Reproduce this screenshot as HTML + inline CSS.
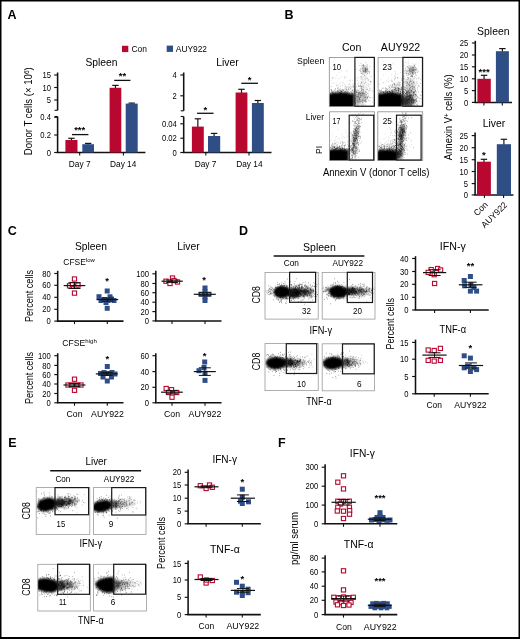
<!DOCTYPE html>
<html><head><meta charset="utf-8"><title>Figure</title>
<style>
html,body{margin:0;padding:0;background:#fff}
svg{display:block;font-family:"Liberation Sans",sans-serif}
</style></head><body>
<svg width="520" height="639" viewBox="0 0 520 639" opacity="0.999">
<rect x="0" y="0" width="520" height="639" fill="#fff"/>
<defs><filter id="bl" x="-30%" y="-30%" width="160%" height="160%"><feGaussianBlur stdDeviation="1.1"/></filter><filter id="b2"><feGaussianBlur stdDeviation="0.3"/></filter><clipPath id="c1"><rect x="329.3" y="57.4" width="45.3" height="49.1"/></clipPath><clipPath id="c2"><rect x="378.1" y="57.4" width="44.7" height="49.1"/></clipPath><clipPath id="c3"><rect x="329.6" y="111.8" width="44.9" height="48.6"/></clipPath><clipPath id="c4"><rect x="377.8" y="111.8" width="44.9" height="48.6"/></clipPath><clipPath id="c5"><rect x="265" y="272.4" width="53.2" height="46.7"/></clipPath><clipPath id="c6"><rect x="322.2" y="272.4" width="52.8" height="46.7"/></clipPath><clipPath id="c7"><rect x="265" y="343.6" width="53.2" height="47"/></clipPath><clipPath id="c8"><rect x="322.2" y="343.8" width="52.2" height="47"/></clipPath><clipPath id="c9"><rect x="36.2" y="487.6" width="53.6" height="47"/></clipPath><clipPath id="c10"><rect x="93.5" y="487.6" width="52.5" height="47"/></clipPath><clipPath id="c11"><rect x="37.8" y="564.3" width="52.5" height="46.7"/></clipPath><clipPath id="c12"><rect x="93.6" y="564.3" width="52.8" height="46.7"/></clipPath></defs>
<text x="7.5" y="18.5" font-size="12.5" font-weight="bold">A</text>
<text x="284.5" y="18.5" font-size="12.5" font-weight="bold">B</text>
<text x="7.8" y="235.2" font-size="12.5" font-weight="bold">C</text>
<text x="239" y="234.8" font-size="12.5" font-weight="bold">D</text>
<text x="8.3" y="447.1" font-size="12.5" font-weight="bold">E</text>
<text x="278" y="446.9" font-size="12.5" font-weight="bold">F</text>
<rect x="122" y="45.8" width="6.3" height="6.3" fill="#B8082F"/>
<text x="131.5" y="52.3" font-size="8.6" textLength="15.5" lengthAdjust="spacingAndGlyphs">Con</text>
<rect x="166.7" y="45.6" width="6.3" height="6.3" fill="#2F4E86"/>
<text x="175.8" y="52.3" font-size="8.6" textLength="31.2" lengthAdjust="spacingAndGlyphs">AUY922</text>
<text x="101.5" y="66.4" font-size="10.6" text-anchor="middle" textLength="32" lengthAdjust="spacingAndGlyphs">Spleen</text>
<line x1="57.6" y1="72.5" x2="57.6" y2="110.3" stroke="#111" stroke-width="1.55"/>
<line x1="54.6" y1="110.3" x2="57.6" y2="110.3" stroke="#111" stroke-width="1.1"/>
<line x1="57.6" y1="116.5" x2="57.6" y2="152.5" stroke="#111" stroke-width="1.55"/>
<line x1="54.6" y1="116.5" x2="57.6" y2="116.5" stroke="#111" stroke-width="1.1"/>
<line x1="54.2" y1="75" x2="57.6" y2="75" stroke="#111" stroke-width="1.15"/>
<text x="51" y="78.17" font-size="8.8" text-anchor="end" textLength="8.51" lengthAdjust="spacingAndGlyphs">15</text>
<line x1="54.2" y1="87.5" x2="57.6" y2="87.5" stroke="#111" stroke-width="1.15"/>
<text x="51" y="90.67" font-size="8.8" text-anchor="end" textLength="8.51" lengthAdjust="spacingAndGlyphs">10</text>
<line x1="54.2" y1="100" x2="57.6" y2="100" stroke="#111" stroke-width="1.15"/>
<text x="51" y="103.17" font-size="8.8" text-anchor="end" textLength="4.26" lengthAdjust="spacingAndGlyphs">5</text>
<line x1="54.2" y1="117.3" x2="57.6" y2="117.3" stroke="#111" stroke-width="1.15"/>
<text x="51" y="120.47" font-size="8.8" text-anchor="end" textLength="10.64" lengthAdjust="spacingAndGlyphs">0.4</text>
<line x1="54.2" y1="135" x2="57.6" y2="135" stroke="#111" stroke-width="1.15"/>
<text x="51" y="138.17" font-size="8.8" text-anchor="end" textLength="10.64" lengthAdjust="spacingAndGlyphs">0.2</text>
<line x1="54.2" y1="152.5" x2="57.6" y2="152.5" stroke="#111" stroke-width="1.15"/>
<text x="51" y="155.67" font-size="8.8" text-anchor="end" textLength="4.26" lengthAdjust="spacingAndGlyphs">0</text>
<line x1="56.83" y1="152.5" x2="145.4" y2="152.5" stroke="#111" stroke-width="1.55"/>
<line x1="79.7" y1="152.5" x2="79.7" y2="155.5" stroke="#111" stroke-width="1.1"/>
<line x1="123.4" y1="152.5" x2="123.4" y2="155.5" stroke="#111" stroke-width="1.1"/>
<line x1="71.45" y1="138.3" x2="71.45" y2="140.5" stroke="#151515" stroke-width="1.2"/>
<line x1="68.25" y1="138.3" x2="74.65" y2="138.3" stroke="#151515" stroke-width="1.2"/>
<rect x="65.4" y="140" width="12.1" height="12.5" fill="#B8082F"/>
<line x1="88.15" y1="143.4" x2="88.15" y2="144.7" stroke="#151515" stroke-width="1.2"/>
<line x1="84.95" y1="143.4" x2="91.35" y2="143.4" stroke="#151515" stroke-width="1.2"/>
<rect x="82.3" y="144.2" width="11.7" height="8.3" fill="#2F4E86"/>
<line x1="115.45" y1="85.4" x2="115.45" y2="88.3" stroke="#151515" stroke-width="1.2"/>
<line x1="112.25" y1="85.4" x2="118.65" y2="85.4" stroke="#151515" stroke-width="1.2"/>
<rect x="109.6" y="87.8" width="11.7" height="64.7" fill="#B8082F"/>
<line x1="131.7" y1="103.1" x2="131.7" y2="104.1" stroke="#151515" stroke-width="1.2"/>
<line x1="128.5" y1="103.1" x2="134.9" y2="103.1" stroke="#151515" stroke-width="1.2"/>
<rect x="125.7" y="103.6" width="12" height="48.9" fill="#2F4E86"/>
<line x1="72" y1="134.6" x2="88.4" y2="134.6" stroke="#111" stroke-width="1.3"/>
<text x="79.7" y="133.35" font-size="9.5" text-anchor="middle" font-weight="bold">***</text>
<line x1="114.2" y1="80.4" x2="130.4" y2="80.4" stroke="#111" stroke-width="1.3"/>
<text x="122.5" y="79.35" font-size="9.5" text-anchor="middle" font-weight="bold">**</text>
<text x="79.7" y="167.3" font-size="8.8" text-anchor="middle" textLength="21.7" lengthAdjust="spacingAndGlyphs">Day 7</text>
<text x="123.2" y="167.3" font-size="8.8" text-anchor="middle" textLength="26.3" lengthAdjust="spacingAndGlyphs">Day 14</text>
<text transform="translate(32.2 111.2) rotate(-90)" font-size="10.4" text-anchor="middle" textLength="88" lengthAdjust="spacingAndGlyphs">Donor T cells (× 10<tspan font-size="7" dy="-3.5">6</tspan><tspan dy="3.5">)</tspan></text>
<text x="227.5" y="66.4" font-size="10.6" text-anchor="middle" textLength="22.5" lengthAdjust="spacingAndGlyphs">Liver</text>
<line x1="183.7" y1="72.5" x2="183.7" y2="110.8" stroke="#111" stroke-width="1.55"/>
<line x1="180.7" y1="110.8" x2="183.7" y2="110.8" stroke="#111" stroke-width="1.1"/>
<line x1="183.7" y1="116.5" x2="183.7" y2="152.5" stroke="#111" stroke-width="1.55"/>
<line x1="180.7" y1="116.5" x2="183.7" y2="116.5" stroke="#111" stroke-width="1.1"/>
<line x1="180.3" y1="75" x2="183.7" y2="75" stroke="#111" stroke-width="1.15"/>
<text x="176.8" y="78.17" font-size="8.8" text-anchor="end" textLength="4.26" lengthAdjust="spacingAndGlyphs">4</text>
<line x1="180.3" y1="95.8" x2="183.7" y2="95.8" stroke="#111" stroke-width="1.15"/>
<text x="176.8" y="98.97" font-size="8.8" text-anchor="end" textLength="4.26" lengthAdjust="spacingAndGlyphs">2</text>
<line x1="180.3" y1="123.8" x2="183.7" y2="123.8" stroke="#111" stroke-width="1.15"/>
<text x="176.8" y="126.97" font-size="8.8" text-anchor="end" textLength="14.9" lengthAdjust="spacingAndGlyphs">0.04</text>
<line x1="180.3" y1="138.2" x2="183.7" y2="138.2" stroke="#111" stroke-width="1.15"/>
<text x="176.8" y="141.37" font-size="8.8" text-anchor="end" textLength="14.9" lengthAdjust="spacingAndGlyphs">0.02</text>
<line x1="180.3" y1="152.5" x2="183.7" y2="152.5" stroke="#111" stroke-width="1.15"/>
<text x="176.8" y="155.67" font-size="8.8" text-anchor="end" textLength="4.26" lengthAdjust="spacingAndGlyphs">0</text>
<line x1="182.92" y1="152.5" x2="271.5" y2="152.5" stroke="#111" stroke-width="1.55"/>
<line x1="205.8" y1="152.5" x2="205.8" y2="155.5" stroke="#111" stroke-width="1.1"/>
<line x1="249" y1="152.5" x2="249" y2="155.5" stroke="#111" stroke-width="1.1"/>
<line x1="197.85" y1="118.8" x2="197.85" y2="127.1" stroke="#151515" stroke-width="1.2"/>
<line x1="194.65" y1="118.8" x2="201.05" y2="118.8" stroke="#151515" stroke-width="1.2"/>
<rect x="191.9" y="126.6" width="11.9" height="25.9" fill="#B8082F"/>
<line x1="214.1" y1="133.4" x2="214.1" y2="136.5" stroke="#151515" stroke-width="1.2"/>
<line x1="210.9" y1="133.4" x2="217.3" y2="133.4" stroke="#151515" stroke-width="1.2"/>
<rect x="208" y="136" width="12.2" height="16.5" fill="#2F4E86"/>
<line x1="241.5" y1="89.3" x2="241.5" y2="93" stroke="#151515" stroke-width="1.2"/>
<line x1="238.3" y1="89.3" x2="244.7" y2="89.3" stroke="#151515" stroke-width="1.2"/>
<rect x="235.6" y="92.5" width="11.8" height="60" fill="#B8082F"/>
<line x1="257.85" y1="100.5" x2="257.85" y2="103.5" stroke="#151515" stroke-width="1.2"/>
<line x1="254.65" y1="100.5" x2="261.05" y2="100.5" stroke="#151515" stroke-width="1.2"/>
<rect x="251.9" y="103" width="11.9" height="49.5" fill="#2F4E86"/>
<line x1="197.1" y1="113.3" x2="213.5" y2="113.3" stroke="#111" stroke-width="1.3"/>
<text x="205.3" y="112.55" font-size="9.5" text-anchor="middle" font-weight="bold">*</text>
<line x1="241.3" y1="83.3" x2="258" y2="83.3" stroke="#111" stroke-width="1.3"/>
<text x="249.5" y="82.75" font-size="9.5" text-anchor="middle" font-weight="bold">*</text>
<text x="205.6" y="167.3" font-size="8.8" text-anchor="middle" textLength="21.7" lengthAdjust="spacingAndGlyphs">Day 7</text>
<text x="249.4" y="167.3" font-size="8.8" text-anchor="middle" textLength="26.3" lengthAdjust="spacingAndGlyphs">Day 14</text>
<text x="351.6" y="50.8" font-size="10.4" text-anchor="middle" textLength="19.4" lengthAdjust="spacingAndGlyphs">Con</text>
<text x="400.5" y="50.8" font-size="10.4" text-anchor="middle" textLength="39.3" lengthAdjust="spacingAndGlyphs">AUY922</text>
<text x="324.3" y="64.2" font-size="8.8" text-anchor="end" textLength="27.2" lengthAdjust="spacingAndGlyphs">Spleen</text>
<text x="324" y="119.8" font-size="8.8" text-anchor="end" textLength="18.2" lengthAdjust="spacingAndGlyphs">Liver</text>
<text transform="translate(321.7 150) rotate(-90)" font-size="8.8" text-anchor="middle" textLength="8.2" lengthAdjust="spacingAndGlyphs">PI</text>
<text x="376.2" y="175.8" font-size="10.2" text-anchor="middle" textLength="106.5" lengthAdjust="spacingAndGlyphs">Annexin V (donor T cells)</text>
<g clip-path="url(#c1)">
<g filter="url(#bl)">
<rect x="327" y="93.8" width="27" height="16.2" fill="#000" fill-opacity="1"/>
<ellipse cx="341" cy="96.5" rx="10" ry="4.2" fill="#000" fill-opacity="0.95"/>
<ellipse cx="334" cy="96" rx="5" ry="3.4" fill="#000" fill-opacity="0.8"/>
<ellipse cx="357" cy="101" rx="3" ry="5" fill="#000" fill-opacity="0.3"/>
<ellipse cx="364.7" cy="69.5" rx="3.2" ry="2.8" fill="#000" fill-opacity="0.24"/>
<ellipse cx="362" cy="97" rx="5" ry="7" fill="#000" fill-opacity="0.16"/>
<ellipse cx="364" cy="84" rx="4" ry="9" fill="#000" fill-opacity="0.06"/>
</g><g filter="url(#b2)">
<path d="M339.14 94.83h0.6M339.44 92.68h0.6M332.4 92.95h0.6M352.82 94.6h0.6M352.07 94.15h0.6M345.65 93.98h0.6M346.76 94.8h0.6M332.8 92.28h0.6M344.75 93.38h0.6M346.91 91.83h0.6M344.79 94.52h0.6M335.09 97.97h0.6M347.27 96.61h0.6M335.5 91.58h0.6M338.26 93.22h0.6M348.02 94.15h0.6M337.23 91.01h0.6M336.49 96.67h0.6M333.62 94.14h0.6M345.97 89.63h0.6M342.18 96.9h0.6M340.64 91.38h0.6M346.67 93.34h0.6M348.39 95.96h0.6M356.11 94.44h0.6M342.89 90.12h0.6M347.85 91.91h0.6M337.17 90.21h0.6M332.02 92.12h0.6M354.59 88.22h0.6M356.13 95h0.6M345.27 91.59h0.6M330.5 96.04h0.6M352.72 93.91h0.6M344.16 94.63h0.6M357.64 95.11h0.6M346.89 94.92h0.6M351.25 94.88h0.6M350.12 88.79h0.6M339.86 96.15h0.6M347.22 93.11h0.6M344.95 95.19h0.6M342.9 96.48h0.6M335.08 92.42h0.6M352.12 93.57h0.6M332.9 95.96h0.6M356.35 92.34h0.6M340.21 92.73h0.6M355.75 90.83h0.6M354.31 90.2h0.6M333.83 95.14h0.6M352.99 95.73h0.6M345.15 93.87h0.6M343.22 95h0.6M339.94 94.22h0.6M347.43 93.5h0.6M349.34 94.97h0.6M361.81 94.34h0.6M337.42 92.53h0.6M341.57 95.9h0.6M338.33 94.5h0.6M360.07 86.83h0.6M330.46 94.13h0.6M345.68 94.12h0.6M337.39 95.2h0.6M344.52 92.14h0.6M366 94.42h0.6M336.16 93.24h0.6M339.44 93.34h0.6M351.79 90.46h0.6M341.03 95.98h0.6M350.26 97.38h0.6M338.29 95.12h0.6M352.62 86.52h0.6M352.59 89.74h0.6M348.53 89.62h0.6M343.46 96.61h0.6M340.21 94h0.6M349.67 93.87h0.6M340.82 97.49h0.6M352.18 92.74h0.6M369.15 90.52h0.6M350.85 92.81h0.6M343.02 95.33h0.6M343.92 95.16h0.6M347.85 91h0.6M331.43 89.68h0.6M354.36 95.44h0.6M356.43 91.06h0.6M341.71 90.54h0.6M349.36 97.63h0.6M332.8 97.56h0.6M351.58 93.04h0.6M340.74 91.93h0.6M345.7 94.57h0.6M356.68 90.85h0.6M353.06 97.37h0.6M356.22 93.03h0.6M334.26 96.15h0.6M342.85 93.82h0.6M355.94 92.82h0.6M344.87 91.91h0.6M341.6 95.66h0.6M342.49 96.95h0.6M341.09 96.2h0.6M356.61 97.69h0.6M334.98 95.79h0.6M339.78 93.43h0.6M335.78 94.11h0.6M359.61 93.62h0.6M347.01 96.1h0.6M339.72 90.22h0.6M336.15 96.29h0.6M351.77 95.56h0.6M341.78 95.59h0.6M343.36 90.43h0.6M350.93 92.03h0.6M332.68 91.5h0.6M329.9 94.45h0.6M335.28 88.45h0.6M348.95 92.78h0.6M344.61 92.31h0.6M349.5 95.44h0.6M348.36 94.35h0.6M355.04 95.22h0.6M346.21 88.08h0.6M350.67 96.9h0.6M338.73 92.28h0.6M361.1 88.93h0.6M346.39 99.8h0.6M332.42 95.29h0.6M360.56 93.19h0.6M347.31 95.85h0.6M332.64 93.27h0.6M344.63 95.65h0.6M341.35 92.99h0.6M331.54 92.57h0.6M350.62 93.76h0.6M333.17 91.31h0.6M368.37 96.46h0.6M348.07 86.76h0.6M347.91 94.75h0.6M358.54 94.61h0.6M341.03 94.86h0.6M344.95 91.67h0.6M354.96 98.2h0.6M344.61 93.98h0.6M337.72 90.97h0.6M362.9 96.2h0.6M329.76 90h0.6M358.73 96.07h0.6M359.91 95.61h0.6M332.98 94.18h0.6M341.11 94.86h0.6M334.42 93.18h0.6M346.29 94.48h0.6M348.08 94.04h0.6M338.46 95.55h0.6M342.19 91.35h0.6M335.44 93.5h0.6M340.6 93.91h0.6M341.7 93.96h0.6M340.36 90.23h0.6M345.91 96.24h0.6M346.05 93.01h0.6M346.16 90.99h0.6M332.4 95.42h0.6M330.86 86.67h0.6M331.3 97.6h0.6M337.88 89.94h0.6M334.07 94.85h0.6M346.67 93.96h0.6M356.54 95.34h0.6M341.49 95.05h0.6M358.25 96.03h0.6M351.94 90.68h0.6M340.22 95.4h0.6M338.74 96.28h0.6M347.66 95.86h0.6M339.58 100.12h0.6M354.1 92.94h0.6M342.61 100.25h0.6M338.27 95.77h0.6M351.5 93.52h0.6M330.03 93.99h0.6M345.29 96.44h0.6M349.53 93.56h0.6M350.24 94.9h0.6M343.76 93.64h0.6M339.27 95.28h0.6M331.16 91.87h0.6M341.75 89.69h0.6M337.34 88.28h0.6M334.87 94.98h0.6M347.36 93.36h0.6M339.38 89.82h0.6M359.98 94.84h0.6M352.63 91.21h0.6M339.85 88.77h0.6M349.5 95.93h0.6M348 88.92h0.6M335.41 89.85h0.6M342.02 94.15h0.6M348.04 95.33h0.6M356.73 96.53h0.6M331.1 90.7h0.6M340.89 93.51h0.6M346.6 89.37h0.6M339.71 92.69h0.6M341.07 91.52h0.6M348.71 94.42h0.6M340.82 91.75h0.6M339.96 86.42h0.6M331.89 93.6h0.6M343.17 89.92h0.6M339.19 92.68h0.6M346.3 95.09h0.6M341.34 91.29h0.6M340.26 93.33h0.6M349.04 94.27h0.6M334.47 89.98h0.6M337.97 91.57h0.6M330.58 93.2h0.6M336.79 93.77h0.6M346.93 92.43h0.6M364.94 92.66h0.6M352.72 93.82h0.6M352.86 87.32h0.6M334.19 94.14h0.6M347.72 99.57h0.6M344.93 96.83h0.6M349.36 95.96h0.6M346.8 93.09h0.6M346.79 90.7h0.6M353.51 90.86h0.6M344.19 99.01h0.6M339.47 93.55h0.6M353.33 93.57h0.6M333.62 94.17h0.6M347.52 95.35h0.6M333.97 98.06h0.6M358.37 93.55h0.6M344.39 92.39h0.6M355.84 91.67h0.6M348.44 92.25h0.6M334.76 95.37h0.6M355.04 93.47h0.6M334.93 95.61h0.6M341.2 94.31h0.6M356.93 96.44h0.6M336.5 99.44h0.6M341.73 95.54h0.6M335.23 93.38h0.6M355.36 90.34h0.6M353.46 92.31h0.6M341.09 92.69h0.6M340.49 90.67h0.6M341.94 89.76h0.6M340.99 94.3h0.6M346.38 92.9h0.6M332.66 93.91h0.6M336.85 97.57h0.6M349.38 93.2h0.6M336.99 91.67h0.6M332.33 92.58h0.6M344.65 94.84h0.6M347.39 98.96h0.6M334.65 93.53h0.6M369.65 88.65h0.6M336.49 93.94h0.6M343.24 94.56h0.6M339.31 94.45h0.6M342.23 95.51h0.6M341.68 90.82h0.6M331.25 95.13h0.6M335.2 95.15h0.6M349.16 94.3h0.6M346.78 93.23h0.6M346.24 92.12h0.6M340.7 95.45h0.6M332.92 95.16h0.6M360.33 92.06h0.6M343.17 93.11h0.6M357.1 94.32h0.6M350.68 91.71h0.6M341.54 93.47h0.6M350.69 88.95h0.6M349.14 93.16h0.6M346.18 94.45h0.6M356.63 92.01h0.6M331.47 89.97h0.6M358.63 94.62h0.6M344.16 99.31h0.6M336.51 91.75h0.6M346.98 94.93h0.6M331.55 90.46h0.6M344.61 94.14h0.6M336.27 94.7h0.6M340.53 93.28h0.6M338.17 96.24h0.6" stroke="#000" stroke-width="0.6" fill="none" stroke-opacity="0.7"/>
<path d="M358.61 86.17h0.6M353.16 84.21h0.6M345.42 91.75h0.6M359.84 86.09h0.6M343.96 88.98h0.6M329.72 88.08h0.6M337.94 89.86h0.6M333.4 78.12h0.6M345.08 89.3h0.6M339.21 92.44h0.6M341.97 84.97h0.6M349.48 80.16h0.6M337.93 87.9h0.6M353.19 87.19h0.6M347.78 84.72h0.6M347.72 96.32h0.6M337.84 99.83h0.6M338.26 88.09h0.6M346.43 93.12h0.6M332.33 77.5h0.6M350.76 91.98h0.6M350.94 101.15h0.6M346.75 89.27h0.6M353.99 89.84h0.6M361.34 81.81h0.6M340.95 70.78h0.6M352.82 86.14h0.6M353.94 98.77h0.6M344.64 86.73h0.6M339.7 83.81h0.6M338.4 91.2h0.6M345.07 88.33h0.6M342.97 92.57h0.6M349.64 87.29h0.6M351.35 87.24h0.6M333.17 95.28h0.6M349.35 83.21h0.6M355.49 89.72h0.6M348.03 92.46h0.6M346.68 87.25h0.6M345 86.57h0.6M348.21 88.39h0.6M351.46 86.14h0.6M344.34 77.31h0.6M340.47 91.38h0.6M358.07 86.18h0.6M343.49 95.92h0.6M341.44 91.67h0.6M361.48 88.2h0.6M356.97 84.45h0.6M346.78 87.61h0.6M345.85 93.65h0.6M368.6 84.67h0.6M338.95 90.49h0.6M334.15 90.49h0.6M350.42 86.61h0.6M350.01 80.25h0.6M352.3 80.28h0.6M337.74 85.22h0.6M340.69 92.29h0.6M345.52 86.01h0.6M350.13 95.91h0.6M344.76 89.83h0.6M357.1 89.34h0.6M331.86 100.45h0.6M366.78 78.08h0.6M344.31 90.09h0.6M354.36 91.35h0.6M341.98 82.73h0.6M345.73 93.17h0.6M333.8 82.86h0.6M344.45 78.31h0.6M342.1 85.82h0.6M349.21 84.49h0.6M335.88 86.03h0.6M344.2 84.68h0.6M344.82 91.75h0.6M356.55 96.52h0.6M336.87 85.9h0.6M337.45 87.83h0.6M349.93 81.21h0.6M349.34 87.87h0.6M356.65 78.66h0.6M352.77 89.05h0.6M349.45 90.21h0.6M357.74 86.88h0.6M353.44 85.95h0.6M351.98 83.93h0.6M343.62 96.66h0.6M349.16 87.21h0.6" stroke="#000" stroke-width="0.6" fill="none" stroke-opacity="0.4"/>
<path d="M357.12 92.26h0.6M362.47 102.64h0.6M363.4 100.14h0.6M361.53 105.11h0.6M360.14 93.7h0.6M365.25 97.38h0.6M360.59 93.54h0.6M360.67 100.74h0.6M363.11 89.74h0.6M363.41 98.07h0.6M357.7 101.64h0.6M360.58 94.99h0.6M364.88 104.92h0.6M358.95 99.63h0.6M359.72 104.17h0.6M359.11 101.87h0.6M370.58 81.75h0.6M359.96 100h0.6M361.33 92.99h0.6M370.31 97.48h0.6M355.12 102.12h0.6M354.81 103.91h0.6M359.39 97.87h0.6M366.74 97.71h0.6M356.14 86.82h0.6M366.43 101.44h0.6M358.44 102.16h0.6M363.69 100.89h0.6M352.66 95.19h0.6M365.3 101.4h0.6M365.23 82.26h0.6M362.38 99.95h0.6M371.91 91.28h0.6M360.38 97.22h0.6M365.24 94.34h0.6M366.29 92.27h0.6M362.77 93.84h0.6M362.33 92.86h0.6M355.31 103.56h0.6M362.91 93.65h0.6M362.5 102.94h0.6M357.79 96.34h0.6M363.86 100.16h0.6M360.36 84.36h0.6M366.67 98.97h0.6M361.75 95.33h0.6M362.75 94.45h0.6M357.6 92.56h0.6M359.31 93.33h0.6M357.07 100.82h0.6M356.46 100.96h0.6M357.64 99.11h0.6M367.2 98.22h0.6M358.78 97.29h0.6M362.29 86.6h0.6M359.27 97.98h0.6M359.82 97.48h0.6M364.64 101.6h0.6M365.32 100.53h0.6M360.55 96.89h0.6M360.62 95.12h0.6M360.98 86.65h0.6M360.37 96.86h0.6M357.8 96.86h0.6M363.76 96.01h0.6M370.01 81.36h0.6M360.87 86.05h0.6M351.69 97.77h0.6M363.78 95.19h0.6M363.91 83.54h0.6M365.11 99.23h0.6M361.79 93.47h0.6M364.25 94.09h0.6M362.59 93.94h0.6M352.71 96.81h0.6M362.51 101.53h0.6M358.2 96.8h0.6M364.17 97.87h0.6M358.07 85.47h0.6M365.39 101.88h0.6M359.23 92.72h0.6M365.25 91.53h0.6M354.45 91.01h0.6M358.95 92.63h0.6M362.63 92.5h0.6M366.94 96.53h0.6M357.35 104.85h0.6M359.37 98.33h0.6M361.65 95.11h0.6M363 92.85h0.6M354.32 83.75h0.6M356.63 92.45h0.6M361.61 97.33h0.6M363.92 97.72h0.6M358.53 92.75h0.6M353.22 95.99h0.6M363.64 100.18h0.6M361.21 95.95h0.6M365.45 97.09h0.6M364.65 100.5h0.6M362.55 104.84h0.6M359.41 94.85h0.6M358.47 92.22h0.6M361.79 100.41h0.6M366.4 101.84h0.6M366.52 89.42h0.6M359.14 99.72h0.6M367.44 97.62h0.6M358.27 94.87h0.6M359.06 91.85h0.6M367.7 93.25h0.6M366.44 99.02h0.6M359.25 99.46h0.6M368.19 100.74h0.6M366.75 97.59h0.6M363.77 95.79h0.6M363.41 104.8h0.6M355.98 96.62h0.6M362.66 93.57h0.6M360.47 101.72h0.6M369.71 100.78h0.6M363 87.69h0.6M369.41 97.46h0.6M361.56 90.29h0.6M361.47 90.42h0.6M361.98 99.8h0.6M361.82 98.68h0.6M358.29 105.58h0.6M359.09 86.09h0.6M360.95 92.42h0.6M357.66 94.87h0.6M362.86 89.91h0.6M361.15 105.56h0.6M364.43 96.09h0.6M362.21 96.28h0.6M361.51 101.39h0.6M361.33 82.57h0.6M361.61 91.66h0.6M364.31 93.34h0.6M357.51 90.25h0.6" stroke="#000" stroke-width="0.6" fill="none" stroke-opacity="0.6"/>
<path d="M360.73 63.27h0.6M359.52 70.45h0.6M362.74 64.64h0.6M360.55 71.1h0.6M362.38 68.55h0.6M365.26 73.03h0.6M369.45 72.18h0.6M364.77 69.98h0.6M369.09 73.21h0.6M363.59 70.69h0.6M365.15 69.64h0.6M363.1 66.05h0.6M363.01 65.49h0.6M367.58 70.9h0.6M361.26 73.13h0.6M366.72 64.54h0.6M369.19 71.61h0.6M369.77 66.3h0.6M365.78 70.6h0.6M364.92 69.95h0.6M367.14 65.61h0.6M361.17 65.88h0.6M362.95 67.93h0.6M365.36 70.19h0.6M364.48 67.74h0.6M363.25 71.98h0.6M366.39 69.76h0.6M363.56 73.54h0.6M362.86 71.19h0.6M367.4 68.81h0.6M366.55 66.6h0.6M367.03 70.02h0.6M360.27 71.24h0.6M362.08 72.83h0.6M362.63 69.07h0.6M365.14 68.64h0.6M365.07 68.06h0.6M366.15 69.51h0.6M364.95 62.34h0.6M367.42 69.58h0.6M359.77 69.75h0.6M365.61 72.28h0.6M361.58 73.52h0.6M363.99 75.73h0.6M364.02 71.27h0.6M363.45 66.6h0.6M367.25 71.86h0.6M368.4 71.73h0.6M362.91 65.18h0.6M362.71 67.74h0.6M362.28 71.01h0.6M365.25 68.8h0.6M364.85 69.12h0.6M364.95 71.46h0.6M366.89 67.72h0.6M360.48 73.21h0.6M364.7 72.37h0.6M360.13 68.64h0.6M364.47 65.75h0.6M363.06 71.38h0.6M367.2 73.64h0.6M362.15 65.86h0.6M365.75 71.95h0.6M364.9 66.12h0.6M366.43 71.56h0.6M365.84 68.23h0.6M365.19 71.56h0.6M362.95 64.71h0.6M365.25 70.75h0.6M364.44 71.81h0.6" stroke="#000" stroke-width="0.6" fill="none" stroke-opacity="0.6"/>
<path d="M361.35 83.26h0.6M362.48 89.14h0.6M370.08 81.74h0.6M371.92 97.76h0.6M366.86 89.28h0.6M370.78 82.38h0.6M363.25 74.44h0.6M365.59 96.1h0.6M365.83 87.81h0.6M362.9 85.53h0.6M358 93.44h0.6M362.06 74.06h0.6M360.69 76.58h0.6M367.12 93.52h0.6M358.27 92.34h0.6M367.25 78.79h0.6M357.75 77.29h0.6M361.16 87.08h0.6M362.27 65.75h0.6M364.63 70.19h0.6M367.32 73.14h0.6M360.93 76.31h0.6M361.53 95.68h0.6M367.11 89.42h0.6M364.98 70.07h0.6M361.62 79.03h0.6M359.79 88.58h0.6M360.74 77.61h0.6M359.52 65.48h0.6M366.08 95.98h0.6M364.4 75.21h0.6M352.88 85.56h0.6M368.57 86.68h0.6M367.41 97.3h0.6M368.21 80.03h0.6M367.91 90.98h0.6M357.55 80.35h0.6M358 83.02h0.6M366.01 74.39h0.6M355.48 95.69h0.6M365.21 97.24h0.6M358.41 93.54h0.6M372 102.06h0.6M362.86 86.42h0.6M363.08 92.99h0.6M367.85 84.78h0.6M358.26 90.67h0.6M361.82 89.66h0.6M364.75 98.61h0.6M368.25 79.94h0.6M365.1 99.88h0.6M361.55 87.9h0.6M368.46 95.31h0.6M365.77 72.12h0.6M358.66 86.23h0.6M360.25 94.24h0.6M366.78 68.96h0.6M360.43 85.5h0.6M361.73 82.61h0.6M365.58 76.71h0.6M365.57 78.27h0.6M361.52 88.83h0.6M361.41 86.58h0.6M370.1 84.24h0.6M363.12 90.62h0.6M362.24 93.75h0.6M358.57 89.57h0.6M361.65 76.81h0.6M370.78 76.35h0.6M370.73 89.92h0.6" stroke="#000" stroke-width="0.6" fill="none" stroke-opacity="0.5"/>
<path d="M355.78 69.21h0.6M353.49 91.11h0.6M341.65 76.84h0.6M364.8 79.6h0.6M338.9 72.33h0.6M346.71 80.97h0.6M344.3 93.49h0.6M339.75 82.26h0.6M355.83 68.96h0.6M352.05 94.49h0.6M330.51 68.12h0.6M333.35 61.38h0.6M346.77 61.29h0.6M347.19 91.08h0.6M336.06 75.61h0.6M343.19 82.91h0.6M339.58 78.14h0.6M337.78 79.03h0.6M332.15 78.57h0.6M359.94 78.72h0.6M331.36 80.31h0.6M333.95 63.14h0.6M336.07 84.63h0.6M346.16 77.13h0.6M334.36 68.29h0.6M354.85 80.2h0.6M334.13 59h0.6M330.37 100.28h0.6M332.36 77.31h0.6M344.59 76.58h0.6M340.2 65.64h0.6M333.24 93.2h0.6M335.89 85.61h0.6M345.05 87.33h0.6M332.6 83.36h0.6M346.17 71.36h0.6M346.99 69.92h0.6M335.54 77.83h0.6M333.7 64.83h0.6M338.87 84.87h0.6" stroke="#000" stroke-width="0.6" fill="none" stroke-opacity="0.3"/>
</g></g>
<rect x="329.3" y="57.4" width="45.3" height="49.1" fill="none" stroke="#8a8a8a" stroke-width="0.8"/>
<rect x="354.9" y="57.4" width="19.4" height="48.8" fill="none" stroke="#1a1a1a" stroke-width="1.2"/>
<text x="336.7" y="69.8" font-size="8.6" text-anchor="middle" textLength="8.6" lengthAdjust="spacingAndGlyphs">10</text>
<g clip-path="url(#c2)">
<g filter="url(#bl)">
<rect x="376" y="93.8" width="26" height="16.2" fill="#000" fill-opacity="1"/>
<ellipse cx="390" cy="96.5" rx="10" ry="4.2" fill="#000" fill-opacity="0.95"/>
<ellipse cx="383" cy="96.5" rx="5" ry="3.4" fill="#000" fill-opacity="0.8"/>
<ellipse cx="408" cy="101" rx="7" ry="6" fill="#000" fill-opacity="0.6"/>
<ellipse cx="405" cy="102" rx="3" ry="5" fill="#000" fill-opacity="0.4"/>
<ellipse cx="412" cy="70" rx="3.4" ry="3" fill="#000" fill-opacity="0.27"/>
<ellipse cx="410.5" cy="88" rx="5" ry="10" fill="#000" fill-opacity="0.14"/>
<ellipse cx="398" cy="88" rx="4" ry="6" fill="#000" fill-opacity="0.1" transform="rotate(-35 398 88)"/>
</g><g filter="url(#b2)">
<path d="M386.66 96.79h0.6M379.1 90.09h0.6M406.21 94.54h0.6M400.15 91.35h0.6M398.74 94.18h0.6M397.19 93.57h0.6M402.76 91.81h0.6M381.06 89.66h0.6M402.31 91.58h0.6M380.27 91.06h0.6M386.25 90.19h0.6M387.8 91.87h0.6M385.19 91.01h0.6M391.07 92.3h0.6M391.85 94.15h0.6M394.1 87.81h0.6M385.34 91.43h0.6M398.44 89.4h0.6M383.56 92.74h0.6M387.34 96.08h0.6M386.27 96.01h0.6M402.89 94.63h0.6M395.58 93.82h0.6M395.54 90.34h0.6M400.19 92.12h0.6M400.56 93.73h0.6M401.98 93.14h0.6M386.75 94.13h0.6M386.45 92.08h0.6M391.72 93.88h0.6M405.87 93.62h0.6M409.5 98.19h0.6M407.87 96.26h0.6M392.01 93.86h0.6M389.27 91.6h0.6M390.04 91.83h0.6M407.1 94.89h0.6M386.23 88.52h0.6M390.17 92.42h0.6M379.84 90.55h0.6M390.04 100.21h0.6M390.39 93.11h0.6M405.14 93.85h0.6M392.37 92.53h0.6M384.65 97.4h0.6M400.7 97.96h0.6M387.2 93.58h0.6M381.89 96.01h0.6M401.66 97.17h0.6M381.3 96.33h0.6M383.56 91.53h0.6M407.18 91.95h0.6M383.11 92.62h0.6M415.77 96.11h0.6M385.27 88.83h0.6M383.97 96.59h0.6M409.38 92.81h0.6M383.79 92.17h0.6M379.84 96.26h0.6M393.58 91.51h0.6M398.51 93.52h0.6M378.95 95.12h0.6M399.12 88.53h0.6M408.96 94.79h0.6M398.3 88.66h0.6M383.5 92.59h0.6M401.47 89.71h0.6M381.86 88.22h0.6M388.29 94.4h0.6M395.8 97.62h0.6M397.34 92.71h0.6M378.92 91.07h0.6M384.06 93.88h0.6M390.2 97.83h0.6M393.57 90.71h0.6M406.14 95.97h0.6M391.71 91.63h0.6M399.82 91.41h0.6M393.14 95.08h0.6M397.26 97.16h0.6M382.31 96.04h0.6M380.83 95.3h0.6M392.49 94.13h0.6M400.38 93.45h0.6M401.82 95.78h0.6M392.05 92.03h0.6M383.17 92.13h0.6M388.68 93.44h0.6M420.51 95.16h0.6M398.39 91.26h0.6M383.6 92.67h0.6M392.62 90.81h0.6M406.82 92.04h0.6M401.48 87.43h0.6M390.63 94.22h0.6M392.61 95.06h0.6M393.5 93.92h0.6M393.77 92.99h0.6M382.49 91.99h0.6M409.15 98h0.6M390.12 96.85h0.6M385.87 91.23h0.6M385.11 93.99h0.6M420.95 91.78h0.6M391.2 94.22h0.6M390.36 95.92h0.6M408.45 90.27h0.6M392.32 92.81h0.6M394.26 89.52h0.6M395.95 94h0.6M391.44 87.35h0.6M386.96 91.54h0.6M397.68 94.91h0.6M390.47 94.84h0.6M384.67 93.69h0.6M391.1 94.94h0.6M390 93.13h0.6M389.35 91.82h0.6M413.04 94.84h0.6M394.99 99.46h0.6M404.73 89.45h0.6M397.65 95.68h0.6M409.55 96.92h0.6M398.41 90.44h0.6M381.99 94.2h0.6M395.75 90.84h0.6M386.85 92.46h0.6M391.31 94.37h0.6M387.83 90.28h0.6M403.13 97.65h0.6M389.64 96.16h0.6M395.14 95.22h0.6M395.51 91.52h0.6M396.44 96.13h0.6M381.74 98.61h0.6M411.6 98.24h0.6M410.59 95.43h0.6M387.32 91.94h0.6M382.57 93.8h0.6M390.37 95.24h0.6M413.46 93.43h0.6M397.46 94.74h0.6M393.43 92.96h0.6M389.47 91.36h0.6M392.48 93.44h0.6M393.9 91.28h0.6M391.1 93.62h0.6M396.74 90.74h0.6M394.89 96.06h0.6M396.67 92.54h0.6M385.79 92.89h0.6M397.99 97.54h0.6M389.12 91.83h0.6M394.46 94.03h0.6M381.62 91.58h0.6M389.68 95.25h0.6M378.77 90.85h0.6M395.69 90.32h0.6M391.79 94.42h0.6M389.59 90.85h0.6M390.1 92.64h0.6M394.06 91.32h0.6M401.61 89.14h0.6M388.94 93.52h0.6M400.32 91.92h0.6M396.16 92.03h0.6M398.08 98.02h0.6M386.69 94.65h0.6M381.43 96.03h0.6M402.81 93.59h0.6M379.35 94.55h0.6M402.19 96.33h0.6M398.83 88.74h0.6M383.9 97.2h0.6M378.44 96.44h0.6M409.52 95.48h0.6M401.9 92.63h0.6M378.45 93.23h0.6M388.71 93.38h0.6M397.67 93.12h0.6M392.62 94.6h0.6M390.65 98.29h0.6M395.12 93.72h0.6M388.62 91.87h0.6M404.14 93.89h0.6M379.91 92.04h0.6M389.33 92.34h0.6M401.54 90.48h0.6M395.62 93.87h0.6M378.92 93.62h0.6M389.76 94.8h0.6M386.2 94.29h0.6M398.55 96.21h0.6M390.57 91.94h0.6M401.53 88.06h0.6M382.7 95.25h0.6M397.23 90.82h0.6M392.23 91.17h0.6M391.25 95.84h0.6M398.1 88.09h0.6M398.41 88.87h0.6M402.09 94.54h0.6M413.22 91.91h0.6M390.75 96.22h0.6M384.3 91.67h0.6M386.98 93.31h0.6M379.88 94.76h0.6M396.13 93.69h0.6M407.7 92.65h0.6M403.77 92.08h0.6M398.26 88.47h0.6M392.68 93.04h0.6M385.75 91.91h0.6M387.23 91.63h0.6M385.2 92.14h0.6M380.12 93.15h0.6M398.54 92.85h0.6M385.77 97.03h0.6M400.47 95.9h0.6M402.25 92.65h0.6M389.41 96.39h0.6M385.16 93.19h0.6M394.48 94.47h0.6M387.94 96.06h0.6M388.92 95.39h0.6M401.41 95.21h0.6M398.03 90.48h0.6M395.45 97.4h0.6M378.48 94.3h0.6M382.16 91.6h0.6M387.94 95.3h0.6M392.83 96.57h0.6M380.84 95.81h0.6M400 93.68h0.6M395.47 92.04h0.6M379.8 92.45h0.6M384.27 101.01h0.6M385.85 97.79h0.6M392.72 94.31h0.6M398.13 91.47h0.6M399.87 94.48h0.6M396.23 94.68h0.6M406.55 92.42h0.6M395.82 95.45h0.6M381.7 96.62h0.6M395.92 90.67h0.6M389.54 89.22h0.6M391.39 90.55h0.6M394.12 89.52h0.6M395.19 92.81h0.6M391.34 93.32h0.6M392.01 90.06h0.6M381.34 92.32h0.6M394.97 88.34h0.6M383.07 91.91h0.6M380.13 94.35h0.6M389.3 91.37h0.6M380.86 95.6h0.6M384.11 95.02h0.6M395.19 88.58h0.6M379.86 93.51h0.6M394.12 95.53h0.6M398.72 96.19h0.6M386.96 92.95h0.6M398.46 92.39h0.6M401.27 89.37h0.6M397.24 93.05h0.6M393.81 93.55h0.6M379.93 92.29h0.6M405.82 91.35h0.6M378.7 93.16h0.6M386.77 91.13h0.6M382.28 96.22h0.6M385.26 90.66h0.6M398.57 94.97h0.6M380.27 95.45h0.6M401.96 92.84h0.6M399.87 93.44h0.6M394.88 95.5h0.6M409.23 92.84h0.6M385.88 93.4h0.6M402.76 91.05h0.6M403.75 86.35h0.6M398.68 91.74h0.6M395.29 95.29h0.6M378.87 93.28h0.6M393.11 95.03h0.6M381.4 90.92h0.6M388.78 92.92h0.6M385.35 97.23h0.6M399.22 93.55h0.6M397.97 90.61h0.6M387.44 92h0.6M389.25 97.23h0.6M381.52 92.29h0.6M394.92 94.55h0.6M390.98 92.27h0.6M395.64 94.44h0.6M392.17 93.66h0.6M391.84 91.22h0.6" stroke="#000" stroke-width="0.6" fill="none" stroke-opacity="0.7"/>
<path d="M394.09 83.34h0.6M398.76 90.13h0.6M409.74 90.02h0.6M389.26 86.96h0.6M388.19 91.11h0.6M411.54 86.71h0.6M385.36 92.94h0.6M395.71 89.01h0.6M409.95 79.41h0.6M388.92 99.27h0.6M398.44 82.82h0.6M379.47 84.28h0.6M396.05 92.41h0.6M394.59 84.31h0.6M389.77 98.71h0.6M381.57 92.26h0.6M395.91 90.55h0.6M392.46 90.91h0.6M402.22 84.96h0.6M392.04 87.57h0.6M387.98 88.58h0.6M393.28 89.22h0.6M406.39 91.15h0.6M392.14 91.52h0.6M398.06 90.69h0.6M395.87 88.79h0.6M391.95 84.58h0.6M402.68 92.13h0.6M401 88.24h0.6M397.83 84.65h0.6M381.44 94.77h0.6M397.29 84.27h0.6M387.98 96.06h0.6M381.27 100.35h0.6M400.82 98.04h0.6M389.96 88.97h0.6M391.65 89.4h0.6M394.02 84.19h0.6M404.3 81.18h0.6M391.64 91.41h0.6M391.4 86.49h0.6M398.55 84.86h0.6M385.73 89.73h0.6M393.94 96.58h0.6M386.92 94.8h0.6M389.41 87.43h0.6M393.09 89.58h0.6M402.61 94.42h0.6M390.61 95.6h0.6M403.66 89.41h0.6M389.63 93.71h0.6M394.84 89.52h0.6M393.55 91.44h0.6M404.62 90.75h0.6M394.06 92.97h0.6M407.32 79.59h0.6M407.48 77.53h0.6M400.04 89.3h0.6M407.56 85.64h0.6M391.85 84.54h0.6M385.69 94.11h0.6M393.8 84.4h0.6M399.96 82.47h0.6M392.21 86.15h0.6M408.93 91.23h0.6M394.44 79.93h0.6M397.91 87.25h0.6M398.49 89.58h0.6M393.14 92.87h0.6M402.4 86.72h0.6M392.45 85.97h0.6M401.24 80.43h0.6M394.42 84.07h0.6M384.55 93.61h0.6M395.49 87.74h0.6M402.69 78.05h0.6M395.16 89.1h0.6M402.36 80.2h0.6M401.43 87.03h0.6M406.55 90.26h0.6M400.1 97.12h0.6M395.69 85.36h0.6M392.97 83.51h0.6M395.47 78.09h0.6M395.02 89.83h0.6M403.63 83.57h0.6M406.81 81.16h0.6M394.62 78.33h0.6M389.61 85.19h0.6M407.37 86.9h0.6M387.07 92.5h0.6M399.46 85.32h0.6M395.88 85.95h0.6M391.46 79.94h0.6M394.99 94.02h0.6M406.89 83.05h0.6M389.87 88.06h0.6M402.71 87.3h0.6M391.14 90.54h0.6M394.09 90.48h0.6M392.52 81.14h0.6M396.15 91.11h0.6M387.06 89.35h0.6M402.55 83.78h0.6M390.62 98.87h0.6M402.17 90.77h0.6M388.33 97.55h0.6M382.79 88.51h0.6M401.46 92.44h0.6M388.46 86.23h0.6M397.23 77.62h0.6M400.67 88.88h0.6M392.22 91.09h0.6M401.74 87.36h0.6M399.76 93.79h0.6M391.99 89.31h0.6M391.64 93.68h0.6M392.54 90.69h0.6M396.76 87.53h0.6M409.01 83.42h0.6M406.68 88.51h0.6M405.92 83.88h0.6M402.89 89.21h0.6M390.95 90.12h0.6M394.7 87.6h0.6M405.77 81.22h0.6M382.69 82.59h0.6M392.2 85.32h0.6M395.81 90.22h0.6M409.3 85.27h0.6M399.28 82.94h0.6M400.18 92.88h0.6M406.05 75.15h0.6M402.57 93.31h0.6M402.08 78.48h0.6M393.33 91h0.6M398.9 82.68h0.6M388.84 94.08h0.6M385.42 97.29h0.6M395.85 88.92h0.6M385.43 87.43h0.6M401.01 78.9h0.6M411.65 76.3h0.6M386.29 90.3h0.6M399.41 90.04h0.6M392.84 87.28h0.6M393.88 85.21h0.6M397.63 87.74h0.6M390.87 90.05h0.6M395.6 87.16h0.6M404.2 76.82h0.6M397.64 81.8h0.6M393.26 95.43h0.6M387.37 89.31h0.6M391.15 93.35h0.6M388.17 81.42h0.6M399.65 84.7h0.6M393.25 93.41h0.6M388.88 87.57h0.6M396.83 89.19h0.6" stroke="#000" stroke-width="0.6" fill="none" stroke-opacity="0.5"/>
<path d="M405.97 103.96h0.6M420.54 95.65h0.6M418.58 85.84h0.6M416.13 96.02h0.6M409.43 96.04h0.6M405.34 90.64h0.6M406.62 105.47h0.6M414.72 95.99h0.6M405.91 93.96h0.6M412.2 98.68h0.6M406.1 92.11h0.6M415.65 102.5h0.6M403.67 103.7h0.6M402.85 101.7h0.6M403.63 95.61h0.6M411.31 100.49h0.6M414.04 93.18h0.6M417.04 105.74h0.6M408.65 100.68h0.6M404.59 97.12h0.6M401.73 98.51h0.6M409.75 105.74h0.6M413.7 102.69h0.6M406.79 96.71h0.6M406.9 99.28h0.6M398.51 102.44h0.6M400.43 95.03h0.6M408.82 95.04h0.6M417.48 97.44h0.6M417 104.76h0.6M406.08 100.31h0.6M415.56 96.08h0.6M409.17 94.79h0.6M409.01 95.96h0.6M409.14 103.77h0.6M416.05 98.77h0.6M409.77 102.93h0.6M407.17 91.9h0.6M414.56 92.62h0.6M413.61 92.44h0.6M418.36 91.99h0.6M404.35 87.84h0.6M412.51 102.04h0.6M407.63 83.46h0.6M408.41 96.24h0.6M406.7 96.33h0.6M399.25 94.73h0.6M406.79 93.9h0.6M410.79 104.12h0.6M412.52 91.27h0.6M409.56 98.81h0.6M416.29 104.89h0.6M411.47 105.01h0.6M406.45 100.28h0.6M413.55 92.74h0.6M404.99 87.87h0.6M409.57 97.68h0.6M406.97 100.87h0.6M397.53 97.86h0.6M409.16 96.47h0.6M406.35 92.59h0.6M405.51 98.53h0.6M411.79 93.04h0.6M413.98 92.1h0.6M413.07 100.46h0.6M407.31 97.05h0.6M411.22 102.97h0.6M401.63 99.58h0.6M404.78 101.63h0.6M415.93 98.3h0.6M408.14 99.06h0.6M393.1 102.44h0.6M411.66 98.95h0.6M406.61 93.79h0.6M407.75 104.99h0.6M408.16 105.76h0.6M395.12 95.35h0.6M410.15 97.92h0.6M399.93 94.17h0.6M415.3 90.56h0.6M403.47 91.68h0.6M405.79 101.7h0.6M411.84 86.31h0.6M416.41 94.59h0.6M408.27 90.86h0.6M405.33 93.81h0.6M403.37 96.08h0.6M413.33 100.02h0.6M403.47 98.67h0.6M408.87 102.39h0.6M406.97 100.63h0.6M419.82 98.55h0.6M402.98 99.89h0.6M404.46 95.87h0.6M409.69 99.94h0.6M407.2 102.89h0.6M407.68 90.49h0.6M413.34 95.9h0.6M415.1 94.23h0.6M411.72 99.81h0.6M394.46 89.4h0.6M398.73 103.26h0.6M414.47 100.85h0.6M412.26 95.14h0.6M408.64 99.29h0.6M410.92 102.07h0.6M407.61 93.96h0.6M405.73 100.37h0.6M399.93 90.78h0.6M406.53 94.82h0.6M407.27 82.66h0.6M406.9 96.55h0.6M412.8 86.6h0.6M407.08 100.73h0.6M411.28 104.89h0.6M414.27 91.95h0.6M412.06 96.07h0.6M405.37 93.08h0.6M406.54 93.09h0.6M414.02 100.19h0.6M416.1 100.37h0.6M405.45 104.04h0.6M405.24 95.33h0.6M407.81 98.23h0.6M415.02 94.5h0.6M410.56 97.84h0.6M402.04 91.68h0.6M407.54 100.34h0.6M410.4 100.77h0.6M408.96 95.41h0.6M410.96 92.21h0.6M401.59 96.08h0.6M401.13 95.03h0.6M404.74 94.8h0.6M408.46 93.37h0.6M406.46 88.11h0.6M409.47 92.91h0.6M410.84 81.65h0.6M404.45 99.41h0.6M395.76 95.92h0.6M409.2 98.6h0.6M400.76 99.33h0.6M409.49 92.37h0.6M412.65 97.72h0.6M408.8 95.4h0.6M411.61 98.56h0.6M414.73 100.61h0.6M405.42 96.71h0.6M413.58 95.88h0.6M410.73 101.02h0.6M407.75 84.51h0.6M409.4 99.24h0.6M409.42 93.6h0.6M415.13 97.22h0.6M405.39 93.84h0.6M410.61 91.67h0.6M415.67 104.11h0.6M415.96 101.45h0.6M399.74 104.93h0.6M415.29 100.85h0.6M398.29 105.22h0.6M415.97 95.14h0.6M409.38 102.51h0.6M408.25 104.38h0.6M409.13 102.02h0.6M409.15 89.41h0.6M410.19 105.62h0.6M411.65 94.54h0.6M408.8 86.84h0.6M407.7 103.27h0.6M397.17 99.15h0.6M413.09 105.73h0.6M403.76 94.21h0.6M398.69 92.07h0.6M410.98 95.12h0.6M420.41 83.31h0.6M408.34 99.28h0.6M420.79 98.78h0.6M413.94 105.95h0.6M411.44 100.1h0.6M407.72 95.62h0.6M406.31 85.87h0.6M410.11 97.8h0.6M408.13 96.45h0.6M404.71 97.87h0.6M406.35 99.19h0.6M413.32 102.76h0.6M412.53 102.78h0.6M414.09 105.87h0.6M406.01 97.99h0.6M404.8 103.59h0.6M413.15 95.28h0.6M415.32 91.48h0.6M408.21 101.71h0.6M408.51 100.26h0.6M415.02 99.92h0.6M402.82 102.18h0.6M408.18 98.67h0.6M405.67 89.92h0.6M402.02 95.94h0.6M402.97 82.14h0.6M414.85 91.21h0.6M404.82 101.11h0.6M395.79 105.84h0.6M404.58 101.86h0.6M406.12 99.79h0.6M409.26 97.99h0.6M398.91 89.41h0.6M405.78 101.11h0.6M409.57 100.83h0.6M414.01 89.24h0.6M410.17 96.96h0.6M407.03 93.01h0.6M404.49 91.98h0.6M417.81 98.06h0.6M412.68 92.29h0.6M393.79 87.35h0.6M408.47 92.15h0.6M407.4 92.17h0.6M401.23 96.64h0.6M406.56 93.25h0.6M403.95 92.56h0.6M400.03 99.6h0.6M402.5 97.06h0.6M409.25 101.27h0.6M414.76 94.75h0.6M402.04 96.9h0.6M410.27 93.92h0.6M401.08 100.12h0.6M414.15 86.76h0.6M409.8 96.68h0.6M401.07 105.69h0.6M409.86 95.2h0.6M411.08 101.76h0.6M412.82 101.39h0.6M410.89 91.12h0.6M406.44 98.75h0.6M406.67 91.83h0.6M398.95 99.46h0.6M408.87 94.59h0.6M406.47 92.81h0.6M404.68 97.43h0.6M405.25 101.97h0.6M407.94 98.77h0.6M410.87 105.43h0.6M411.92 99.33h0.6M407.82 93.29h0.6M406.86 101.99h0.6M409.91 95.73h0.6M401.56 89.04h0.6M410.42 104.01h0.6M410.7 89.97h0.6M407.56 99.3h0.6M403.78 100.03h0.6M407.63 93.12h0.6M402.04 102.74h0.6M410.61 92.81h0.6M403.26 103.2h0.6M411.89 96.22h0.6M417.24 96.31h0.6M403.04 104.38h0.6M407.69 100.02h0.6M408.9 92.14h0.6M402.34 96.86h0.6M416.23 92.14h0.6M415.98 99.29h0.6M402.74 99.56h0.6M411.74 92.75h0.6M397.29 100.08h0.6M402.76 100.57h0.6M398.46 97.17h0.6M404.37 89.35h0.6M407.41 99h0.6M405.72 91.11h0.6M409.84 87.79h0.6M411.56 100.86h0.6M417.68 103.16h0.6M410.6 99.54h0.6M408.85 90.27h0.6M416.52 101.07h0.6M407.17 91.32h0.6M416.64 101.1h0.6M402.36 101.92h0.6M418.83 97.87h0.6M410.84 95.58h0.6M405.34 104.26h0.6M408.04 102.62h0.6M407.07 102.25h0.6M413.13 92.08h0.6M402.97 97.57h0.6M413.15 99.62h0.6M415.33 89.98h0.6M411.33 94.37h0.6M409.23 99.87h0.6M403.52 96.67h0.6M402.49 99.55h0.6M404.16 95.12h0.6M409.87 94.2h0.6M414.83 94.29h0.6M413.23 99.65h0.6M403.18 96.73h0.6M404.24 95.9h0.6M411.08 90.4h0.6M396.36 101.94h0.6M398.09 102.18h0.6M414.18 100.27h0.6M407.58 96.54h0.6M410.08 96.24h0.6M405.85 95.85h0.6M414.94 94.39h0.6M410.72 91.31h0.6M404.9 90.01h0.6M407.65 101.97h0.6M410.33 95.14h0.6M411.96 95.98h0.6M410.68 99.59h0.6M411.58 83.61h0.6M401.76 102.49h0.6M407.45 94.8h0.6M416.65 101.23h0.6M418.8 100.96h0.6M407.62 102.2h0.6M404.51 95.41h0.6M405.75 96.71h0.6M412.84 95.21h0.6M410.41 95.11h0.6M413.4 82.01h0.6M407.59 98.98h0.6M402.96 103.88h0.6M409.85 105.43h0.6M413.81 101.72h0.6M407.91 91.7h0.6M407.53 95.33h0.6M410.03 95.3h0.6M414.94 95.28h0.6M407.41 103.37h0.6M408.71 90.97h0.6M410.9 96.87h0.6M397.76 99.15h0.6M403.09 93.69h0.6M411.26 99.74h0.6M410.93 94.44h0.6M409.96 97.3h0.6M397 88.87h0.6M407.72 96.4h0.6M405.7 103.68h0.6M408.08 100.17h0.6M406.4 97.02h0.6M399.52 94.64h0.6M403.65 94.23h0.6M415.15 99.51h0.6M415.2 102.97h0.6M413.58 103.81h0.6M405.49 102.64h0.6M406.99 94.93h0.6M413.11 93.1h0.6M410.15 100.15h0.6M410.69 95.94h0.6M401.89 98.18h0.6M413.27 102.54h0.6" stroke="#000" stroke-width="0.6" fill="none" stroke-opacity="0.65"/>
<path d="M413.48 73.69h0.6M409.03 70.38h0.6M412.62 73.39h0.6M412.12 72h0.6M412.06 76.57h0.6M405.81 70.43h0.6M418.38 71.18h0.6M406.76 70.89h0.6M407.83 68.54h0.6M412.31 75.45h0.6M412.95 72.43h0.6M414.45 71.08h0.6M409.39 70.22h0.6M412.61 69.7h0.6M409.9 69.46h0.6M407.65 67.54h0.6M411.46 69.46h0.6M411.8 74.56h0.6M412.51 70.41h0.6M408.54 67.39h0.6M412.71 67.98h0.6M412.86 67.4h0.6M412.06 70.29h0.6M414.38 69.37h0.6M410.7 71.21h0.6M411.85 75.38h0.6M411.01 68.95h0.6M410.84 71.87h0.6M412.33 72.5h0.6M407.97 77.65h0.6M416.66 70.41h0.6M408.44 70.95h0.6M412.82 64.06h0.6M411.74 66.23h0.6M412.93 74.49h0.6M414.48 66.15h0.6M415.42 73.12h0.6M410.73 71.95h0.6M415.79 69.54h0.6M411.66 68.89h0.6M414.82 64.28h0.6M415.52 67.71h0.6M414.2 65.81h0.6M409.18 68.77h0.6M413.93 65.82h0.6M413.32 68.67h0.6M415.05 69.6h0.6M413.01 70h0.6M416.53 69.46h0.6M411.63 76.23h0.6M411.91 72.48h0.6M409.71 71.08h0.6M405.59 70.8h0.6M409.96 66.16h0.6M407.88 73.8h0.6M412.85 66.12h0.6M416.59 68.49h0.6M410.71 71.21h0.6M408.64 65.83h0.6M409.69 73.91h0.6M414.26 65.94h0.6M414.94 70.6h0.6M413.05 70.65h0.6M412.81 67.61h0.6M409.25 68.47h0.6M410.71 72.29h0.6M408.42 75.1h0.6M410 68.8h0.6M413.59 71.75h0.6M410.79 67.41h0.6M409.01 65.89h0.6M414.78 73.63h0.6M416.73 71.94h0.6M412.6 72.69h0.6M414.26 69.75h0.6M412.65 76.72h0.6M407.14 66.44h0.6M409.1 72.68h0.6M414.9 69.52h0.6M413.51 70.36h0.6M412.51 68.94h0.6M411.63 70.49h0.6M414.75 76.95h0.6M406.81 72.04h0.6M411.69 73.3h0.6M414.56 72.75h0.6M413.88 67.76h0.6M407.1 75.32h0.6M414.96 67.75h0.6M415.18 72.43h0.6" stroke="#000" stroke-width="0.6" fill="none" stroke-opacity="0.6"/>
<path d="M400.75 91.79h0.6M406.4 94.11h0.6M407.58 77.56h0.6M404.25 82.12h0.6M414.12 78.18h0.6M403.03 102.59h0.6M417.31 89.98h0.6M408.13 73.5h0.6M403.89 88.84h0.6M415.21 74.81h0.6M410.2 81.59h0.6M409.21 88.35h0.6M418.26 78.48h0.6M413.48 93.44h0.6M409.1 82.71h0.6M405.03 93.36h0.6M408.15 78.33h0.6M410.46 76.56h0.6M406.18 81.42h0.6M415.93 82.22h0.6M412.23 71.28h0.6M402.69 99.77h0.6M408.66 70.65h0.6M409.79 89.27h0.6M403.54 76.35h0.6M411.2 76h0.6M413.27 92.35h0.6M411.91 80.27h0.6M410.02 78.51h0.6M409.7 86.76h0.6M409.04 92.45h0.6M420.21 79.25h0.6M411.52 91.15h0.6M412.69 81.93h0.6M408.35 92.72h0.6M412.61 88.4h0.6M407.1 89.49h0.6M413.27 82.39h0.6M412.7 102.88h0.6M402.95 89.27h0.6M405.68 72.14h0.6M409.29 88.75h0.6M410.4 73.87h0.6M404.64 79.16h0.6M410.25 76.78h0.6M404.39 99.27h0.6M406.96 82.64h0.6M408.08 78.91h0.6M410.36 81.41h0.6M412.6 73.69h0.6M404.45 100.98h0.6M409.91 90.69h0.6M414.77 88.82h0.6M410.34 70.45h0.6M404 92.52h0.6M412.82 88.96h0.6M403.78 65.42h0.6M406.11 73.7h0.6M410.82 75.09h0.6M416.33 78.57h0.6M408.02 91.53h0.6M411.47 76.16h0.6M413.38 100.77h0.6M405.44 81.83h0.6M406.02 67.05h0.6M412.63 90.09h0.6M413.98 87.74h0.6M402.38 83.76h0.6M407.61 73.72h0.6M405.9 90.69h0.6M409.05 101.18h0.6M412.03 67.32h0.6M413.67 94.92h0.6M410.32 73.4h0.6M417.07 72.51h0.6M409.87 67.32h0.6M405.32 69.12h0.6M414.44 94.32h0.6M408.62 72.13h0.6M409.97 87.32h0.6M404.26 73.85h0.6M409.8 90.17h0.6M410.49 87.94h0.6M405.33 62.17h0.6M411.41 75.95h0.6M409.72 80.69h0.6M412.07 77.22h0.6M415.83 84.27h0.6M412.26 89.53h0.6M414.25 87.55h0.6M403.37 78.48h0.6M417.47 88.15h0.6M412.39 88.11h0.6M407.69 78.04h0.6M407.67 94.19h0.6M411.62 99.66h0.6M412.15 100.64h0.6M411.99 73.58h0.6M417.01 86.97h0.6M414.87 85.89h0.6M408.92 85.49h0.6M405.8 73.46h0.6M406.72 79.37h0.6M404.88 83.09h0.6M411.39 101.9h0.6M417.42 83.56h0.6M413.67 82.06h0.6M411.73 83.7h0.6M408.08 84.67h0.6M404.39 87.89h0.6M409.06 74.43h0.6M408.79 88.9h0.6M407.53 88.2h0.6M412.44 97.8h0.6M405.92 83.02h0.6M412.21 97.29h0.6M411.23 90.68h0.6M404.42 78.83h0.6M416.74 81.48h0.6M418.72 77.55h0.6M409.1 69.86h0.6M412.71 86.35h0.6M418.16 85.47h0.6M409.21 71.5h0.6M409.88 92.4h0.6M413.12 94.9h0.6M413.61 83.59h0.6M412.59 85.53h0.6M404.94 99.21h0.6M411.68 74.66h0.6M411.72 86.56h0.6M414.14 96.84h0.6M398.18 88.94h0.6M416.25 75.56h0.6M402.85 86.49h0.6M411.53 87.12h0.6M405.81 79.84h0.6M410.97 90.63h0.6M418.88 86.62h0.6M407.81 62.98h0.6M414.45 82.82h0.6M409.77 75.19h0.6M413.11 68.02h0.6M410.63 85.08h0.6M411.39 95.64h0.6M409.81 84.84h0.6M413.6 70.16h0.6M409.04 84.6h0.6M413.99 76.86h0.6M413.39 87.43h0.6M404.3 70.79h0.6M404.51 85.25h0.6M411.02 90.46h0.6M413.46 79.07h0.6M414.45 91.32h0.6M412.07 88.28h0.6M405.09 87.23h0.6M406.1 73.34h0.6M408.81 85.25h0.6M409.99 81.05h0.6M406.22 85.67h0.6M407.25 71.4h0.6M410.57 97.01h0.6M408.59 74.5h0.6M415.71 99.32h0.6M409.03 82.11h0.6M410.73 92.9h0.6M411.97 67.71h0.6M405.81 72.96h0.6M411.92 84.95h0.6" stroke="#000" stroke-width="0.6" fill="none" stroke-opacity="0.55"/>
<path d="M408.95 69.37h0.6M397.16 77.51h0.6M395.81 96.53h0.6M396.97 89.07h0.6M405.04 68.36h0.6M400.16 72.41h0.6M395.57 78.91h0.6M394.87 74.07h0.6M407.11 70.24h0.6M400.3 89.28h0.6M399.69 84.19h0.6M405.77 81.96h0.6M408.41 60.09h0.6M410.32 71.2h0.6M380.76 79.01h0.6M383.57 82.83h0.6M382.82 75.07h0.6M397.06 78.23h0.6M388.33 78.94h0.6M393.91 78.97h0.6M394.64 76.2h0.6M401.71 61.62h0.6M390.76 80.87h0.6M391.5 74.89h0.6M391.21 81.29h0.6M404.65 72h0.6M392.56 81.89h0.6M392.76 62.94h0.6M396.84 73.93h0.6M390.13 85.24h0.6M395.05 73.19h0.6M394.81 76.98h0.6M398.2 78.26h0.6M390.88 69.29h0.6M385.95 80.79h0.6M385.52 88.36h0.6M384.1 68h0.6M393.15 64.06h0.6M407.72 63.96h0.6M394.29 76.17h0.6M388.14 66.38h0.6M379.81 91.83h0.6M402.87 92.17h0.6M383 87.89h0.6M394.59 85.02h0.6M390.59 85.8h0.6M401.87 79.78h0.6M406.27 71.35h0.6M407.05 66.66h0.6M394.81 71.35h0.6" stroke="#000" stroke-width="0.6" fill="none" stroke-opacity="0.35"/>
</g></g>
<rect x="378.1" y="57.4" width="44.7" height="49.1" fill="none" stroke="#8a8a8a" stroke-width="0.8"/>
<rect x="402.9" y="57.4" width="19.6" height="48.8" fill="none" stroke="#1a1a1a" stroke-width="1.2"/>
<text x="387.2" y="69.8" font-size="8.6" text-anchor="middle" textLength="9.3" lengthAdjust="spacingAndGlyphs">23</text>
<g clip-path="url(#c3)">
<g filter="url(#bl)">
<rect x="327" y="150" width="21.6" height="14" fill="#000" fill-opacity="1"/>
<ellipse cx="339" cy="152.4" rx="8.5" ry="3.4" fill="#000" fill-opacity="0.95"/>
<ellipse cx="333" cy="152" rx="4" ry="3" fill="#000" fill-opacity="0.8"/>
<ellipse cx="355.8" cy="135" rx="2.3" ry="10" fill="#000" fill-opacity="0.34" transform="rotate(12 355.8 135)"/>
<ellipse cx="354" cy="150" rx="2.5" ry="6" fill="#000" fill-opacity="0.18"/>
</g><g filter="url(#b2)">
<path d="M339.71 151.97h0.6M345.45 149.82h0.6M353.31 146.21h0.6M333.19 153.07h0.6M342.32 144.83h0.6M342.43 146.88h0.6M351.52 152.23h0.6M335.32 152.57h0.6M333.03 151.72h0.6M344.33 149.31h0.6M331.97 144.01h0.6M344.37 150.45h0.6M335.65 154.47h0.6M345.89 149.75h0.6M334.54 142.8h0.6M343.54 151.81h0.6M334.97 146.35h0.6M339.37 145.75h0.6M339.76 151.37h0.6M351.78 150.21h0.6M341.27 151.32h0.6M350.9 148.87h0.6M329.88 147.78h0.6M338.73 150.39h0.6M340.95 149.76h0.6M336.84 150.57h0.6M346.78 151.35h0.6M351.68 148.93h0.6M337.69 153.5h0.6M341.31 150.55h0.6M337.01 151.83h0.6M336.48 147.28h0.6M339.21 148.58h0.6M346.37 148.73h0.6M340.69 149.1h0.6M342.42 148.15h0.6M348.54 146.33h0.6M336.62 147.97h0.6M344.88 149.69h0.6M343.58 148.84h0.6M333.96 147.03h0.6M337.03 148.37h0.6M341.94 150.42h0.6M347.52 149.35h0.6M333.71 147.16h0.6M340.19 150.43h0.6M355.29 150.02h0.6M353.76 153.91h0.6M331.31 152.38h0.6M348.79 152.69h0.6M339.62 151.8h0.6M335.85 149.44h0.6M339.85 153.7h0.6M337.98 151.8h0.6M340.23 147.97h0.6M341.64 151.12h0.6M334 151.06h0.6M334 147.58h0.6M341.46 149.06h0.6M331.84 145.85h0.6M339.89 150.16h0.6M336.02 150.03h0.6M343.03 150.24h0.6M334.8 149.78h0.6M340.74 152.06h0.6M341.91 150.18h0.6M333.91 151.58h0.6M349.08 148.46h0.6M344.81 150.31h0.6M339.33 146.64h0.6M353.75 145.31h0.6M342.12 148.74h0.6M348.85 148.63h0.6M340.02 151h0.6M343.35 148.41h0.6M345.15 150.5h0.6M347.6 148.43h0.6M339.33 148.7h0.6M333.01 150.19h0.6M342.97 152.86h0.6M337.1 150.49h0.6M348.82 149.34h0.6M340.2 149.91h0.6M334.19 147.33h0.6M348.61 150h0.6M339.1 146.75h0.6M340.64 152.29h0.6M330.52 147.56h0.6M348.54 152.88h0.6M352.08 148.33h0.6M344.48 147.88h0.6M343.85 148.76h0.6M341.26 152.67h0.6M342.4 149.05h0.6M340.15 150.21h0.6M335.62 150.07h0.6M344.48 153.17h0.6M329.85 151.6h0.6M359.12 150.04h0.6M340.67 152.2h0.6M335.66 148.49h0.6M342.4 148.27h0.6M348.54 149.59h0.6M342.73 155.4h0.6M336.14 151.72h0.6M333.13 152.45h0.6M347.36 149.92h0.6M347.58 153.27h0.6M350.64 149.6h0.6M339.27 152.13h0.6M343.55 150.9h0.6M354.46 153.61h0.6M342.27 150.61h0.6M341.77 149.08h0.6M340.18 150.99h0.6M332.16 148.31h0.6M331.34 145.72h0.6M345.8 149.11h0.6M347.35 148.76h0.6M356.53 151.23h0.6M340.89 149.86h0.6M338.07 151.44h0.6M355.53 148.64h0.6M331.09 150.96h0.6M348.14 146.21h0.6M334.23 147.33h0.6M344.15 150.75h0.6M333.9 147.04h0.6M345.1 144.93h0.6M344.79 149.25h0.6M354.87 151.86h0.6M335.12 148.98h0.6M337.51 147.95h0.6M340.34 151.79h0.6M351.48 151.28h0.6M333.28 147.77h0.6M332.96 145.96h0.6M348.77 149.76h0.6M334.2 146.35h0.6M336.67 148.44h0.6M353.27 148.56h0.6M340.61 152.03h0.6M344.96 149.19h0.6M344.41 148.62h0.6M339 147.44h0.6M332.63 146.24h0.6M343.65 150.77h0.6M341.07 151.37h0.6M343.92 149.88h0.6M332.75 150.94h0.6M349.03 151.03h0.6M349.51 148.53h0.6M332 152.43h0.6M335.11 150.15h0.6M338.2 149.65h0.6M337.57 148.38h0.6M341.3 145.25h0.6M332.58 147.06h0.6M333.87 143.85h0.6M344.21 153.3h0.6M337.77 151.28h0.6M344.42 146.79h0.6M349.26 145.8h0.6M335.19 148.79h0.6M349.55 149.87h0.6M338.73 147.79h0.6M340.41 149.7h0.6M345.43 152.74h0.6M345.48 149.64h0.6M338.5 153.21h0.6M341.28 149.56h0.6M353.78 153.13h0.6M344.16 149.36h0.6M334.73 152h0.6M336.15 151.76h0.6M333.57 149.84h0.6M342.85 149.93h0.6M341.53 150.46h0.6M330.91 147.1h0.6M338.55 153.66h0.6M338.73 147.52h0.6M334.54 149.68h0.6M348.95 148.33h0.6M344.09 150.02h0.6M336.92 147.48h0.6M338.51 147.98h0.6M343.9 145.64h0.6M348.52 151.3h0.6M344.22 152.97h0.6M344.41 145.76h0.6M340.12 150.61h0.6M334.36 147.06h0.6M343.08 150.75h0.6M336.38 149.06h0.6M335.74 148.33h0.6M339.25 152.01h0.6M352.3 150.31h0.6M340.9 151.48h0.6M331.87 146.89h0.6M341.64 151.51h0.6M336.45 148.08h0.6M342.85 150.98h0.6M341.7 145.33h0.6M335.45 143.92h0.6M341.59 147.7h0.6M334.59 152.97h0.6M350 150.68h0.6M341.85 149.99h0.6M335.14 149.49h0.6M354.6 147.64h0.6M334.54 149.96h0.6M346.65 151.47h0.6M332.17 149.31h0.6M337.64 146.84h0.6M340.3 148.52h0.6M346.86 150.57h0.6M333.63 149.78h0.6M336.92 148.18h0.6M335.91 151.98h0.6M336.48 145.76h0.6M333.67 151.41h0.6M356.45 147.24h0.6M336.93 148.86h0.6M339.31 150.22h0.6M357.12 149h0.6M345.88 151.47h0.6M334.76 148.28h0.6M351.82 151.2h0.6M340.82 147.15h0.6M346.57 150.78h0.6M356.8 152.9h0.6M345.96 150.2h0.6M340.18 148.37h0.6M342.1 150.15h0.6M344.77 152.03h0.6M342.13 148.39h0.6M345.98 153.07h0.6M333.21 150.54h0.6M343.96 150.8h0.6M343.63 149.4h0.6" stroke="#000" stroke-width="0.6" fill="none" stroke-opacity="0.7"/>
<path d="M339.91 152.06h0.6M354.17 140.05h0.6M335.46 143.49h0.6M340.28 143.4h0.6M347.69 154.96h0.6M352.17 150.06h0.6M337.5 148.06h0.6M340.41 150h0.6M345.23 145.37h0.6M345 142.71h0.6M346.86 151.35h0.6M337.89 147.66h0.6M347.52 141.53h0.6M354.25 145.94h0.6M347.5 144.44h0.6M349.28 139.48h0.6M339.93 149.3h0.6M335.43 148.14h0.6M337.91 146.84h0.6M343.21 154.18h0.6M331.08 148.53h0.6M350.9 141.13h0.6M341.33 154.48h0.6M348.86 133.97h0.6M338.86 138.86h0.6M343.06 142.68h0.6M336.34 142.25h0.6M342.99 143.69h0.6M333.67 144.62h0.6M343.86 142.17h0.6M349.33 139.05h0.6M343.87 143.99h0.6M352.93 143h0.6M335.55 140.29h0.6M356.14 147.9h0.6M332.27 144.2h0.6M333.26 151.42h0.6M343.95 137.59h0.6M342.33 149.06h0.6M340.72 147.34h0.6M339.84 146.31h0.6M342.36 142.75h0.6M343.4 146.14h0.6M340.4 142.84h0.6M332.82 146.46h0.6M347.12 136.1h0.6M336.54 150.76h0.6M347.82 142.73h0.6M351.21 141.66h0.6M334.56 153.04h0.6M337.31 144.66h0.6M331.56 144.97h0.6M337.94 143.14h0.6M335.77 148.39h0.6M352.63 143.91h0.6M353.25 151.76h0.6M351.14 146.66h0.6M337.52 146.26h0.6M342.52 141.85h0.6M342.99 152.01h0.6M342.5 142.83h0.6M359.26 137.12h0.6M333.54 147.09h0.6M336.1 136.57h0.6M342.73 148.74h0.6M334.51 151.21h0.6M344.59 150.14h0.6M353.16 153.35h0.6M350.97 145.5h0.6M342.13 143.06h0.6M349.26 142.79h0.6M341.66 137.46h0.6M341.16 146.34h0.6M356.85 139.67h0.6M336.56 144.68h0.6M330.89 140.21h0.6M331.06 148h0.6M340.33 148.71h0.6M332.28 147.81h0.6M337.25 145.85h0.6" stroke="#000" stroke-width="0.6" fill="none" stroke-opacity="0.4"/>
<path d="M357.78 131.01h0.6M354.64 122.52h0.6M355.66 142.14h0.6M353.96 138.15h0.6M351.18 132.71h0.6M356.49 144.95h0.6M354.74 122.22h0.6M354.57 123.54h0.6M354.83 154.1h0.6M356.23 132.61h0.6M358.04 126.79h0.6M356.31 135.58h0.6M356.59 120.11h0.6M357.24 139.71h0.6M349.91 123.06h0.6M353.31 153.41h0.6M355.55 141.45h0.6M356.86 140.57h0.6M353.93 133.56h0.6M356.42 138.99h0.6M356.91 135.57h0.6M354.31 147.87h0.6M356.66 142.57h0.6M349.26 157.63h0.6M349.5 149.98h0.6M353.87 140.01h0.6M354.33 135.18h0.6M355.97 137.6h0.6M353.53 116.98h0.6M353.58 144.38h0.6M353.42 143.7h0.6M354.59 128.96h0.6M358.38 144.32h0.6M355.25 135.58h0.6M357.86 118.63h0.6M353.35 150.18h0.6M357.72 126.41h0.6M353.58 142.67h0.6M352.03 138.32h0.6M354.93 114.59h0.6M356.96 139.3h0.6M358.14 117.04h0.6M352.33 134.84h0.6M353.08 137.76h0.6M356.01 138.53h0.6M359.09 118.16h0.6M357.68 132.27h0.6M352.6 142.95h0.6M352.03 157.4h0.6M353.69 148.37h0.6M358.72 123.16h0.6M353.28 141.35h0.6M352.9 149.08h0.6M355.94 127.7h0.6M353.8 145.62h0.6M351.9 158.3h0.6M353.55 137.82h0.6M353.2 154.99h0.6M357.55 142.96h0.6M357.12 132.9h0.6M359.71 132.66h0.6M356.59 138.44h0.6M357.33 134.18h0.6M355.09 121.94h0.6M360.62 112.97h0.6M350.14 140.3h0.6M360.31 136.44h0.6M354 141.04h0.6M355.44 117.64h0.6M354.67 139.89h0.6M358.42 118.47h0.6M349.88 133.03h0.6M356.32 134.5h0.6M355.87 136.06h0.6M354.59 125.03h0.6M356.63 136.63h0.6M356.94 143.78h0.6M352.41 120.76h0.6M353.22 143.92h0.6M355.46 142.2h0.6M363.52 113.97h0.6M355.08 130.97h0.6M356.11 138.94h0.6M353.08 152.56h0.6M358.36 133.53h0.6M355.22 133.92h0.6M351.39 150.09h0.6M353.06 136.05h0.6M357.99 121.91h0.6M354.2 146.04h0.6M360.14 119.48h0.6M358.26 123.76h0.6M356.47 137.87h0.6M352.65 150.8h0.6M360 126.53h0.6M356.17 123.43h0.6M359.97 126.69h0.6M352.31 149.15h0.6M351.85 136.93h0.6M350.17 159.2h0.6M361.03 118.12h0.6M353.87 133.68h0.6M354.09 143.51h0.6M359.15 118.68h0.6M356.6 116.8h0.6M359.31 126.7h0.6M353.75 153.1h0.6M355.24 148.51h0.6M358.19 144.93h0.6M353.5 140.22h0.6M356.42 131.8h0.6M359.31 121.01h0.6M358.01 142.63h0.6M350.62 136.94h0.6M353.24 135.28h0.6M356.48 131.87h0.6M355.7 130.91h0.6M355.3 140.33h0.6M357.36 124.48h0.6M355.22 129.17h0.6M355.05 123.38h0.6M357.89 136.6h0.6M355.19 129.92h0.6M354.36 131.85h0.6M351.64 158.46h0.6M352.58 146.89h0.6M357.01 118.01h0.6M350.7 150.52h0.6M350.52 158.9h0.6M354.26 138.88h0.6M355.49 130.43h0.6M355.14 133.52h0.6M358.61 128.13h0.6M355.42 130.85h0.6M353.91 132.13h0.6M355.53 152.15h0.6M358.29 131.8h0.6M359.67 135.96h0.6M356.02 132.92h0.6M352.76 143.52h0.6M354.71 122.74h0.6M352.29 159.85h0.6M356.04 138.9h0.6M356 130.23h0.6M356.65 142.93h0.6M354.73 141.78h0.6M358.06 125.72h0.6M355.92 127.88h0.6M357.01 128.98h0.6M358.37 122.53h0.6M359.72 123.81h0.6M353.4 131.69h0.6M357.16 124.23h0.6M360.01 137.69h0.6M356.8 119.85h0.6M355.44 129.02h0.6M350.97 148.88h0.6M361 119.07h0.6M357.52 142.93h0.6M353.1 137.45h0.6M356.17 138.38h0.6M352.64 143.48h0.6M355.23 144.71h0.6M351.51 138.76h0.6M354.24 135.26h0.6M357.31 125.99h0.6M362.35 114.7h0.6M357.6 140.36h0.6M357.91 128.58h0.6M353.43 137.54h0.6M357.16 133.11h0.6M356.95 137.67h0.6M353.29 131.64h0.6M359.1 123.51h0.6M353.42 131.38h0.6M357.92 120.13h0.6M353.32 149.6h0.6M355.74 159.4h0.6M355.82 135.32h0.6M353.9 136.84h0.6M354.25 137.92h0.6M357.43 119.89h0.6M353.21 121.28h0.6M359.26 126.93h0.6M355.47 135.04h0.6M358.01 133.15h0.6M357.63 129.51h0.6M355.2 135.63h0.6M350.84 155.19h0.6M351.56 134.74h0.6M357.18 132.48h0.6M357.53 146.75h0.6M360.15 138.3h0.6M354.94 155.31h0.6M353.3 139.33h0.6M357.99 128.33h0.6M355.2 132.93h0.6M358.68 138.45h0.6M355.32 140.98h0.6M353.08 150.67h0.6M358.99 127.66h0.6M354.66 132.85h0.6M355.03 125.11h0.6M352.11 157.74h0.6M355.46 140.62h0.6M356.28 138.21h0.6M351.69 134.88h0.6M357.08 141.25h0.6M352.64 136.25h0.6M352.83 147.05h0.6M356.36 133.99h0.6M353.88 142.03h0.6M355.58 128.57h0.6M356.33 127.71h0.6M357.88 136.19h0.6M353.78 144.45h0.6M355.67 128.73h0.6M353.21 125.18h0.6M352.67 144.59h0.6M358.52 123.45h0.6M355.9 137.79h0.6M357.45 135.43h0.6M358.57 136.03h0.6M353.6 143.11h0.6M349.64 146.16h0.6M355.55 140.66h0.6M354.75 144.65h0.6M358.8 120.93h0.6M354.14 140.72h0.6M356.73 134.23h0.6M357.58 120.39h0.6M357.44 142.03h0.6M358.28 133.55h0.6M354.91 140.38h0.6M355.31 121.47h0.6M353.99 138.31h0.6M354.21 129.73h0.6M354.92 133.34h0.6M355.67 134.69h0.6M355.93 143.63h0.6M355.84 138.48h0.6M352.44 115.11h0.6M354.5 143.76h0.6M354.65 131.61h0.6M352.4 150.12h0.6M354.18 140.5h0.6M358.33 134.44h0.6M361.11 122.52h0.6M357.89 136.79h0.6M353.86 139.37h0.6M354.09 129.15h0.6M356.25 126.88h0.6M359.7 119.95h0.6M354.14 139.19h0.6M354.2 138.71h0.6M353.98 125.76h0.6M349.47 136.44h0.6M359.3 131.55h0.6M355.88 130.47h0.6M355.14 138.98h0.6M352.03 135.54h0.6M353.27 151.62h0.6M352.86 151.71h0.6M355.3 136.21h0.6M358.88 136.36h0.6M357.85 120.85h0.6M358.34 144.81h0.6M355.24 131.64h0.6M352.77 150.48h0.6M356.24 134.02h0.6M352.41 156.72h0.6M357.69 130.72h0.6M359.19 119.1h0.6M357.7 121.79h0.6M359.03 125.59h0.6M358.56 125.3h0.6M356.5 143.79h0.6M353.24 141.12h0.6M353.4 147.65h0.6M353.99 135.28h0.6M354.99 147.16h0.6M352.9 140.74h0.6M354.68 132.23h0.6M353.53 138.18h0.6M355.99 120.4h0.6M356.08 123.5h0.6M355.54 156.15h0.6M353.08 139.98h0.6M354.86 145.76h0.6M354.31 121.75h0.6M351.47 145.57h0.6M356.13 143.87h0.6M354.16 144.37h0.6M352.84 152.87h0.6M355.32 129.71h0.6M355.94 150.41h0.6M353.38 128.67h0.6M352.96 130.33h0.6M355.37 138.96h0.6M355.09 138.15h0.6M358.46 126.65h0.6M352.37 121.29h0.6M356.1 128.05h0.6M354.88 140.53h0.6M356.66 118.81h0.6M353.11 141.2h0.6M355.14 146.68h0.6M354.25 119.36h0.6M358.43 114.48h0.6M353.07 144.14h0.6M356.1 139.12h0.6M354.41 157.95h0.6M356.85 126.15h0.6M358.64 113.55h0.6M354.03 141.2h0.6M355.84 126.05h0.6M359.45 140.58h0.6M353.16 143.8h0.6M353.91 134.9h0.6M357.97 131.47h0.6M355.23 137h0.6M352.57 152.76h0.6M353.62 151.34h0.6M354.35 133.76h0.6M359.21 129.44h0.6M353.9 133.99h0.6M357.01 149.33h0.6M357.03 128.7h0.6M352.7 135.27h0.6M355.2 138.35h0.6M353.86 150.58h0.6M353.11 134.04h0.6M356.74 137.26h0.6M354.52 146.29h0.6M351.98 157.75h0.6M360.97 141.77h0.6M355.8 152.76h0.6M355.63 147.31h0.6M355 138.31h0.6M356.81 116.86h0.6M354.98 152.21h0.6M348.19 154.34h0.6M357.8 133.64h0.6M355.99 147.09h0.6M356.34 116.53h0.6M353.14 137.77h0.6M355.86 130.67h0.6M355.24 151.22h0.6M357.84 136.06h0.6M355.54 136h0.6M356.41 135.79h0.6M353.69 146.4h0.6M353.44 139.47h0.6M354.6 126.92h0.6M357.01 131.69h0.6M352.59 140.91h0.6M352.06 155.76h0.6M356.79 150.83h0.6M354.08 144.88h0.6M353.08 132.84h0.6" stroke="#000" stroke-width="0.6" fill="none" stroke-opacity="0.6"/>
<path d="M353.48 152.46h0.6M356.01 148.4h0.6M356.45 155.78h0.6M351.52 148.93h0.6M352.33 155.29h0.6M355.98 148.48h0.6M352.49 152.06h0.6M351.77 142.44h0.6M351.29 152.03h0.6M349.15 153.01h0.6M350.83 156.9h0.6M355.43 150.76h0.6M357.37 147.77h0.6M352.38 143.72h0.6M352.07 150.69h0.6M355.37 157.65h0.6M353.03 145.64h0.6M352.87 147.44h0.6M352.54 147.6h0.6M351.53 149.69h0.6M352.43 148.99h0.6M350.26 150.87h0.6M355.12 153.86h0.6M352.34 143.2h0.6M350.47 143.01h0.6M352.1 148.15h0.6M349.3 153.99h0.6M349.88 145.92h0.6M351.91 154.94h0.6M358.26 147.9h0.6M353.02 147.67h0.6M353.2 148.99h0.6M359.82 143.53h0.6M353.43 145.31h0.6M354.58 146.91h0.6M355.13 143.58h0.6M358.93 151.25h0.6M349.32 154.16h0.6M352.54 143.14h0.6M354.79 146.93h0.6M355.53 146.75h0.6M355.93 150.89h0.6M354.59 150.94h0.6M352.8 147.86h0.6M354.82 154.21h0.6M357.88 143.21h0.6M356.39 149.59h0.6M354.28 145.33h0.6M357.78 145.12h0.6M353.5 145.71h0.6M358.48 157.43h0.6M350.44 147.34h0.6M354.6 147.45h0.6M352.83 143.64h0.6M354.32 143.55h0.6M352.9 159.73h0.6M354.62 146.05h0.6M352.85 144.33h0.6M353.98 154.14h0.6M356 148.36h0.6M350.76 149.56h0.6M357.83 151.67h0.6M353.54 137.75h0.6M352.63 153.22h0.6M351.37 157.97h0.6M352.31 144.87h0.6M352.27 149.46h0.6M356.16 146.68h0.6M349.31 149.55h0.6M354.99 159.1h0.6M350.94 158.75h0.6M355.37 152.69h0.6M351.81 144.82h0.6M351.35 155.51h0.6M354.24 156.3h0.6M358.18 150.13h0.6M350.49 147.38h0.6M352.79 147.79h0.6M354.05 145.09h0.6M356.56 142h0.6M351.7 140.08h0.6M350.25 153.48h0.6M355.25 148.86h0.6M355.78 153.66h0.6M352.28 149.8h0.6M352.62 152.2h0.6M355.04 157.19h0.6M354.75 156.33h0.6M351.08 148.48h0.6M348.94 149.73h0.6M359.43 151.45h0.6M353.92 151.59h0.6M354.06 142.25h0.6M352 149.01h0.6M354.11 144.97h0.6M353.44 145.73h0.6M350.46 146.17h0.6M351.72 154.95h0.6M356.99 153.43h0.6M353.18 146.77h0.6" stroke="#000" stroke-width="0.6" fill="none" stroke-opacity="0.5"/>
<path d="M332.44 133.93h0.6M350.93 147.07h0.6M343.03 136.13h0.6M341.73 141.35h0.6M341.66 141.4h0.6M337.16 138.41h0.6M339.63 146.46h0.6M334.39 148.19h0.6M341.2 134.12h0.6M341.83 139.02h0.6M340.33 141.36h0.6M338.3 124.83h0.6M345.81 137.86h0.6M351.52 141.07h0.6M329.9 147.74h0.6M337.65 142.33h0.6M354.79 146.58h0.6M335.25 137.34h0.6M332.23 143.27h0.6M345.02 130.05h0.6M344.37 145.35h0.6M346.46 132.83h0.6M337.62 129.32h0.6M334.08 140.52h0.6M341.94 148.21h0.6" stroke="#000" stroke-width="0.6" fill="none" stroke-opacity="0.3"/>
</g></g>
<rect x="329.6" y="111.8" width="44.9" height="48.6" fill="none" stroke="#8a8a8a" stroke-width="0.8"/>
<rect x="349.2" y="115.2" width="24.5" height="44.8" fill="none" stroke="#1a1a1a" stroke-width="1.2"/>
<text x="336.4" y="123.9" font-size="8.6" text-anchor="middle" textLength="7.8" lengthAdjust="spacingAndGlyphs">17</text>
<g clip-path="url(#c4)">
<g filter="url(#bl)">
<rect x="375" y="151" width="22" height="13" fill="#000" fill-opacity="1"/>
<ellipse cx="388" cy="153" rx="9" ry="3.6" fill="#000" fill-opacity="0.95"/>
<ellipse cx="382" cy="152.6" rx="4.5" ry="3" fill="#000" fill-opacity="0.8"/>
<ellipse cx="398.5" cy="154.5" rx="3.6" ry="4.5" fill="#000" fill-opacity="0.7"/>
<ellipse cx="401.6" cy="133" rx="2.7" ry="8" fill="#000" fill-opacity="0.55" transform="rotate(8 401.6 133)"/>
<ellipse cx="401" cy="146" rx="2.6" ry="8" fill="#000" fill-opacity="0.25"/>
</g><g filter="url(#b2)">
<path d="M389.85 149.63h0.6M389 150.34h0.6M379.8 147.87h0.6M392.68 148.05h0.6M392.3 151.95h0.6M384.7 146.47h0.6M390.93 153.84h0.6M381.22 147.35h0.6M396.25 150.77h0.6M382.8 153.4h0.6M385.53 151.52h0.6M384.54 148.6h0.6M389.43 148.33h0.6M397.4 153.09h0.6M404.78 152.84h0.6M400.38 151.03h0.6M384.28 151.56h0.6M380.24 152.21h0.6M384.18 151.05h0.6M381.01 150.1h0.6M395.4 149.9h0.6M382.41 151.11h0.6M394.61 149.97h0.6M378.52 146.64h0.6M387.01 151.58h0.6M396.13 151.12h0.6M391.49 149.2h0.6M386.95 151.82h0.6M379.34 150.08h0.6M403.51 148.39h0.6M388.47 153.6h0.6M385.88 150.73h0.6M384.24 153.54h0.6M386.99 149.53h0.6M391.12 149.85h0.6M383.66 154.16h0.6M395.41 150.69h0.6M394.04 152.42h0.6M392.26 150.54h0.6M388.27 151.42h0.6M392.13 151.29h0.6M383.38 150.25h0.6M391.29 148.06h0.6M387.63 152.26h0.6M389.02 149.74h0.6M387.52 149.27h0.6M395.4 149.53h0.6M390.05 150.94h0.6M384 147.28h0.6M386.53 148.42h0.6M382.56 150.43h0.6M381.69 151.18h0.6M381.91 149.32h0.6M385.92 153.94h0.6M400.05 152.7h0.6M381.93 150.45h0.6M394.86 152.37h0.6M381.91 152.24h0.6M392.7 149.15h0.6M404.48 149.77h0.6M406.83 150.03h0.6M387.04 154.98h0.6M383.58 149.31h0.6M399.25 150.34h0.6M391.44 147.43h0.6M401.71 152.79h0.6M390.5 152.13h0.6M383.79 149.3h0.6M397.39 152.48h0.6M394.9 152.13h0.6M380.5 147.32h0.6M392.72 150.84h0.6M395.42 149.78h0.6M380.8 151.5h0.6M383.34 146.53h0.6M382.94 148.35h0.6M378.97 149.13h0.6M395.13 156.05h0.6M401.23 149.45h0.6M396.65 150.27h0.6M390.85 148.83h0.6M387.12 146.44h0.6M401.73 148.62h0.6M392.28 149.04h0.6M389.82 147.64h0.6M384.77 152.61h0.6M392.35 145.82h0.6M394.37 147.32h0.6M389.93 151.68h0.6M382.67 149.68h0.6M385.77 151.39h0.6M394.86 153.68h0.6M390.26 155.19h0.6M380.29 154.67h0.6M385.65 152.27h0.6M386.72 150.64h0.6M380.51 151.36h0.6M403.56 150.79h0.6M387.53 150.45h0.6M393.28 149.96h0.6M387.67 150.95h0.6M397.9 152.7h0.6M379.46 148.94h0.6M387.86 152.45h0.6M395.28 149.95h0.6M404.36 150.05h0.6M398.71 153.82h0.6M400.2 150.92h0.6M392.21 146.81h0.6M393.33 152.97h0.6M386.9 152.91h0.6M392.23 154.06h0.6M380.21 147.96h0.6M400.61 148.24h0.6M381.21 149.5h0.6M394.63 149.35h0.6M393.47 151.75h0.6M382.69 144.83h0.6M380.51 147.48h0.6M400.51 148.74h0.6M379.31 151.34h0.6M388.12 148.22h0.6M396.28 152.61h0.6M389.89 148.64h0.6M380.86 145.57h0.6M390.7 151.37h0.6M380.49 150.5h0.6M413.4 147.76h0.6M384.36 149.26h0.6M392.58 150.13h0.6M395.5 151.66h0.6M396.8 150.72h0.6M389.68 147.14h0.6M388.22 152.53h0.6M379.69 150.53h0.6M381.91 148.05h0.6M382.86 153.46h0.6M393.08 150.36h0.6M387.06 150.73h0.6M389.95 150.87h0.6M380.98 144.24h0.6M393.22 147.56h0.6M386.59 150.21h0.6M383.06 151.7h0.6M385.56 149.77h0.6M380.21 149.76h0.6M379.57 150.53h0.6M398.09 152.83h0.6M391.06 147.19h0.6M395.78 152.65h0.6M403.89 145.08h0.6M387.83 149.64h0.6M396.25 147.84h0.6M384.71 155.94h0.6M395.52 145.69h0.6M387.86 153.68h0.6M382.85 151.84h0.6M388.48 146.95h0.6M382.78 153.12h0.6M397.02 148.99h0.6M396.55 148.73h0.6M389.64 150.37h0.6M384.64 143.89h0.6M381.18 148.41h0.6M381.13 148.09h0.6M382.29 144.58h0.6M394.7 150.59h0.6M389.7 149.79h0.6M388.2 149.79h0.6M379.13 146.8h0.6M388.29 152.84h0.6M389.55 154.26h0.6M382.84 153.36h0.6M401.04 149.17h0.6M393.45 149.84h0.6M379.84 150.15h0.6M379.51 154.11h0.6M392.35 153.25h0.6M390.52 144.61h0.6M394.01 150.63h0.6M395.66 154.5h0.6M379.65 152.3h0.6M390.32 150h0.6M385.47 151.68h0.6M392.24 151.98h0.6M384.49 147.26h0.6M398.08 153.51h0.6M383.26 150.34h0.6M394.05 146.21h0.6M391.63 156.19h0.6M389.84 148.72h0.6M403.78 150.43h0.6M389.37 149.39h0.6M389.12 146.12h0.6M394.8 150.19h0.6M396.77 145.53h0.6M382.98 153.89h0.6M381.47 145.95h0.6M381.83 149.58h0.6M387.6 153.53h0.6M398.16 154.12h0.6M392.27 149.21h0.6M383.81 146.86h0.6M397.71 153.41h0.6M388.4 148.27h0.6M393.01 151.58h0.6M388.91 147.62h0.6M389.58 149.05h0.6M393.51 151.84h0.6M391.16 149.38h0.6M399.68 152.26h0.6M397.67 152.41h0.6M392.91 151.34h0.6M379.29 146.05h0.6M380.34 151.88h0.6M394.86 150.84h0.6M388.4 154.8h0.6M384.58 146.13h0.6M393.2 152.17h0.6M385.96 152.36h0.6M387.32 148.67h0.6M384.73 152.21h0.6M395.19 147.71h0.6M379.94 150.7h0.6M404.39 147.6h0.6M391.7 148.94h0.6M387.5 151.56h0.6M392.42 152.62h0.6M396.85 150.23h0.6M393.75 148.88h0.6M395.82 152.89h0.6M386.61 144.75h0.6M384.03 148.59h0.6M381.14 150.21h0.6M379.22 151.33h0.6M402.51 147.55h0.6M395.86 149.13h0.6M391.97 150.1h0.6M397.76 148.7h0.6M393.45 148.55h0.6" stroke="#000" stroke-width="0.6" fill="none" stroke-opacity="0.7"/>
<path d="M393.5 146.14h0.6M400.24 138.57h0.6M381.13 154.01h0.6M394.73 152.98h0.6M383.63 148.73h0.6M396.43 152.97h0.6M391.29 144.73h0.6M397.3 145.14h0.6M385.84 150.63h0.6M402.36 142.65h0.6M389.17 148.46h0.6M400.49 147.19h0.6M384.15 145.44h0.6M399.92 144.63h0.6M386.76 150.93h0.6M400.64 153.95h0.6M383.28 145.02h0.6M386.28 148.88h0.6M387.97 151.72h0.6M386.67 146.22h0.6M396.15 146.59h0.6M383.79 154.02h0.6M396.21 143.72h0.6M393.33 141.67h0.6M382.1 146.88h0.6M394.56 146.44h0.6M385.64 141.82h0.6M378.6 155.28h0.6M394.59 142.72h0.6M400.97 147.16h0.6M388.47 144.52h0.6M400.6 146.35h0.6M404.47 145.84h0.6M387.14 144.81h0.6M386.21 148.47h0.6M393.68 148.66h0.6M395.22 141.58h0.6M390.11 142.89h0.6M395.46 140.45h0.6M387.17 143.73h0.6M386.88 146.26h0.6M403.49 143.46h0.6M380.52 147.15h0.6M397.54 147.8h0.6M393.57 154.39h0.6M400.35 145.42h0.6M401.18 139.39h0.6M390.38 143.16h0.6M393.09 152.93h0.6M387.84 153.71h0.6M383.75 153.71h0.6M378.51 145.23h0.6M399.47 144.81h0.6M392.83 146.26h0.6M393.11 145.53h0.6M384.09 146.59h0.6M392.57 142.65h0.6M395.33 153.15h0.6M378.94 146.41h0.6M389.52 146.95h0.6M392.44 143.39h0.6M391.44 146.57h0.6M391.03 152.96h0.6M392.71 140.25h0.6M379.52 150.99h0.6M389.05 144.4h0.6M381.16 147.01h0.6M390.99 143.79h0.6M388.97 150.61h0.6M397.8 147.72h0.6M390.35 141.14h0.6M397.74 151.64h0.6M401.61 149.62h0.6M393.86 147.68h0.6M391.6 151.68h0.6M389.61 155.69h0.6M397.75 144.16h0.6M391.69 139.88h0.6M386.01 146.23h0.6M410.73 139.94h0.6M398.84 145.61h0.6M389.4 149.46h0.6M406.74 145.18h0.6M391.22 147.24h0.6M396.85 143.61h0.6M392.64 148.42h0.6M388.99 148.56h0.6M394.29 149.01h0.6M384.04 145.59h0.6M388.39 151.99h0.6M393.64 139.36h0.6M381.78 156.16h0.6M394.33 140.73h0.6M384.63 148.28h0.6M402.79 151.3h0.6M388.87 145.75h0.6M406.61 139.94h0.6M403.85 145.85h0.6M392.43 151.68h0.6M395.45 142.42h0.6M379.86 148.56h0.6M395.68 151.46h0.6M396.51 151.94h0.6M397.89 146.33h0.6M395.06 147.58h0.6M386.82 146.85h0.6M392.7 144.48h0.6M380.32 142.47h0.6M395.62 147.98h0.6M392.54 141.54h0.6M398.32 143.77h0.6M380.11 157.75h0.6M395.84 143.99h0.6M403.21 150.17h0.6M393.72 139.1h0.6M388.74 145.83h0.6M395.29 145.38h0.6M394.38 139.32h0.6M386.71 153.29h0.6M380.41 152.22h0.6M409.64 146.16h0.6M380.91 153.46h0.6M388.53 152.15h0.6M400.86 145.74h0.6M405.62 148.21h0.6M387.99 143.07h0.6M410.82 141.6h0.6M394.9 145.48h0.6M388.03 140.48h0.6M390.58 146.22h0.6" stroke="#000" stroke-width="0.6" fill="none" stroke-opacity="0.45"/>
<path d="M403.88 126.15h0.6M397.2 131.11h0.6M401.2 136.86h0.6M403.2 128.31h0.6M402.72 133.67h0.6M405.73 127.45h0.6M401.68 138.93h0.6M404.5 121.64h0.6M400.06 133.92h0.6M395.71 154.27h0.6M404.11 130.53h0.6M410.13 132.65h0.6M406.6 140.5h0.6M403.67 118.49h0.6M405.32 132.26h0.6M398.16 139.62h0.6M403.28 140.25h0.6M401.76 129.21h0.6M403.31 124.81h0.6M401.1 141.54h0.6M397.52 143.4h0.6M396.16 133.92h0.6M398.07 138.49h0.6M403.18 131.28h0.6M403.7 131.8h0.6M400.76 139.64h0.6M400.68 136.62h0.6M404.03 125.42h0.6M404.32 120.24h0.6M400.73 120.02h0.6M399.91 150.6h0.6M402.24 144.33h0.6M397.45 131.28h0.6M402.53 140h0.6M403.49 116.46h0.6M402.64 131.88h0.6M401.62 138.25h0.6M400.57 120.63h0.6M398.5 125.87h0.6M397.85 138.44h0.6M404.73 123.11h0.6M399.3 127.32h0.6M396.76 141.81h0.6M400.03 134.27h0.6M398.78 142.54h0.6M398.14 144.03h0.6M399.56 144.04h0.6M398.97 141.87h0.6M402.46 132.09h0.6M405.59 129.7h0.6M398.97 144.08h0.6M399.14 132.93h0.6M401.33 136.06h0.6M405.78 112.42h0.6M400.62 145.5h0.6M400.88 137.96h0.6M405.31 117.66h0.6M401.42 141.35h0.6M399.76 121.28h0.6M398.68 140.11h0.6M401.8 150.07h0.6M404.79 115.64h0.6M404.03 138.56h0.6M405.56 126.84h0.6M399.84 137.97h0.6M405.37 133.99h0.6M405.76 134.86h0.6M399.75 127.83h0.6M406.17 113.88h0.6M400.38 133.05h0.6M398.9 132.99h0.6M401.32 155.54h0.6M401.13 130.12h0.6M401.63 142.34h0.6M399.15 134.09h0.6M396.7 147.53h0.6M403.09 145.15h0.6M398.15 158.44h0.6M403.6 128.66h0.6M400.27 133.28h0.6M398.11 146.06h0.6M399.7 130.46h0.6M402.66 133.48h0.6M399.76 134.69h0.6M400.01 148.36h0.6M403.94 124.15h0.6M401.19 146.82h0.6M400.54 151.42h0.6M402.47 138.7h0.6M395.83 150.13h0.6M402.19 138.34h0.6M402.57 137.3h0.6M399.96 144.47h0.6M401.47 124.95h0.6M398.62 139.91h0.6M402.18 113.61h0.6M395.87 151.87h0.6M401.27 159.84h0.6M397.26 138.28h0.6M399.72 141.79h0.6M405.01 143.32h0.6M398.64 149.4h0.6M398.1 141.98h0.6M401.75 139.34h0.6M399.19 149.5h0.6M401.12 134.6h0.6M400.6 126.07h0.6M403.2 134.67h0.6M402.5 149.28h0.6M399.02 135.36h0.6M401.32 142.07h0.6M400.83 143.49h0.6M402.5 117.09h0.6M399.5 119.11h0.6M400.55 131.91h0.6M402.85 133.71h0.6M401.13 145.97h0.6M402.87 121.24h0.6M399.48 140.11h0.6M405.79 126.09h0.6M400.85 137.53h0.6M403.36 130.64h0.6M402.08 129.61h0.6M399.85 129.59h0.6M403.04 126.98h0.6M402.75 135.96h0.6M398.75 127.42h0.6M400.87 142.3h0.6M407.98 138.35h0.6M404.88 132.59h0.6M400.28 140.78h0.6M395.56 151.3h0.6M401.32 139.96h0.6M398.59 128.78h0.6M399.6 136.63h0.6M402.22 129.98h0.6M402.22 139.19h0.6M398.24 138.13h0.6M397.19 135.7h0.6M403.69 124.6h0.6M406.21 131.72h0.6M403.65 131.95h0.6M403.58 140.86h0.6M401.58 129.36h0.6M399.85 153.84h0.6M400.82 131.14h0.6M399.43 122.26h0.6M399.98 139.34h0.6M400.02 129.64h0.6M402.38 137h0.6M400.15 138.95h0.6M398.73 145.97h0.6M398.7 135.35h0.6M401.66 130.23h0.6M398.28 157.68h0.6M405.3 113.03h0.6M401.62 122.72h0.6M402.12 121.66h0.6M402.83 136.97h0.6M405.81 138.57h0.6M400.09 144.72h0.6M400.09 135.29h0.6M399.98 120.75h0.6M402.89 114.02h0.6M400.68 140.11h0.6M401.6 120h0.6M399.59 143.11h0.6M404.2 144.43h0.6M396.51 145.69h0.6M400.03 143.2h0.6M396.85 139.83h0.6M403.17 125.98h0.6M400.34 127.18h0.6M404.24 118.3h0.6M398.89 135.11h0.6M400.46 154.59h0.6M402.02 126h0.6M402.83 135.29h0.6M402.04 132.82h0.6M402.52 122.24h0.6M398.13 135.4h0.6M398.39 145.07h0.6M406.42 137.94h0.6M402.48 135.77h0.6M399.49 125.59h0.6M402.75 119.16h0.6M402.1 132.06h0.6M403.28 132.02h0.6M401.58 128.9h0.6M396.76 138.16h0.6M403.14 141.11h0.6M404.94 120.23h0.6M398.83 144.42h0.6M400.1 159.22h0.6M402.13 119.72h0.6M399.84 150.68h0.6M396.49 143h0.6M397.64 154.21h0.6M400.12 127.05h0.6M396.79 134.81h0.6M394.56 140.25h0.6M407.05 126.86h0.6M400.6 125.18h0.6M402.2 128.96h0.6M399.06 150.17h0.6M402.46 124.85h0.6M405.2 128.23h0.6M402.63 133.85h0.6M404.41 135.38h0.6M400.38 142.27h0.6M400.27 137.22h0.6M405.63 118.61h0.6M398.57 134.97h0.6M399.98 148.07h0.6M405.48 124.28h0.6M401.79 130.55h0.6M403.07 137.79h0.6M403.29 138.4h0.6M406.4 125.42h0.6M403.15 130.1h0.6M401.4 136.31h0.6M401.16 137.79h0.6M399.05 136.47h0.6M399.7 126.43h0.6M399.43 132.82h0.6M400.91 121.13h0.6M400.62 125.42h0.6M399.14 139.39h0.6M404.23 132.72h0.6M400.01 132.49h0.6M404.84 114.75h0.6M404.31 116.62h0.6M399.63 137.4h0.6M400.72 150.23h0.6M402.61 132.14h0.6M403.82 131.1h0.6M399.17 147.69h0.6M405.26 140.09h0.6M398.2 156.15h0.6M400.2 143h0.6M404.45 151.1h0.6M397.03 131.7h0.6M404.42 134.31h0.6M402.47 131.11h0.6M394.69 139.3h0.6M401.29 136.6h0.6M403.29 129.17h0.6M398.93 134.79h0.6M395.74 132.74h0.6M406.52 120.62h0.6M401.09 151.8h0.6M404.08 131.47h0.6M403.24 129.2h0.6M398.91 147.01h0.6M401.66 148.31h0.6M400.61 132.18h0.6M402.21 131.45h0.6M400.48 127.71h0.6M401.97 136.4h0.6M406.14 127.09h0.6M396.66 145.55h0.6M407.36 121.58h0.6M399.18 136.15h0.6M393.73 142.71h0.6M400.8 121.7h0.6M402.83 124.4h0.6M396.41 135.3h0.6M402.98 149.23h0.6M404.61 131.35h0.6M399.95 134.17h0.6M403.86 126.06h0.6M402.4 141.53h0.6M398.9 132.79h0.6M402.49 132.81h0.6M400.97 130.24h0.6M401.13 151.38h0.6M404.9 114.7h0.6M401.43 135.15h0.6M401.4 121.97h0.6M400.96 136.34h0.6M399.49 139.99h0.6M394.84 130.55h0.6M401.57 137.6h0.6M400.86 131.04h0.6M401.79 143.49h0.6M403.68 130.26h0.6M400.07 145.85h0.6M402.73 140.3h0.6M400.57 127.87h0.6M401.8 128.16h0.6M404.35 137.65h0.6M395.52 149.04h0.6M404.83 138.58h0.6M400.05 128.64h0.6M403.87 139.79h0.6M401.46 123.91h0.6M397.25 142.89h0.6M399.11 131.64h0.6M402.48 142.17h0.6M395.83 136.59h0.6M404.74 129.02h0.6M400.39 141.58h0.6M398.28 128h0.6M401.36 148.45h0.6M403.99 130.47h0.6M403.98 126.85h0.6M398.18 124.1h0.6M402.02 141.52h0.6M402.29 132.7h0.6M400.24 145.86h0.6M401.18 121.76h0.6M404.93 123.29h0.6M402.34 132.99h0.6M404.09 132.58h0.6M404.55 131.58h0.6M400.08 131.75h0.6M403.03 124.5h0.6M403.76 128.71h0.6M398.84 130.31h0.6M400.92 150.96h0.6M403.35 131.65h0.6M398.9 155.17h0.6M400.56 135.58h0.6M400.18 148.14h0.6M401.77 129.7h0.6M401.79 124.8h0.6M398.51 137.19h0.6M393.67 156.36h0.6M406.57 116.71h0.6M400.92 120.89h0.6M401.76 135.73h0.6M403.26 119.62h0.6M399.71 131.05h0.6M400.65 155.99h0.6M400.77 134.92h0.6M399.95 143.65h0.6M408.1 134.87h0.6M405.36 118.84h0.6M404.11 130.6h0.6M404.62 139.09h0.6M403.04 116.86h0.6M401.66 129.48h0.6M402.49 133.08h0.6M404.08 115.97h0.6M399.34 136.73h0.6M402.15 129.61h0.6M401.22 135.12h0.6M404.08 129.36h0.6M401.94 117.21h0.6M394.35 131.63h0.6M402.25 112.37h0.6M402.39 132.02h0.6M401.31 127.92h0.6M400.18 143.63h0.6M402.25 132.86h0.6M400 138.33h0.6M404.46 129.64h0.6M400.33 125.34h0.6M401.56 125.85h0.6M397.48 147.99h0.6M399.64 118.63h0.6M399.39 153.9h0.6M401.02 123h0.6M398.37 145.31h0.6M402.38 134.82h0.6M400.78 139.63h0.6M405.39 132.83h0.6M400.86 122.56h0.6M402.48 146.86h0.6M403.02 120.63h0.6M401.79 145.47h0.6M399.61 141.45h0.6M404.51 144.47h0.6M397.07 125.03h0.6M402.29 139.36h0.6M400.36 135.71h0.6M400.21 146.92h0.6M395.42 145.51h0.6M397.9 133.44h0.6M397.23 132.34h0.6M401.24 134.83h0.6M406.05 125.47h0.6M402.22 136.33h0.6M401.99 146.71h0.6M401.67 135.3h0.6M401 134.98h0.6M401.15 143.7h0.6M401.35 135.04h0.6M401.17 141.53h0.6M400.04 144.83h0.6M399.78 143.01h0.6M406.41 129.03h0.6M401.07 124.19h0.6M403.27 131.7h0.6M403.72 124.99h0.6M402.69 148.76h0.6M402.37 129.97h0.6M397.83 139.56h0.6M403.05 137.31h0.6M398.32 129.63h0.6M398.7 129.14h0.6M400.57 137.99h0.6M406.42 128.68h0.6M405.17 113.83h0.6M405.41 135.63h0.6M402.47 140.21h0.6M402.94 149.36h0.6M403.45 115.6h0.6M396.64 155.97h0.6M401.08 146.78h0.6M400.39 129.93h0.6M400.39 138.7h0.6M401.8 128.16h0.6M402.73 137.96h0.6M398.85 128.06h0.6M396.07 139.47h0.6M401.33 128.17h0.6M399.69 135.67h0.6M401.38 139.54h0.6M403.52 135.17h0.6M404.28 121.32h0.6M402.92 135.48h0.6M398.52 132.5h0.6M402.48 133.43h0.6M397.95 134.46h0.6M405.37 136.11h0.6M401.52 146.38h0.6M398.88 136.54h0.6M403.86 127.67h0.6M398.32 144.22h0.6M401.71 122.58h0.6M400.5 122.89h0.6M408.24 118.06h0.6M401.42 127.94h0.6M398.66 134.3h0.6M401.85 149.55h0.6M402.07 147.54h0.6M398.46 139.36h0.6M400.13 122.05h0.6M411.25 117.57h0.6M401.95 126.71h0.6M399.76 127.41h0.6M404.04 126.8h0.6M400.91 136.71h0.6M398.03 141.45h0.6M400.84 139.21h0.6M400.27 136.37h0.6M402.68 141.2h0.6M399.46 146.03h0.6M398.67 136.69h0.6M401.65 135.3h0.6M394.64 135.51h0.6M400.81 143.6h0.6M399.42 150.97h0.6M396.49 142.32h0.6M402.74 132.53h0.6M402 141.92h0.6M399.15 143.03h0.6M404.14 128.19h0.6M395.12 132.87h0.6" stroke="#000" stroke-width="0.6" fill="none" stroke-opacity="0.7"/>
<path d="M397.17 145.25h0.6M400.98 146.63h0.6M407.05 154.1h0.6M395.83 149.44h0.6M404.23 154.7h0.6M396.68 156.63h0.6M398.06 154.24h0.6M401.37 148.59h0.6M399.25 157.3h0.6M401.18 150.67h0.6M402.46 153.59h0.6M400.68 142.5h0.6M400.1 148.35h0.6M401.87 147.7h0.6M401.03 145.29h0.6M402.35 147.04h0.6M399.62 154.14h0.6M398.74 151.04h0.6M394.35 146.09h0.6M401.7 156.11h0.6M398.29 151.52h0.6M399.11 144.53h0.6M395.1 144.06h0.6M403.56 148.89h0.6M405.48 154.47h0.6M400.84 154.5h0.6M402.04 156h0.6M396.81 147.97h0.6M398.08 151.57h0.6M398.96 144.31h0.6M405.99 146.35h0.6M400.83 150.8h0.6M397.19 154.87h0.6M401.06 149.31h0.6M391.85 150.44h0.6M402.21 147.13h0.6M402.32 154.71h0.6M394.47 149.94h0.6M400.65 155.1h0.6M400.16 150.92h0.6M398.67 149.42h0.6M399.71 145.23h0.6M401.6 149.23h0.6M401.25 148.25h0.6M400.92 151.69h0.6M402.34 153.51h0.6M402.47 150.1h0.6M399.54 149.58h0.6M395.98 150.32h0.6M402.93 155.18h0.6M397.18 152.63h0.6M401.93 143.62h0.6M400.73 152.79h0.6M401.92 152.39h0.6M394.54 140.06h0.6M405.58 148.86h0.6M403.47 157.86h0.6M399.96 144.8h0.6M403.75 150.8h0.6M401.24 153.6h0.6M402.53 156.49h0.6M395.49 143.36h0.6M400.12 151.05h0.6M402.01 150.27h0.6M403.77 157.29h0.6M402.77 146.73h0.6M399.45 150.62h0.6M396.46 146.29h0.6M400.18 144.42h0.6M401.31 153.56h0.6M399 149.16h0.6M401.49 153.6h0.6M400.78 144.37h0.6M397.77 149.02h0.6M394.29 146.67h0.6M397.53 155.32h0.6M391.87 143.41h0.6M398.48 148.34h0.6M397.4 148.61h0.6M395.03 152.45h0.6M403.24 151.83h0.6M398.11 157.84h0.6M401.15 145.43h0.6M398 147.7h0.6M399.57 157.57h0.6M397.61 150.21h0.6M400.03 144.56h0.6M398.29 154.32h0.6M403.06 140.87h0.6M401.8 149.43h0.6M403.52 154.36h0.6M405.54 152.68h0.6M398.53 146.5h0.6M395.46 154h0.6M401.23 155.43h0.6M400.74 142.91h0.6M398.5 149.69h0.6M400.17 155.14h0.6M403.9 152.54h0.6M393.58 145.48h0.6M393.37 146.87h0.6M396.15 152.29h0.6M399.04 157.03h0.6M402.9 148.54h0.6M402.5 151.07h0.6M401.05 158.28h0.6M396.3 150.64h0.6M404.26 146.88h0.6M400.34 151.72h0.6M398.47 143.94h0.6M397.67 145.7h0.6M402.91 152.34h0.6M401.78 144.59h0.6M401.19 151.78h0.6M402.81 147.11h0.6M402.1 158.4h0.6M405.05 145.99h0.6M396.37 143.1h0.6M402.55 154.21h0.6M400.71 146.33h0.6M403.42 159.66h0.6M399.6 150.35h0.6M403.23 153.73h0.6M403.69 148.82h0.6M400.71 149.18h0.6M398.01 149.4h0.6M398.86 153.72h0.6M398.8 151.38h0.6M397.3 144.4h0.6M403.94 145.7h0.6" stroke="#000" stroke-width="0.6" fill="none" stroke-opacity="0.6"/>
<path d="M402.46 145.37h0.6M378.13 133h0.6M389.23 138.17h0.6M390.65 133.27h0.6M399.13 137h0.6M397.41 132.63h0.6M387.61 148.45h0.6M390.04 129.4h0.6M390.7 146.25h0.6M390.75 132.38h0.6M395.48 145.7h0.6M390.48 135.51h0.6M389.55 159.15h0.6M390.59 151.67h0.6M390.83 141.18h0.6M379.64 139.39h0.6M392.02 135.53h0.6M389.29 127.33h0.6M382.88 139.31h0.6M387.92 137.31h0.6M390.64 134.04h0.6M387.39 152.53h0.6M385.17 134.02h0.6M389.96 128.98h0.6M386.03 144.75h0.6M397.23 139.04h0.6M410.92 144.49h0.6M399.02 131.63h0.6M398.13 151.18h0.6M389.47 152.15h0.6M386.94 129.14h0.6M391.45 131.7h0.6M395.49 129.36h0.6M392.21 122.71h0.6M391.52 146.22h0.6M390.15 140.45h0.6M398.18 129.43h0.6M384.18 138.64h0.6M393.36 135.91h0.6M385.97 147.49h0.6" stroke="#000" stroke-width="0.6" fill="none" stroke-opacity="0.3"/>
</g></g>
<rect x="377.8" y="111.8" width="44.9" height="48.6" fill="none" stroke="#8a8a8a" stroke-width="0.8"/>
<rect x="396.5" y="115.2" width="24.6" height="44.8" fill="none" stroke="#1a1a1a" stroke-width="1.2"/>
<text x="387.3" y="123.9" font-size="8.6" text-anchor="middle" textLength="9.2" lengthAdjust="spacingAndGlyphs">25</text>
<line x1="475.3" y1="40.8" x2="475.3" y2="102.4" stroke="#111" stroke-width="1.55"/>
<line x1="471.9" y1="43" x2="475.3" y2="43" stroke="#111" stroke-width="1.15"/>
<text x="468.3" y="46.17" font-size="8.8" text-anchor="end" textLength="8.51" lengthAdjust="spacingAndGlyphs">25</text>
<line x1="471.9" y1="55" x2="475.3" y2="55" stroke="#111" stroke-width="1.15"/>
<text x="468.3" y="58.17" font-size="8.8" text-anchor="end" textLength="8.51" lengthAdjust="spacingAndGlyphs">20</text>
<line x1="471.9" y1="66.8" x2="475.3" y2="66.8" stroke="#111" stroke-width="1.15"/>
<text x="468.3" y="69.97" font-size="8.8" text-anchor="end" textLength="8.51" lengthAdjust="spacingAndGlyphs">15</text>
<line x1="471.9" y1="78.8" x2="475.3" y2="78.8" stroke="#111" stroke-width="1.15"/>
<text x="468.3" y="81.97" font-size="8.8" text-anchor="end" textLength="8.51" lengthAdjust="spacingAndGlyphs">10</text>
<line x1="471.9" y1="90.6" x2="475.3" y2="90.6" stroke="#111" stroke-width="1.15"/>
<text x="468.3" y="93.77" font-size="8.8" text-anchor="end" textLength="4.26" lengthAdjust="spacingAndGlyphs">5</text>
<line x1="471.9" y1="102.4" x2="475.3" y2="102.4" stroke="#111" stroke-width="1.15"/>
<text x="468.3" y="105.57" font-size="8.8" text-anchor="end" textLength="4.26" lengthAdjust="spacingAndGlyphs">0</text>
<line x1="474.53" y1="102.4" x2="512" y2="102.4" stroke="#111" stroke-width="1.55"/>
<line x1="483.9" y1="102.4" x2="483.9" y2="105.4" stroke="#111" stroke-width="1.1"/>
<line x1="502.3" y1="102.4" x2="502.3" y2="105.4" stroke="#111" stroke-width="1.1"/>
<line x1="484.1" y1="75.3" x2="484.1" y2="79.3" stroke="#151515" stroke-width="1.2"/>
<line x1="480.9" y1="75.3" x2="487.3" y2="75.3" stroke="#151515" stroke-width="1.2"/>
<rect x="477.4" y="78.8" width="13.4" height="23.6" fill="#B8082F"/>
<line x1="502.4" y1="48.6" x2="502.4" y2="51.7" stroke="#151515" stroke-width="1.2"/>
<line x1="499.2" y1="48.6" x2="505.6" y2="48.6" stroke="#151515" stroke-width="1.2"/>
<rect x="495.9" y="51.2" width="13" height="51.2" fill="#2F4E86"/>
<text x="493.3" y="35.4" font-size="10.6" text-anchor="middle" textLength="32.5" lengthAdjust="spacingAndGlyphs">Spleen</text>
<text x="484.1" y="74.55" font-size="9.5" text-anchor="middle" font-weight="bold">***</text>
<line x1="475.1" y1="132.5" x2="475.1" y2="194.9" stroke="#111" stroke-width="1.55"/>
<line x1="471.7" y1="135.6" x2="475.1" y2="135.6" stroke="#111" stroke-width="1.15"/>
<text x="468.1" y="138.77" font-size="8.8" text-anchor="end" textLength="8.51" lengthAdjust="spacingAndGlyphs">25</text>
<line x1="471.7" y1="147.7" x2="475.1" y2="147.7" stroke="#111" stroke-width="1.15"/>
<text x="468.1" y="150.87" font-size="8.8" text-anchor="end" textLength="8.51" lengthAdjust="spacingAndGlyphs">20</text>
<line x1="471.7" y1="159.7" x2="475.1" y2="159.7" stroke="#111" stroke-width="1.15"/>
<text x="468.1" y="162.87" font-size="8.8" text-anchor="end" textLength="8.51" lengthAdjust="spacingAndGlyphs">15</text>
<line x1="471.7" y1="171.5" x2="475.1" y2="171.5" stroke="#111" stroke-width="1.15"/>
<text x="468.1" y="174.67" font-size="8.8" text-anchor="end" textLength="8.51" lengthAdjust="spacingAndGlyphs">10</text>
<line x1="471.7" y1="183.6" x2="475.1" y2="183.6" stroke="#111" stroke-width="1.15"/>
<text x="468.1" y="186.77" font-size="8.8" text-anchor="end" textLength="4.26" lengthAdjust="spacingAndGlyphs">5</text>
<line x1="471.7" y1="194.9" x2="475.1" y2="194.9" stroke="#111" stroke-width="1.15"/>
<text x="468.1" y="198.07" font-size="8.8" text-anchor="end" textLength="4.26" lengthAdjust="spacingAndGlyphs">0</text>
<line x1="474.33" y1="194.9" x2="513.4" y2="194.9" stroke="#111" stroke-width="1.55"/>
<line x1="484.4" y1="194.9" x2="484.4" y2="197.9" stroke="#111" stroke-width="1.1"/>
<line x1="503.6" y1="194.9" x2="503.6" y2="197.9" stroke="#111" stroke-width="1.1"/>
<line x1="483.95" y1="159.3" x2="483.95" y2="162.2" stroke="#151515" stroke-width="1.2"/>
<line x1="480.75" y1="159.3" x2="487.15" y2="159.3" stroke="#151515" stroke-width="1.2"/>
<rect x="477" y="161.7" width="13.9" height="33.2" fill="#B8082F"/>
<line x1="503.9" y1="139.3" x2="503.9" y2="144.7" stroke="#151515" stroke-width="1.2"/>
<line x1="500.7" y1="139.3" x2="507.1" y2="139.3" stroke="#151515" stroke-width="1.2"/>
<rect x="496.8" y="144.2" width="14.2" height="50.7" fill="#2F4E86"/>
<text x="494" y="127" font-size="10.6" text-anchor="middle" textLength="22.5" lengthAdjust="spacingAndGlyphs">Liver</text>
<text x="483.95" y="157.75" font-size="9.5" text-anchor="middle" font-weight="bold">*</text>
<text transform="translate(452.2 117.3) rotate(-90)" font-size="10.4" text-anchor="middle" textLength="86" lengthAdjust="spacingAndGlyphs">Annexin V<tspan font-size="6.5" dy="-3.5">+</tspan><tspan dy="3.5"> cells (%)</tspan></text>
<text transform="translate(488.3 205.3) rotate(-45)" font-size="8.8" text-anchor="end" textLength="15.8" lengthAdjust="spacingAndGlyphs">Con</text>
<text transform="translate(507.8 205.5) rotate(-45)" font-size="8.8" text-anchor="end" textLength="32.5" lengthAdjust="spacingAndGlyphs">AUY922</text>
<text x="91" y="250.2" font-size="10.6" text-anchor="middle" textLength="32" lengthAdjust="spacingAndGlyphs">Spleen</text>
<text x="188.5" y="250.2" font-size="10.6" text-anchor="middle" textLength="22.5" lengthAdjust="spacingAndGlyphs">Liver</text>
<text x="63.3" y="264.6" font-size="8.2" textLength="31.5" lengthAdjust="spacingAndGlyphs">CFSE<tspan font-size="5.8" dy="-3">low</tspan></text>
<text x="62.3" y="346.3" font-size="8.2" textLength="34.5" lengthAdjust="spacingAndGlyphs">CFSE<tspan font-size="5.8" dy="-3">high</tspan></text>
<text transform="translate(32.6 296) rotate(-90)" font-size="10.4" text-anchor="middle" textLength="52" lengthAdjust="spacingAndGlyphs">Percent cells</text>
<text transform="translate(32.6 378) rotate(-90)" font-size="10.4" text-anchor="middle" textLength="52" lengthAdjust="spacingAndGlyphs">Percent cells</text>
<line x1="57.7" y1="270.8" x2="57.7" y2="321.1" stroke="#111" stroke-width="1.55"/>
<line x1="54.3" y1="273.5" x2="57.7" y2="273.5" stroke="#111" stroke-width="1.15"/>
<text x="50.8" y="276.67" font-size="8.8" text-anchor="end" textLength="8.51" lengthAdjust="spacingAndGlyphs">80</text>
<line x1="54.3" y1="285.3" x2="57.7" y2="285.3" stroke="#111" stroke-width="1.15"/>
<text x="50.8" y="288.47" font-size="8.8" text-anchor="end" textLength="8.51" lengthAdjust="spacingAndGlyphs">60</text>
<line x1="54.3" y1="297.3" x2="57.7" y2="297.3" stroke="#111" stroke-width="1.15"/>
<text x="50.8" y="300.47" font-size="8.8" text-anchor="end" textLength="8.51" lengthAdjust="spacingAndGlyphs">40</text>
<line x1="54.3" y1="309.3" x2="57.7" y2="309.3" stroke="#111" stroke-width="1.15"/>
<text x="50.8" y="312.47" font-size="8.8" text-anchor="end" textLength="8.51" lengthAdjust="spacingAndGlyphs">20</text>
<line x1="54.3" y1="321.1" x2="57.7" y2="321.1" stroke="#111" stroke-width="1.15"/>
<text x="50.8" y="324.27" font-size="8.8" text-anchor="end" textLength="4.26" lengthAdjust="spacingAndGlyphs">0</text>
<line x1="56.93" y1="321.1" x2="123.5" y2="321.1" stroke="#111" stroke-width="1.55"/>
<line x1="74.5" y1="321.1" x2="74.5" y2="324.1" stroke="#111" stroke-width="1.1"/>
<line x1="107.3" y1="321.1" x2="107.3" y2="324.1" stroke="#111" stroke-width="1.1"/>
<rect x="72.4" y="276.9" width="4.2" height="4.2" fill="#fff" stroke="#B8082F" stroke-width="1.1"/>
<rect x="72.4" y="291" width="4.2" height="4.2" fill="#fff" stroke="#B8082F" stroke-width="1.1"/>
<rect x="67.4" y="283.7" width="4.2" height="4.2" fill="#fff" stroke="#B8082F" stroke-width="1.1"/>
<rect x="70.4" y="282.5" width="4.2" height="4.2" fill="#fff" stroke="#B8082F" stroke-width="1.1"/>
<rect x="73.9" y="284.1" width="4.2" height="4.2" fill="#fff" stroke="#B8082F" stroke-width="1.1"/>
<rect x="75.9" y="282.9" width="4.2" height="4.2" fill="#fff" stroke="#B8082F" stroke-width="1.1"/>
<line x1="63.7" y1="285.6" x2="85.3" y2="285.6" stroke="#111" stroke-width="1.2"/>
<line x1="74.5" y1="282.7" x2="74.5" y2="288.5" stroke="#111" stroke-width="0.9"/>
<line x1="68.5" y1="282.7" x2="80.5" y2="282.7" stroke="#111" stroke-width="1"/>
<line x1="68.5" y1="288.5" x2="80.5" y2="288.5" stroke="#111" stroke-width="1"/>
<rect x="104.7" y="288.5" width="5" height="5" fill="#2F4E86"/>
<rect x="96.5" y="294.2" width="5" height="5" fill="#2F4E86"/>
<rect x="104.7" y="305.8" width="5" height="5" fill="#2F4E86"/>
<rect x="98.5" y="298" width="5" height="5" fill="#2F4E86"/>
<rect x="102" y="297" width="5" height="5" fill="#2F4E86"/>
<rect x="105.5" y="298" width="5" height="5" fill="#2F4E86"/>
<rect x="109" y="296.5" width="5" height="5" fill="#2F4E86"/>
<rect x="111.5" y="298" width="5" height="5" fill="#2F4E86"/>
<rect x="103.5" y="300" width="5" height="5" fill="#2F4E86"/>
<rect x="107.5" y="294.3" width="5" height="5" fill="#2F4E86"/>
<line x1="96.5" y1="299.6" x2="118.2" y2="299.6" stroke="#111" stroke-width="1.2"/>
<line x1="107.35" y1="298" x2="107.35" y2="301.2" stroke="#111" stroke-width="0.9"/>
<line x1="101.35" y1="298" x2="113.35" y2="298" stroke="#111" stroke-width="1"/>
<line x1="101.35" y1="301.2" x2="113.35" y2="301.2" stroke="#111" stroke-width="1"/>
<text x="107.2" y="284.35" font-size="9.5" text-anchor="middle" font-weight="bold">*</text>
<line x1="155.8" y1="270.8" x2="155.8" y2="320.9" stroke="#111" stroke-width="1.55"/>
<line x1="152.4" y1="273.8" x2="155.8" y2="273.8" stroke="#111" stroke-width="1.15"/>
<text x="148.9" y="276.97" font-size="8.8" text-anchor="end" textLength="12.77" lengthAdjust="spacingAndGlyphs">100</text>
<line x1="152.4" y1="283.5" x2="155.8" y2="283.5" stroke="#111" stroke-width="1.15"/>
<text x="148.9" y="286.67" font-size="8.8" text-anchor="end" textLength="8.51" lengthAdjust="spacingAndGlyphs">80</text>
<line x1="152.4" y1="292.7" x2="155.8" y2="292.7" stroke="#111" stroke-width="1.15"/>
<text x="148.9" y="295.87" font-size="8.8" text-anchor="end" textLength="8.51" lengthAdjust="spacingAndGlyphs">60</text>
<line x1="152.4" y1="302.2" x2="155.8" y2="302.2" stroke="#111" stroke-width="1.15"/>
<text x="148.9" y="305.37" font-size="8.8" text-anchor="end" textLength="8.51" lengthAdjust="spacingAndGlyphs">40</text>
<line x1="152.4" y1="311.6" x2="155.8" y2="311.6" stroke="#111" stroke-width="1.15"/>
<text x="148.9" y="314.77" font-size="8.8" text-anchor="end" textLength="8.51" lengthAdjust="spacingAndGlyphs">20</text>
<line x1="152.4" y1="320.9" x2="155.8" y2="320.9" stroke="#111" stroke-width="1.15"/>
<text x="148.9" y="324.07" font-size="8.8" text-anchor="end" textLength="4.26" lengthAdjust="spacingAndGlyphs">0</text>
<line x1="155.03" y1="320.9" x2="221.5" y2="320.9" stroke="#111" stroke-width="1.55"/>
<line x1="172" y1="320.9" x2="172" y2="323.9" stroke="#111" stroke-width="1.1"/>
<line x1="205" y1="320.9" x2="205" y2="323.9" stroke="#111" stroke-width="1.1"/>
<rect x="163.9" y="279.1" width="4.2" height="4.2" fill="#fff" stroke="#B8082F" stroke-width="1.1"/>
<rect x="170.4" y="275.9" width="4.2" height="4.2" fill="#fff" stroke="#B8082F" stroke-width="1.1"/>
<rect x="167.9" y="281.4" width="4.2" height="4.2" fill="#fff" stroke="#B8082F" stroke-width="1.1"/>
<rect x="175.4" y="279.9" width="4.2" height="4.2" fill="#fff" stroke="#B8082F" stroke-width="1.1"/>
<rect x="171.9" y="278.4" width="4.2" height="4.2" fill="#fff" stroke="#B8082F" stroke-width="1.1"/>
<line x1="161.5" y1="281.2" x2="182.8" y2="281.2" stroke="#111" stroke-width="1.2"/>
<line x1="172.15" y1="280" x2="172.15" y2="282.4" stroke="#111" stroke-width="0.9"/>
<line x1="166.15" y1="280" x2="178.15" y2="280" stroke="#111" stroke-width="1"/>
<line x1="166.15" y1="282.4" x2="178.15" y2="282.4" stroke="#111" stroke-width="1"/>
<rect x="202.5" y="285.5" width="5" height="5" fill="#2F4E86"/>
<rect x="202.5" y="289" width="5" height="5" fill="#2F4E86"/>
<rect x="202.5" y="298" width="5" height="5" fill="#2F4E86"/>
<rect x="202.5" y="294.5" width="5" height="5" fill="#2F4E86"/>
<rect x="198.5" y="291.7" width="5" height="5" fill="#2F4E86"/>
<rect x="202.5" y="291.7" width="5" height="5" fill="#2F4E86"/>
<rect x="206.5" y="291.7" width="5" height="5" fill="#2F4E86"/>
<rect x="200" y="293.2" width="2" height="2" fill="#fff"/>
<rect x="204" y="293.2" width="2" height="2" fill="#fff"/>
<rect x="208" y="293.2" width="2" height="2" fill="#fff"/>
<line x1="193.8" y1="294.3" x2="215.8" y2="294.3" stroke="#111" stroke-width="1.2"/>
<line x1="204.8" y1="292.8" x2="204.8" y2="295.8" stroke="#111" stroke-width="0.9"/>
<line x1="198.8" y1="292.8" x2="210.8" y2="292.8" stroke="#111" stroke-width="1"/>
<line x1="198.8" y1="295.8" x2="210.8" y2="295.8" stroke="#111" stroke-width="1"/>
<text x="204.2" y="282.55" font-size="9.5" text-anchor="middle" font-weight="bold">*</text>
<line x1="57.7" y1="353.2" x2="57.7" y2="402.8" stroke="#111" stroke-width="1.55"/>
<line x1="54.3" y1="355.7" x2="57.7" y2="355.7" stroke="#111" stroke-width="1.15"/>
<text x="50.8" y="358.87" font-size="8.8" text-anchor="end" textLength="12.77" lengthAdjust="spacingAndGlyphs">100</text>
<line x1="54.3" y1="365.4" x2="57.7" y2="365.4" stroke="#111" stroke-width="1.15"/>
<text x="50.8" y="368.57" font-size="8.8" text-anchor="end" textLength="8.51" lengthAdjust="spacingAndGlyphs">80</text>
<line x1="54.3" y1="374.6" x2="57.7" y2="374.6" stroke="#111" stroke-width="1.15"/>
<text x="50.8" y="377.77" font-size="8.8" text-anchor="end" textLength="8.51" lengthAdjust="spacingAndGlyphs">60</text>
<line x1="54.3" y1="384" x2="57.7" y2="384" stroke="#111" stroke-width="1.15"/>
<text x="50.8" y="387.17" font-size="8.8" text-anchor="end" textLength="8.51" lengthAdjust="spacingAndGlyphs">40</text>
<line x1="54.3" y1="393.5" x2="57.7" y2="393.5" stroke="#111" stroke-width="1.15"/>
<text x="50.8" y="396.67" font-size="8.8" text-anchor="end" textLength="8.51" lengthAdjust="spacingAndGlyphs">20</text>
<line x1="54.3" y1="402.8" x2="57.7" y2="402.8" stroke="#111" stroke-width="1.15"/>
<text x="50.8" y="405.97" font-size="8.8" text-anchor="end" textLength="4.26" lengthAdjust="spacingAndGlyphs">0</text>
<line x1="56.93" y1="402.8" x2="123.5" y2="402.8" stroke="#111" stroke-width="1.55"/>
<line x1="74.5" y1="402.8" x2="74.5" y2="405.8" stroke="#111" stroke-width="1.1"/>
<line x1="107.3" y1="402.8" x2="107.3" y2="405.8" stroke="#111" stroke-width="1.1"/>
<rect x="72.4" y="377.1" width="4.2" height="4.2" fill="#fff" stroke="#B8082F" stroke-width="1.1"/>
<rect x="72.4" y="388.2" width="4.2" height="4.2" fill="#fff" stroke="#B8082F" stroke-width="1.1"/>
<rect x="65.9" y="382.9" width="4.2" height="4.2" fill="#fff" stroke="#B8082F" stroke-width="1.1"/>
<rect x="69.9" y="382.9" width="4.2" height="4.2" fill="#fff" stroke="#B8082F" stroke-width="1.1"/>
<rect x="74.9" y="382.9" width="4.2" height="4.2" fill="#fff" stroke="#B8082F" stroke-width="1.1"/>
<rect x="78.9" y="382.9" width="4.2" height="4.2" fill="#fff" stroke="#B8082F" stroke-width="1.1"/>
<line x1="63.5" y1="385" x2="85.4" y2="385" stroke="#111" stroke-width="1.2"/>
<line x1="74.45" y1="383.6" x2="74.45" y2="386.4" stroke="#111" stroke-width="0.9"/>
<line x1="68.45" y1="383.6" x2="80.45" y2="383.6" stroke="#111" stroke-width="1"/>
<line x1="68.45" y1="386.4" x2="80.45" y2="386.4" stroke="#111" stroke-width="1"/>
<rect x="104.8" y="364" width="5" height="5" fill="#2F4E86"/>
<rect x="104.8" y="378.5" width="5" height="5" fill="#2F4E86"/>
<rect x="98" y="371" width="5" height="5" fill="#2F4E86"/>
<rect x="101.5" y="370" width="5" height="5" fill="#2F4E86"/>
<rect x="105.5" y="371" width="5" height="5" fill="#2F4E86"/>
<rect x="109.5" y="370" width="5" height="5" fill="#2F4E86"/>
<rect x="112.5" y="371.5" width="5" height="5" fill="#2F4E86"/>
<rect x="100.5" y="374.5" width="5" height="5" fill="#2F4E86"/>
<rect x="109" y="374.5" width="5" height="5" fill="#2F4E86"/>
<line x1="95.8" y1="373.9" x2="117.7" y2="373.9" stroke="#111" stroke-width="1.2"/>
<line x1="106.75" y1="372.4" x2="106.75" y2="375.4" stroke="#111" stroke-width="0.9"/>
<line x1="100.75" y1="372.4" x2="112.75" y2="372.4" stroke="#111" stroke-width="1"/>
<line x1="100.75" y1="375.4" x2="112.75" y2="375.4" stroke="#111" stroke-width="1"/>
<text x="107.3" y="362.25" font-size="9.5" text-anchor="middle" font-weight="bold">*</text>
<text x="74.5" y="417" font-size="8.8" text-anchor="middle" textLength="16" lengthAdjust="spacingAndGlyphs">Con</text>
<text x="107.5" y="417" font-size="8.8" text-anchor="middle" textLength="32.8" lengthAdjust="spacingAndGlyphs">AUY922</text>
<line x1="155.8" y1="353.2" x2="155.8" y2="402.8" stroke="#111" stroke-width="1.55"/>
<line x1="152.4" y1="355.7" x2="155.8" y2="355.7" stroke="#111" stroke-width="1.15"/>
<text x="148.9" y="358.87" font-size="8.8" text-anchor="end" textLength="8.51" lengthAdjust="spacingAndGlyphs">60</text>
<line x1="152.4" y1="371.6" x2="155.8" y2="371.6" stroke="#111" stroke-width="1.15"/>
<text x="148.9" y="374.77" font-size="8.8" text-anchor="end" textLength="8.51" lengthAdjust="spacingAndGlyphs">40</text>
<line x1="152.4" y1="387.3" x2="155.8" y2="387.3" stroke="#111" stroke-width="1.15"/>
<text x="148.9" y="390.47" font-size="8.8" text-anchor="end" textLength="8.51" lengthAdjust="spacingAndGlyphs">20</text>
<line x1="152.4" y1="402.8" x2="155.8" y2="402.8" stroke="#111" stroke-width="1.15"/>
<text x="148.9" y="405.97" font-size="8.8" text-anchor="end" textLength="4.26" lengthAdjust="spacingAndGlyphs">0</text>
<line x1="155.03" y1="402.8" x2="221.5" y2="402.8" stroke="#111" stroke-width="1.55"/>
<line x1="172" y1="402.8" x2="172" y2="405.8" stroke="#111" stroke-width="1.1"/>
<line x1="205" y1="402.8" x2="205" y2="405.8" stroke="#111" stroke-width="1.1"/>
<rect x="164.1" y="386.4" width="4.2" height="4.2" fill="#fff" stroke="#B8082F" stroke-width="1.1"/>
<rect x="169.4" y="387.6" width="4.2" height="4.2" fill="#fff" stroke="#B8082F" stroke-width="1.1"/>
<rect x="174.6" y="390.4" width="4.2" height="4.2" fill="#fff" stroke="#B8082F" stroke-width="1.1"/>
<rect x="169.9" y="395.1" width="4.2" height="4.2" fill="#fff" stroke="#B8082F" stroke-width="1.1"/>
<rect x="166.4" y="390.4" width="4.2" height="4.2" fill="#fff" stroke="#B8082F" stroke-width="1.1"/>
<line x1="161" y1="392.2" x2="182.8" y2="392.2" stroke="#111" stroke-width="1.2"/>
<line x1="171.9" y1="390.6" x2="171.9" y2="393.8" stroke="#111" stroke-width="0.9"/>
<line x1="165.9" y1="390.6" x2="177.9" y2="390.6" stroke="#111" stroke-width="1"/>
<line x1="165.9" y1="393.8" x2="177.9" y2="393.8" stroke="#111" stroke-width="1"/>
<rect x="202.2" y="359.5" width="5" height="5" fill="#2F4E86"/>
<rect x="196.5" y="368.2" width="5" height="5" fill="#2F4E86"/>
<rect x="202.5" y="370.7" width="5" height="5" fill="#2F4E86"/>
<rect x="202.5" y="377.9" width="5" height="5" fill="#2F4E86"/>
<rect x="201.5" y="365" width="5" height="5" fill="#2F4E86"/>
<line x1="193.8" y1="371.6" x2="215.8" y2="371.6" stroke="#111" stroke-width="1.2"/>
<line x1="204.8" y1="367.8" x2="204.8" y2="375.4" stroke="#111" stroke-width="0.9"/>
<line x1="198.8" y1="367.8" x2="210.8" y2="367.8" stroke="#111" stroke-width="1"/>
<line x1="198.8" y1="375.4" x2="210.8" y2="375.4" stroke="#111" stroke-width="1"/>
<text x="204.7" y="358.75" font-size="9.5" text-anchor="middle" font-weight="bold">*</text>
<text x="172" y="417" font-size="8.8" text-anchor="middle" textLength="16" lengthAdjust="spacingAndGlyphs">Con</text>
<text x="205" y="417" font-size="8.8" text-anchor="middle" textLength="32.8" lengthAdjust="spacingAndGlyphs">AUY922</text>
<text x="319.4" y="250.5" font-size="10.6" text-anchor="middle" textLength="32.8" lengthAdjust="spacingAndGlyphs">Spleen</text>
<line x1="273.7" y1="256" x2="364.4" y2="256" stroke="#111" stroke-width="1.4"/>
<text x="291.3" y="266.4" font-size="8.4" text-anchor="middle" textLength="15.2" lengthAdjust="spacingAndGlyphs">Con</text>
<text x="347.7" y="266.4" font-size="8.2" text-anchor="middle" textLength="30.5" lengthAdjust="spacingAndGlyphs">AUY922</text>
<text transform="translate(260.2 294.8) rotate(-90)" font-size="10.4" text-anchor="middle" textLength="17.5" lengthAdjust="spacingAndGlyphs">CD8</text>
<text transform="translate(260.2 361.5) rotate(-90)" font-size="10.4" text-anchor="middle" textLength="17.5" lengthAdjust="spacingAndGlyphs">CD8</text>
<text x="320.8" y="333.8" font-size="10.4" text-anchor="middle" textLength="22.5" lengthAdjust="spacingAndGlyphs">IFN-γ</text>
<text x="318.9" y="404.9" font-size="10.4" text-anchor="middle" textLength="25.5" lengthAdjust="spacingAndGlyphs">TNF-α</text>
<g clip-path="url(#c5)">
<g filter="url(#bl)">
<rect x="275.8" y="287.8" width="12.6" height="8.4" fill="#000" fill-opacity="1"/>
<ellipse cx="282" cy="292" rx="8.4" ry="6" fill="#000" fill-opacity="1"/>
<ellipse cx="281" cy="292.5" rx="6.4" ry="5.2" fill="#000" fill-opacity="1"/>
<ellipse cx="294" cy="292.8" rx="6.5" ry="5.2" fill="#000" fill-opacity="0.85"/>
<ellipse cx="301" cy="292.5" rx="8" ry="4.3" fill="#000" fill-opacity="0.55"/>
<ellipse cx="308" cy="291.5" rx="7" ry="3.2" fill="#000" fill-opacity="0.35"/>
</g><g filter="url(#b2)">
<path d="M275.55 290.91h0.7M281.25 295.04h0.7M279.19 288.56h0.7M291.71 288.46h0.7M285.52 291.36h0.7M279.04 291.82h0.7M280.16 293.31h0.7M268.53 291.89h0.7M281.83 287.93h0.7M279.5 301.8h0.7M290.86 294.69h0.7M282.65 290.73h0.7M288.53 290.13h0.7M277.3 294.9h0.7M276.56 288.69h0.7M288.83 285.27h0.7M281.13 292.5h0.7M282.78 285.9h0.7M280.31 290.61h0.7M291.25 296.21h0.7M277.63 295.67h0.7M284.8 291.53h0.7M280.24 290.85h0.7M273.62 289.36h0.7M286.23 298.06h0.7M290.9 290.43h0.7M284.6 281.92h0.7M280.1 286.71h0.7M285.66 285.06h0.7M276.17 287.37h0.7M283.49 295.51h0.7M276.8 299.56h0.7M282.29 288.51h0.7M283.25 291.94h0.7M285.7 293.45h0.7M292.6 296.9h0.7M278.23 295.3h0.7M285.34 287.81h0.7M277.66 288.62h0.7M268.92 294.67h0.7M280.38 297.16h0.7M278.63 292.32h0.7M285.16 296.06h0.7M283.1 287.65h0.7M292.68 295.64h0.7M288.4 298.78h0.7M288.61 293.74h0.7M283.88 294.65h0.7M273.83 295.41h0.7M276.53 293.77h0.7M276.34 295h0.7M279.01 302.42h0.7M282.46 294.13h0.7M276.88 290.8h0.7M281.19 290.8h0.7M279.27 288.34h0.7M285.36 290.4h0.7M277.34 293.53h0.7M277.36 291.27h0.7M278.88 288.13h0.7M280.34 288.56h0.7M275.12 293.48h0.7M279.98 285.88h0.7M279.48 292.78h0.7M283.66 293.57h0.7M282.77 294.5h0.7M278.98 288.67h0.7M284.6 290.29h0.7M281.54 294.73h0.7M286.25 297.12h0.7M278 290.46h0.7M284.31 286.02h0.7M275.1 294.54h0.7M278.37 288.15h0.7M285.56 294.23h0.7M286.15 290.62h0.7M280.03 290.59h0.7M283 283.52h0.7M277.98 294.96h0.7M277.53 291.73h0.7M282.12 294.18h0.7M279.08 287.27h0.7M294.15 289.01h0.7M290.17 284.66h0.7M282.05 291.19h0.7M291.1 300.52h0.7M286.45 287.77h0.7M277.42 288.86h0.7M278.88 293.1h0.7M277.51 290.98h0.7M288.96 298.01h0.7M272.06 288.03h0.7M279.61 297.42h0.7M279.82 299.98h0.7M283.35 298h0.7M277.15 290.71h0.7M286.66 294.39h0.7M272.04 290.86h0.7M282.41 294.63h0.7M278.28 299.27h0.7M282.27 298.05h0.7M283.54 292.36h0.7M279.89 287.14h0.7M285.88 295.16h0.7M286.23 290.44h0.7M276.41 290.43h0.7M279.92 291.96h0.7M286.48 288.21h0.7M279.03 294.88h0.7M286.08 301.23h0.7M284.17 288.48h0.7M276.24 288.71h0.7M281.86 293.06h0.7M281.17 289.45h0.7M280.57 291.68h0.7M284.51 292.35h0.7M277.41 287.14h0.7M289.01 291.65h0.7M280.62 291.9h0.7M287.21 290.7h0.7M282.4 291.02h0.7M284.44 287.8h0.7M282.54 296.29h0.7M287.5 294.57h0.7M283 298.55h0.7M285.09 297.83h0.7M275.44 287.44h0.7M285.55 290.9h0.7M279.33 288.06h0.7M289.02 287.05h0.7M282.05 286.21h0.7M280.64 301.35h0.7M293.82 289.95h0.7M276.41 298.78h0.7M277.19 284.59h0.7M283.27 287.53h0.7M274.19 296.68h0.7M277.83 287.59h0.7M282.37 291.22h0.7M287.19 292.4h0.7M289.56 296.73h0.7M290.51 296.67h0.7M281.88 294.27h0.7M281.63 285.54h0.7M275.58 295.09h0.7M269.59 288.58h0.7M275.04 291.75h0.7M276.29 293.05h0.7M280.53 290.06h0.7M277.25 282.78h0.7M281.9 286.64h0.7M280.04 293.55h0.7M286.81 294.93h0.7M288.99 286.11h0.7M284.93 298.52h0.7M283.52 287.41h0.7M283.53 289.86h0.7M278.28 296.43h0.7M280.63 287.37h0.7M278.12 300.16h0.7M277.27 294.81h0.7M282.43 296.86h0.7M280.12 288.09h0.7M278.3 287.74h0.7M294.61 292.82h0.7M279.92 297.24h0.7M284.84 291.25h0.7M284.67 293.14h0.7M287.21 298.87h0.7M279.95 291.86h0.7M280.62 297.09h0.7M283.47 295.26h0.7M286.06 289.37h0.7M282.18 297.76h0.7M286.19 295.38h0.7M280.12 290.52h0.7M277.22 290.89h0.7M281.21 286.07h0.7M287.38 288.84h0.7M282.8 294.51h0.7M278.76 284.5h0.7M286.39 293.71h0.7M280.26 296.72h0.7M286.04 288.05h0.7M281.13 284.7h0.7M280.21 297.87h0.7M277.32 295.44h0.7M273.95 290.79h0.7M286.28 299.14h0.7M283.82 295.15h0.7M290.18 281.88h0.7M272.95 299.86h0.7M293.94 294.49h0.7M281.87 293.09h0.7M281.68 289.46h0.7M281.46 291.49h0.7M284.9 294.84h0.7M286.47 294.45h0.7M276.66 297.79h0.7M268.11 292.5h0.7M283.2 289.81h0.7M290.94 287.48h0.7M275.66 289.92h0.7M283.64 295.31h0.7M282.09 294.79h0.7M278.01 289.5h0.7M282.19 286.43h0.7M282.48 290.38h0.7M284.97 287.81h0.7M278.88 289.66h0.7M279.7 287.87h0.7M280.23 286.4h0.7M284.22 294.8h0.7M281.46 291.23h0.7M277.08 288.03h0.7M280.44 288.26h0.7M275.65 292.7h0.7M281.44 290.33h0.7M277.46 291.79h0.7M278.07 290.23h0.7M282.47 295h0.7M285.32 289.5h0.7M287.58 287.21h0.7M280.67 297.42h0.7M293.41 292.55h0.7M279.74 290.46h0.7M275.47 291.41h0.7M279.42 288.88h0.7M287.52 288.78h0.7M290 295.5h0.7M284.73 289.57h0.7M279 283.74h0.7M282.9 290.89h0.7M283.47 289.23h0.7M283.96 285.81h0.7M270.61 293.98h0.7M286.9 278.96h0.7M287.95 290.56h0.7M280.72 285.63h0.7M276.55 294.96h0.7M277.86 291.85h0.7M280.76 300.26h0.7M285.97 286.54h0.7M279.13 287.25h0.7M274.61 289.18h0.7M287.02 292.21h0.7M284.88 291.45h0.7M279.42 292.35h0.7M281.15 300h0.7M290.48 293.57h0.7M284.53 283.75h0.7M280.92 301.93h0.7M277.55 295.39h0.7M287.6 290.36h0.7M280.4 290.12h0.7M285.49 292.1h0.7M289.01 296.93h0.7M281.47 302.79h0.7M279.99 289.48h0.7M280.35 288.36h0.7" stroke="#000" stroke-width="0.7" fill="none" stroke-opacity="0.7"/>
<path d="M295.82 291.9h0.7M306.58 285.9h0.7M287.77 289.69h0.7M296.77 293.78h0.7M292.81 297.81h0.7M294.93 291.4h0.7M299.71 296.26h0.7M301.71 291.99h0.7M294.82 292.82h0.7M302.57 290.57h0.7M299.08 285.28h0.7M294.9 296.52h0.7M310.91 291.21h0.7M281.54 299.51h0.7M297.86 301.47h0.7M295.88 295.82h0.7M294.2 297.25h0.7M308.75 287.68h0.7M309.87 302h0.7M297.43 287.65h0.7M301.52 290.43h0.7M286.97 288.71h0.7M301.26 286.33h0.7M308.11 293.25h0.7M297.78 297.2h0.7M291.67 294.85h0.7M288.15 291.3h0.7M304.49 289.8h0.7M298.31 294.42h0.7M311.72 296.22h0.7M303.01 290.88h0.7M287.39 298.83h0.7M314.6 283.41h0.7M306.37 291.53h0.7M305.04 292.9h0.7M297.66 292.06h0.7M298.93 296.29h0.7M297.1 290.1h0.7M304.59 294.12h0.7M302.8 292.88h0.7M311.3 295.55h0.7M300.97 291.15h0.7M304.64 284.89h0.7M294.97 289.59h0.7M300.64 290.52h0.7M302.53 300.11h0.7M299.22 290.83h0.7M309.31 294.59h0.7M306.8 296.1h0.7M296.26 289.71h0.7M293.35 292.64h0.7M307.43 287.77h0.7M294.86 287.28h0.7M315.59 294.21h0.7M301.02 287.44h0.7M290.81 290h0.7M299.51 287.32h0.7M297.37 296.57h0.7M299.34 292.36h0.7M282.11 291.76h0.7M298.04 289.51h0.7M287.92 292.24h0.7M290.86 290.36h0.7M286.19 292.24h0.7M306.66 288.57h0.7M301.88 286.3h0.7M303.96 293.78h0.7M296.06 295.4h0.7M292.06 292.49h0.7M312.98 291.3h0.7M290.05 296.65h0.7M303.61 290.78h0.7M284.38 285.73h0.7M286.81 298.02h0.7M301.62 288.76h0.7M308.64 296.97h0.7M292.34 294.08h0.7M285.78 293.97h0.7M314.06 286.13h0.7M299.69 289.64h0.7M298.47 292.36h0.7M301.52 295.18h0.7M303.42 295.67h0.7M307.51 295.68h0.7M293.72 293.75h0.7M296.18 289.03h0.7M315.2 292.36h0.7M299.6 284.22h0.7M297.34 294.93h0.7M297.57 290.06h0.7M311.25 290.31h0.7M296.51 291.75h0.7M297.3 295.96h0.7M303.87 291.53h0.7M296.28 291.3h0.7M313.02 290.25h0.7M304.55 285.95h0.7M301.85 294.42h0.7M309.59 292.7h0.7M303.94 292.98h0.7M307.92 299.16h0.7M300.87 288.92h0.7M304.08 291.37h0.7M304.44 294.63h0.7M300.47 290.32h0.7M301.72 287.29h0.7M301.46 288.63h0.7M302.9 292.28h0.7M297.46 287.64h0.7M299.64 289.47h0.7M298.08 294.61h0.7M306.99 286.9h0.7M306.84 296.68h0.7M308.4 292.61h0.7M298.5 298.45h0.7M296.63 286.49h0.7M299.97 293.02h0.7M290.81 287.88h0.7M315.35 291.7h0.7M305.58 289.56h0.7M286.9 291.89h0.7M310.14 289.05h0.7M284.67 292.01h0.7M296.96 292.16h0.7M290.75 291.23h0.7M294.81 295.45h0.7M300.47 295.16h0.7M298.82 284.14h0.7M283.33 294.68h0.7M306.37 294.91h0.7M298.63 285.44h0.7M295.24 293.67h0.7M310.45 290.23h0.7M294.67 289.34h0.7M307.53 294.83h0.7M284.4 297.14h0.7M291.75 286.9h0.7M286.28 289.89h0.7M289.13 289.97h0.7M300.52 293.47h0.7M295.36 286.32h0.7M295.89 289.63h0.7M284.67 293.18h0.7M287.32 286.12h0.7M311.58 294.92h0.7M311.02 291.91h0.7M295.89 291.83h0.7M288.13 295.23h0.7M301.44 290.78h0.7M284.04 292.27h0.7M312.48 296.75h0.7M306.37 290.38h0.7M300.37 293.99h0.7M300.83 295.79h0.7M293.83 283.67h0.7M279.52 289.52h0.7M288 294.95h0.7M308 291.61h0.7M303.63 292.09h0.7M300.66 290.19h0.7M295.96 296.54h0.7M297.06 291.94h0.7M308.97 295.2h0.7M296.06 293.07h0.7M291.02 292.85h0.7M301.81 291.88h0.7M300.57 293.29h0.7M278.65 289.87h0.7M299.87 290.15h0.7M291.39 291.47h0.7M312.33 290.57h0.7M293.96 290.46h0.7M289.57 294.22h0.7M291.23 295.72h0.7M306.65 293.78h0.7M307.7 291.3h0.7M284.93 292.4h0.7M304.45 286.06h0.7M289.31 296.49h0.7M302.82 296.81h0.7M304.68 292h0.7M302.74 294.98h0.7M299.02 291.23h0.7M301.81 290.72h0.7M286.9 287.77h0.7M307.78 290.12h0.7M300.55 291.15h0.7M301.52 286.53h0.7M299.95 289.84h0.7M308.11 293.9h0.7M288.98 288.88h0.7M303.89 296.21h0.7M305.52 291.15h0.7M308.33 282.88h0.7M294.88 288.59h0.7M290.84 294.46h0.7M301.52 292.95h0.7M298.18 294.34h0.7M305.66 289.59h0.7M306.91 288.22h0.7M313.66 286.53h0.7M296.91 288.1h0.7M299.58 296.85h0.7M293.12 298.84h0.7M310.81 292.91h0.7M294.44 295.56h0.7M275.84 290.21h0.7M307.13 291.5h0.7M288.35 291.69h0.7M304.01 298.1h0.7M284.81 293.23h0.7M309.63 289.04h0.7M295.52 287.67h0.7M305.56 294.79h0.7M304.11 292.69h0.7M307.4 291.18h0.7M305.15 294.76h0.7M309.95 293.42h0.7M299.96 294.59h0.7M286.52 286.03h0.7M312.57 291.91h0.7M290.61 290.23h0.7M298.03 292.32h0.7M292.98 295.97h0.7M285.23 303.02h0.7M290.33 298.56h0.7M304.77 285.5h0.7M289.16 292.67h0.7M301.51 290.32h0.7M299.37 292.59h0.7M289.82 292.64h0.7M290.89 294.84h0.7M310.38 295.37h0.7M294.04 291.95h0.7M300.94 291.14h0.7M302.57 295.88h0.7M303.79 291.75h0.7M297.59 298.72h0.7M289.07 299.9h0.7M305.37 292.05h0.7M293.09 299.1h0.7M309.34 294.93h0.7M316.57 284.54h0.7M300.09 290.81h0.7M293.22 292.55h0.7M303.72 293.75h0.7M298.11 287.12h0.7M303.91 294.05h0.7M316.91 294.68h0.7M299.4 287.71h0.7M300.9 294.71h0.7M303.46 296.77h0.7M290.65 289.81h0.7M300.72 287.34h0.7M294.16 297.38h0.7M301.73 291.5h0.7M294.51 292.39h0.7M298.99 287.99h0.7M305.85 286.93h0.7M309.97 290.25h0.7M280.17 287.06h0.7M301.68 288.64h0.7M314.41 296.48h0.7M316.89 294.55h0.7M310.58 289.23h0.7M310.18 289.87h0.7M298.85 286.93h0.7M299.74 293.48h0.7M298.74 287.88h0.7M306.86 295.07h0.7M298.53 294.96h0.7M307.55 287.94h0.7M298.97 285.04h0.7M290.56 293.99h0.7M291.87 293.8h0.7M302.3 284.13h0.7M295.17 297.87h0.7M299.38 292.45h0.7M293.32 286.25h0.7M285.85 303.38h0.7M297.7 288.8h0.7M300.2 284.68h0.7M311.07 297.9h0.7M292.91 293.49h0.7M291.65 295.56h0.7M292.16 291.78h0.7M310.3 293.47h0.7M296.5 286.41h0.7M285.79 297.12h0.7M303.6 292.02h0.7M309.89 292.07h0.7M293.11 291.88h0.7M298.44 291.98h0.7M301.58 290.95h0.7M293.5 288.51h0.7M283.33 290.98h0.7M286.39 285.6h0.7M291.29 284.71h0.7M310.91 296.17h0.7M291.05 300.08h0.7M304.86 282.23h0.7M299.43 288.22h0.7M284.47 291.67h0.7M309.04 293.23h0.7M286.85 290.05h0.7M292.8 296.61h0.7M298.42 288.34h0.7M291.5 284.91h0.7M292.07 295.7h0.7M283 293.45h0.7M298.28 295.12h0.7M289.51 295.87h0.7M312.45 300.05h0.7M285.39 292.5h0.7M297.45 292.54h0.7M290.82 295.61h0.7M291.1 290.18h0.7M305.44 292.23h0.7M292.73 296.96h0.7M303.64 295.67h0.7M297.73 296.9h0.7M295.26 287.95h0.7M299.16 286.72h0.7M309.9 294.29h0.7M284.88 293.29h0.7M306.45 290.32h0.7M302.76 289.63h0.7M298.63 291.7h0.7M303.34 288.15h0.7M289.58 293.68h0.7M294.88 294.16h0.7M294.91 287.23h0.7M305.51 292.72h0.7M305.45 290.43h0.7M296.14 296.92h0.7M284.77 299.23h0.7M303.59 291.59h0.7M299.97 294.25h0.7M292.62 293.34h0.7M291.05 285.36h0.7M300.91 292.3h0.7M304.73 293.86h0.7M305.18 294.73h0.7M290.18 297.01h0.7M288.44 295.08h0.7M307.02 295.48h0.7M312.31 286.16h0.7M302.41 293.61h0.7M309.87 288.14h0.7M299.4 290.58h0.7M297.81 291.51h0.7M297.9 285.35h0.7M298.87 292.27h0.7M295.89 278.69h0.7M293.25 289.78h0.7M291.75 298.41h0.7M307.09 290.94h0.7M304.33 304.26h0.7M290.9 294.16h0.7M294.06 297.86h0.7M308.66 291.11h0.7M304.42 288.74h0.7M285.65 295.8h0.7M313.17 290.22h0.7M294.68 285.4h0.7M290.9 291.63h0.7M309.54 291.74h0.7M299.01 292.08h0.7M306.43 291.53h0.7M300.53 291.66h0.7M289.68 297.53h0.7M293.25 287.26h0.7M295.44 292.29h0.7M306.18 286.1h0.7M288.33 293.16h0.7M302.45 287.69h0.7M289.48 293.1h0.7M297.94 285.91h0.7M291.68 297.97h0.7M290.12 296.39h0.7M286.08 298.22h0.7M312.86 288.98h0.7M293.34 294.65h0.7M288.57 294.57h0.7M309.58 292.53h0.7M301.94 291.28h0.7M307.74 288.51h0.7M312.77 291.3h0.7M296.38 285.92h0.7M295.4 293.07h0.7M309.8 285.4h0.7M298.08 289.44h0.7M288.93 292.47h0.7M292.68 295.6h0.7M276.13 295.83h0.7M282.9 285.32h0.7M303.61 290.51h0.7M300.26 288.28h0.7M290.2 289.61h0.7M298.69 288.83h0.7M295.58 288.89h0.7M301.15 287.59h0.7M281.39 282.83h0.7M298.99 292.37h0.7M307.37 288.82h0.7M289.42 286.78h0.7M305.63 289.34h0.7M307.58 291.32h0.7M296.81 285.04h0.7M293.38 295.25h0.7M293.95 294.81h0.7M285.11 296.48h0.7M301.9 287.19h0.7M294.66 289.71h0.7M300.74 284.26h0.7M291.78 295.33h0.7M300.41 294.76h0.7M306.44 287.33h0.7M287.66 294.28h0.7M299.44 292.29h0.7M292.21 296.18h0.7M303.39 296.14h0.7M296.13 294.76h0.7M298.65 288.45h0.7M298.47 285.75h0.7M297.62 292.74h0.7M305.08 287.74h0.7M287.82 289.73h0.7M281.48 290.31h0.7M292.68 289.71h0.7M314.23 286.91h0.7M298.18 291.74h0.7M292.9 289.55h0.7M284.83 289.45h0.7M310.24 296.88h0.7M296.75 294.78h0.7M303.08 292.24h0.7M297.99 296.66h0.7M304 290.93h0.7M297.16 295.63h0.7" stroke="#000" stroke-width="0.7" fill="none" stroke-opacity="0.7"/>
<path d="M269.6 289.27h0.7M270.43 289.8h0.7M274.44 291.86h0.7M270.92 289.73h0.7M274.84 292.06h0.7M276.58 293.19h0.7M270.59 289.68h0.7M270.41 291.44h0.7M273.21 292.17h0.7M275.25 287.34h0.7M271.22 287.58h0.7M268.47 289.55h0.7M269.45 288.66h0.7M267.19 293.74h0.7M270.31 293.32h0.7M268.27 285.41h0.7M269.6 293.12h0.7M269.69 291.95h0.7M268.34 294.35h0.7M272.28 293.53h0.7M270.43 294.08h0.7M271.34 289.82h0.7M269.48 291.13h0.7M268.78 288.13h0.7M271.49 292.71h0.7M270.39 293.02h0.7M275.28 287.95h0.7M271.82 288.68h0.7M269.47 291.43h0.7M273.34 292.3h0.7M272.84 295.36h0.7M270.2 293.63h0.7M274.92 292.18h0.7M266.5 290.62h0.7M270.38 287.1h0.7M270.99 292.82h0.7M270.47 290.56h0.7M274.98 289.52h0.7M268.69 291.09h0.7M274.07 292.43h0.7M271.34 289.81h0.7M274.36 293.13h0.7M266.63 291.8h0.7M272.74 289.48h0.7M267.78 290.27h0.7M266.58 292.36h0.7M269.82 286.74h0.7M271.09 293.85h0.7M267.84 290.14h0.7M275.88 291.44h0.7" stroke="#000" stroke-width="0.7" fill="none" stroke-opacity="0.5"/>
<path d="M301.75 292.29h0.7M311.12 287.27h0.7M304.96 284.62h0.7M294.53 285.01h0.7M311.57 292.8h0.7M310.78 296.62h0.7M305.97 292.49h0.7M308.49 293.46h0.7M298.18 290.34h0.7M304.58 291.65h0.7M300.38 290.93h0.7M307.66 292.28h0.7M309.78 294.95h0.7M309.55 295.56h0.7M311.54 297.36h0.7M310.05 288.89h0.7M314.41 294.57h0.7M305.98 286.68h0.7M308.71 290h0.7M302.84 282.5h0.7M316.51 286.58h0.7M297.93 293.46h0.7M309.63 288.16h0.7M305.59 292.56h0.7M306.74 293.72h0.7M311.09 289.95h0.7M294.27 300.6h0.7M302.94 287.32h0.7M310.91 293.96h0.7M301.31 301.39h0.7M289.14 296.89h0.7M305.38 292.8h0.7M307.88 290.52h0.7M307.88 286.01h0.7M302.85 299.28h0.7M287.54 296.68h0.7M289.96 287.91h0.7M311.81 289.78h0.7M301.58 285.18h0.7M304.8 290.75h0.7M301.15 284.92h0.7M306.74 293.26h0.7M313.65 293.66h0.7M316.32 296.54h0.7M285.81 298.51h0.7M304.91 287.08h0.7M308.68 295.54h0.7M294.77 286.3h0.7M310.48 289.16h0.7M315.89 292.41h0.7M301.78 285.9h0.7M309.85 284.24h0.7M296.49 285.97h0.7M304.09 289.88h0.7M310.56 296.74h0.7M299.97 300.77h0.7M304.19 296.27h0.7M289.05 291.27h0.7M300.74 299.86h0.7M304.13 286.13h0.7M305.62 286.23h0.7M310.41 292.31h0.7M303.61 289.8h0.7M301.63 288.46h0.7M295.75 296.58h0.7M311.92 285.63h0.7M297.46 293.21h0.7M303.44 290.43h0.7M307.39 290.76h0.7M313.26 295.64h0.7M309.52 298.13h0.7M304.02 289.17h0.7M294.68 281.56h0.7M308.15 286.99h0.7M313.1 282.65h0.7M304.68 289.84h0.7M298.05 296.21h0.7M302.84 293.39h0.7M301.94 292.13h0.7M302.49 291.81h0.7M304.94 288.62h0.7M308.72 290.71h0.7M298.83 287.07h0.7M308.75 297.1h0.7M296.43 289.73h0.7M308.81 295.89h0.7M310.65 286.5h0.7M305.9 295.28h0.7M307.33 290.55h0.7M297.33 292.19h0.7" stroke="#000" stroke-width="0.7" fill="none" stroke-opacity="0.5"/>
</g></g>
<rect x="265" y="272.4" width="53.2" height="46.7" fill="none" stroke="#9a9a9a" stroke-width="0.8"/>
<rect x="289.6" y="272.3" width="26" height="30" fill="none" stroke="#1a1a1a" stroke-width="1.2"/>
<text x="306.6" y="314" font-size="8.6" text-anchor="middle" textLength="9" lengthAdjust="spacingAndGlyphs">32</text>
<g clip-path="url(#c6)">
<g filter="url(#bl)">
<rect x="330.8" y="287.6" width="14.8" height="8.4" fill="#000" fill-opacity="1"/>
<ellipse cx="338.1" cy="291.8" rx="9.5" ry="6" fill="#000" fill-opacity="1" transform="rotate(8 338.1 291.8)"/>
<ellipse cx="337.1" cy="292.3" rx="7.5" ry="5.2" fill="#000" fill-opacity="1" transform="rotate(8 337.1 292.3)"/>
<ellipse cx="350" cy="291.3" rx="6" ry="3.9" fill="#000" fill-opacity="0.75"/>
<ellipse cx="357" cy="291" rx="8" ry="3.2" fill="#000" fill-opacity="0.45"/>
<ellipse cx="364.5" cy="291" rx="6.5" ry="2.7" fill="#000" fill-opacity="0.25"/>
</g><g filter="url(#b2)">
<path d="M337.28 291.93h0.7M346.09 296.91h0.7M333.18 292.79h0.7M335.9 292.22h0.7M346.83 295.74h0.7M337.88 288.96h0.7M336.73 293.36h0.7M334.84 296.54h0.7M337.76 286.7h0.7M349.15 279.3h0.7M336.13 291.27h0.7M343.21 296.59h0.7M345.84 298.52h0.7M339.43 292.28h0.7M343.37 291.68h0.7M330.56 289.84h0.7M341.37 294.43h0.7M331.43 296.95h0.7M339.39 285.32h0.7M340.28 296.13h0.7M340.64 290.46h0.7M333.14 296.63h0.7M338.92 291.77h0.7M335.4 287.35h0.7M327.1 290.31h0.7M343.88 295.08h0.7M333.81 298.37h0.7M336.36 287.46h0.7M343.15 297.76h0.7M335.46 286.53h0.7M337.29 281.33h0.7M337.95 298.36h0.7M339.19 288.64h0.7M341.63 289.67h0.7M344.77 290.25h0.7M349.11 290.28h0.7M338.72 287.75h0.7M330.46 293.28h0.7M339.62 287.61h0.7M340.8 290.02h0.7M334.54 291.49h0.7M339.87 294.93h0.7M344.6 293.44h0.7M333.56 288.85h0.7M339.73 286.65h0.7M336.69 290.14h0.7M337.09 292.58h0.7M343.5 298.85h0.7M342.62 296.15h0.7M331.64 296.26h0.7M344.93 285.97h0.7M351.85 289.36h0.7M324.26 299.4h0.7M338.01 288.35h0.7M334.43 296.41h0.7M339.09 290.18h0.7M344.12 287.76h0.7M332.88 289.38h0.7M333.45 294.77h0.7M336.35 287.27h0.7M335.07 283.25h0.7M338.58 292.23h0.7M341.07 290.78h0.7M339.89 287.78h0.7M337.79 292.47h0.7M330.82 294.32h0.7M338.45 292.02h0.7M334.96 300.41h0.7M337.65 288.5h0.7M332.88 294.34h0.7M336.47 288.4h0.7M333.58 295.81h0.7M338.13 296.33h0.7M337.56 286.71h0.7M342.52 293.17h0.7M333.97 290.47h0.7M332.19 295.37h0.7M335.31 293.85h0.7M339.11 290.68h0.7M339.73 290.73h0.7M331.02 290.01h0.7M331.03 295.04h0.7M341.3 289.28h0.7M341.13 292.86h0.7M343.11 287.79h0.7M337.79 287.54h0.7M333.81 297.68h0.7M326.38 287.87h0.7M340.38 295.13h0.7M333.25 283.08h0.7M328.01 293.37h0.7M343.83 295.69h0.7M333.54 297.6h0.7M336.59 294.44h0.7M336.57 298.63h0.7M334.75 282.58h0.7M335.88 292.61h0.7M339.2 288.72h0.7M336.35 286.93h0.7M336.34 292.17h0.7M339 298.85h0.7M326.45 294.02h0.7M340.07 286.83h0.7M338.04 291.77h0.7M332.03 294.89h0.7M348.34 294.69h0.7M342 296.37h0.7M336.92 295.97h0.7M333.13 292.56h0.7M341.59 297.4h0.7M336.04 290.55h0.7M340.27 291.46h0.7M338.42 295.24h0.7M333.37 295.55h0.7M339.77 290.67h0.7M330.65 289.1h0.7M337.4 295.82h0.7M326.65 294.84h0.7M338.72 286.96h0.7M342.43 293.5h0.7M340.08 287.62h0.7M331.47 295.68h0.7M345.48 293.36h0.7M336.57 289.87h0.7M328.08 296h0.7M337.12 297.06h0.7M333.63 296.29h0.7M333.67 294.3h0.7M345.31 288.79h0.7M342.71 291.77h0.7M332.43 292.65h0.7M341.24 288.75h0.7M336.16 289.38h0.7M333.37 290.91h0.7M342.23 289.68h0.7M344.58 290.18h0.7M333.81 296.37h0.7M345.46 289.02h0.7M340.91 286.84h0.7M335.39 290.2h0.7M341.59 286.46h0.7M334.81 288.87h0.7M338.21 286.56h0.7M330.22 303.83h0.7M338.83 285.4h0.7M342.27 286.2h0.7M327.19 298.89h0.7M344.58 288.23h0.7M331.6 293.81h0.7M348.91 294.35h0.7M341.31 286.76h0.7M327.78 293.44h0.7M343.26 292.38h0.7M337.62 297.67h0.7M332.99 296.46h0.7M342.25 289.15h0.7M338.33 292.26h0.7M340.87 287.65h0.7M336.36 292.18h0.7M337.81 291.89h0.7M339.03 290.99h0.7M334.89 296.17h0.7M334.09 290.45h0.7M332.78 286.94h0.7M340.12 291.62h0.7M336.91 293.72h0.7M336.69 294.68h0.7M347.63 293.28h0.7M336.18 298.8h0.7M341.55 284.75h0.7M345 292.69h0.7M342.35 286.91h0.7M332.97 289.05h0.7M340.7 287.04h0.7M333.74 295.83h0.7M334.1 292.29h0.7M332.69 284.6h0.7M337.19 291.29h0.7M329.75 295.91h0.7M342.17 295.54h0.7M334.83 286.95h0.7M337.15 292.5h0.7M336.69 289.32h0.7M332.16 288.69h0.7M337.19 289.74h0.7M346.82 290.63h0.7M340.14 289.83h0.7M336.64 287.69h0.7M334.98 285.48h0.7M326.22 297.45h0.7M331.84 293.62h0.7M336.95 289.4h0.7M341.64 289.45h0.7M340.03 290.24h0.7M342.98 295.83h0.7M338 296.41h0.7M340.42 298.35h0.7M336.97 285.29h0.7M338.81 292.8h0.7M335.65 290.92h0.7M336.16 286.52h0.7M347.07 288.53h0.7M331.76 285.14h0.7M333.01 291.63h0.7M345.74 294.31h0.7M333.65 286.56h0.7M331.5 291.45h0.7M342.41 289.77h0.7M346.43 299.92h0.7M338.51 282.69h0.7M343.62 291.38h0.7M341.3 295.94h0.7M332.12 292.06h0.7M338.61 288.63h0.7M341.45 291.25h0.7M335.42 299.69h0.7M338.56 298.66h0.7M336.79 296.15h0.7M333.51 292.41h0.7M343.56 282.66h0.7M340.59 290.65h0.7M343.6 292.54h0.7M337.22 286.41h0.7M353.74 288.69h0.7M335.86 288.75h0.7M335.97 292.71h0.7M330.31 296.23h0.7M336.2 294.31h0.7M326.09 289.6h0.7M336 290.16h0.7M333.98 293.09h0.7M339.86 287.67h0.7M326.89 294.85h0.7M335.88 296.28h0.7M342.41 291.35h0.7M329.8 290.27h0.7M333.64 297h0.7M328.35 295.64h0.7M329.2 289.39h0.7M329.89 288.86h0.7M335.21 293.35h0.7M334.4 294.68h0.7M347.2 292.46h0.7M331.32 291.04h0.7M337.06 290.27h0.7M343.92 296.64h0.7M348.57 293.99h0.7M323.04 291.23h0.7M341.28 288.4h0.7M334.33 295.61h0.7M338.41 287.06h0.7M334.43 278.83h0.7M337.6 286.65h0.7M337.33 286.8h0.7M332.54 289.62h0.7M352.83 286.8h0.7M331.13 289.52h0.7M343.41 295.14h0.7M341.42 290.43h0.7M338.31 288.55h0.7" stroke="#000" stroke-width="0.7" fill="none" stroke-opacity="0.7"/>
<path d="M354.09 288.7h0.7M343.53 288.17h0.7M371.59 292.12h0.7M349.36 290.68h0.7M351.84 294.45h0.7M355.35 289.19h0.7M361.23 291.9h0.7M349.92 288.8h0.7M356.76 286.34h0.7M348 293.86h0.7M362.75 294.15h0.7M351.89 289.3h0.7M353.32 289.63h0.7M366.19 290.36h0.7M366.8 288.97h0.7M358.69 295.59h0.7M349.42 289.14h0.7M350.6 286.41h0.7M353.1 289.16h0.7M373.85 289.63h0.7M337.86 293.67h0.7M363.46 290.89h0.7M357.95 293.02h0.7M350.91 291.1h0.7M356.75 295.69h0.7M367.27 291.47h0.7M344.45 293.5h0.7M355.12 294.3h0.7M356 291.5h0.7M361 288.91h0.7M350.09 297.5h0.7M348.38 293.64h0.7M361.21 293.31h0.7M366.88 287.18h0.7M363.46 285.14h0.7M355.99 291.95h0.7M364.08 294.07h0.7M347.82 290.21h0.7M354.24 289.01h0.7M348.77 289.11h0.7M365.06 294.85h0.7M361.77 295.77h0.7M356.29 287.9h0.7M350.14 291.57h0.7M364.05 294.44h0.7M348.13 293.71h0.7M351.13 292.68h0.7M363.14 295.2h0.7M351.19 291.68h0.7M359.09 289.8h0.7M356.3 292.68h0.7M341.93 289.16h0.7M350.93 285.77h0.7M347.62 292.47h0.7M361.16 292.26h0.7M360.44 289.28h0.7M368.72 287.8h0.7M359.76 290.24h0.7M341.41 293.56h0.7M353.26 293.01h0.7M366.06 291.46h0.7M350.07 290.38h0.7M354.97 295.1h0.7M362.61 295.5h0.7M361.81 288.82h0.7M363.21 293.75h0.7M354.53 292.31h0.7M352.9 287.41h0.7M354.79 293.17h0.7M352.55 284.62h0.7M348.92 294.09h0.7M357.39 294.19h0.7M349.3 289.8h0.7M347.25 288.78h0.7M359.76 291.39h0.7M351.53 291.84h0.7M344.73 289.89h0.7M343.15 286.73h0.7M344.29 287.87h0.7M368.57 294.91h0.7M365.93 289.34h0.7M360.68 287.76h0.7M351.04 291.69h0.7M342.31 291.56h0.7M360.6 285.09h0.7M335.31 290.21h0.7M354.5 291.41h0.7M346.16 292.62h0.7M356.54 288.91h0.7M369.09 291.73h0.7M361.65 296.28h0.7M351.45 290.37h0.7M341.15 290.35h0.7M359.14 298.14h0.7M360.17 291.57h0.7M345.07 288.56h0.7M340.22 287.06h0.7M356.44 291.85h0.7M347.96 290.37h0.7M348.87 292.77h0.7M360.8 289.4h0.7M351.73 287.49h0.7M351.65 297.25h0.7M355.4 293.45h0.7M360.31 295.22h0.7M352.82 288.41h0.7M364.1 293.63h0.7M350.04 294.13h0.7M355.4 290.87h0.7M370.72 292.52h0.7M358.1 290.08h0.7M357.16 294.01h0.7M359.28 288.84h0.7M359.22 290.66h0.7M358.06 290.44h0.7M337.43 286.38h0.7M352.33 284.68h0.7M343.05 296.81h0.7M361.25 289.68h0.7M358.22 284.58h0.7M357.56 293.82h0.7M357.07 287.24h0.7M363.53 289.47h0.7M350.78 291.56h0.7M353 296.84h0.7M354.36 297.16h0.7M359.26 287.44h0.7M355.5 291.15h0.7M367.42 294.67h0.7M351.89 297.69h0.7M348.08 292.02h0.7M368.86 288.09h0.7M352.62 288.86h0.7M359.88 292.15h0.7M355.19 292.89h0.7M348.98 289.91h0.7M359.39 296.8h0.7M355.19 291.17h0.7M366.4 291.22h0.7M366.31 291.69h0.7M365.1 291.52h0.7M347.88 288.55h0.7M359.07 296.41h0.7M371 290.09h0.7M348.47 293.68h0.7M342.85 293.63h0.7M358.65 292.81h0.7M345.49 292.1h0.7M363.33 290.85h0.7M364.07 291.07h0.7M358.38 290.09h0.7M344.23 290.54h0.7M359.67 288.81h0.7M339.26 286.53h0.7M366.45 290.35h0.7M349.15 294.57h0.7M354.07 286.65h0.7M351.85 288.45h0.7M353.98 288.36h0.7M356.08 292.32h0.7M350.75 290.42h0.7M354.22 293.39h0.7M349.53 293.17h0.7M365.91 290.44h0.7M347.46 290.11h0.7M340.75 289.43h0.7M345.57 290.51h0.7M352.42 292.49h0.7M356.5 292.22h0.7M355.12 291.82h0.7M346.08 292.91h0.7M366.38 294.21h0.7M344.31 292.21h0.7M341.96 293.19h0.7M353.8 289.67h0.7M349.3 290.31h0.7M355.48 288.21h0.7M356.01 291.75h0.7M359.91 290.87h0.7M355.48 297.7h0.7M363.95 291.94h0.7M343.94 292.79h0.7M360.31 283.31h0.7M354.16 292.11h0.7M355.83 291.28h0.7M354.24 295.01h0.7M358.71 290.18h0.7M353.63 297.05h0.7M348.32 289.48h0.7M358.25 291.43h0.7M358.05 294.93h0.7M365.04 292.22h0.7M355.89 290.82h0.7M353.6 293.91h0.7M344.96 287.99h0.7M351.72 288.21h0.7M349.38 294.46h0.7M336.72 292.67h0.7M344.56 290.3h0.7M350.73 288.13h0.7M343.12 291.21h0.7M330.75 284.86h0.7M352.27 294.18h0.7M371.05 290.15h0.7M348.82 290.18h0.7M359.47 293.71h0.7M347.55 292.38h0.7M355.28 294.32h0.7M352.12 290.4h0.7M348.4 287.16h0.7M357.82 293.07h0.7M364.98 291.78h0.7M351.68 288.34h0.7M345.82 288.9h0.7M358.37 291.26h0.7M336.34 290.71h0.7M353.13 287.97h0.7M355.38 292.54h0.7M346.87 287.08h0.7M352.84 291.76h0.7M353.39 295.48h0.7M356.78 288.09h0.7M362.06 289.12h0.7M361.34 291.29h0.7M365.9 288.11h0.7M361.62 292.23h0.7M347.96 293.04h0.7M349.12 290.56h0.7M366.5 291.74h0.7M368 289.11h0.7M366.57 286.43h0.7M354.17 290.14h0.7M351.45 294.55h0.7M350.51 292.02h0.7M371.16 293.4h0.7M352.08 288.88h0.7M338.7 292.1h0.7M363.04 294.21h0.7M357.61 297.25h0.7M362.09 284.3h0.7M348.15 293.32h0.7M352.22 293.43h0.7M343.18 291.28h0.7M363.21 289.32h0.7M368.9 288.47h0.7M353.95 293.68h0.7M353.79 289.38h0.7M355.44 292.9h0.7M370.21 294.94h0.7M371.4 290.92h0.7M341.58 290.88h0.7M352.11 288.11h0.7M351.24 290.81h0.7M356.04 293.66h0.7M347.88 294.33h0.7M355.98 293.13h0.7M366.11 287.41h0.7M369.1 288.92h0.7M358.98 294.16h0.7M363.4 286.46h0.7M356.98 294.3h0.7M354.58 290.77h0.7M356.21 295.77h0.7M351.02 288.27h0.7M346.26 289.47h0.7M353.62 292.01h0.7M354.92 286.02h0.7M342.29 292.98h0.7M361.75 287.07h0.7M363.55 283.94h0.7M341.57 292.49h0.7M355.34 289.68h0.7M352.51 290.35h0.7M354.77 288.38h0.7M350.81 292.62h0.7M360.1 287.14h0.7M351.45 295.55h0.7M361.7 295.79h0.7M344.17 287.98h0.7M337.22 285.37h0.7M352.44 287.95h0.7M346.39 288.98h0.7M354.05 293.42h0.7M360.39 285.9h0.7M368.28 290.04h0.7M347.13 290.91h0.7M352.23 286.97h0.7M368.87 289.32h0.7M350.53 292.56h0.7M369.86 292.41h0.7M348 292.27h0.7M365.05 292.11h0.7M361.15 289.61h0.7M355.05 286.11h0.7M349.53 287.7h0.7M355.7 295.34h0.7M336.52 287.17h0.7M347.73 290.74h0.7M365.54 288.74h0.7M348.96 294.53h0.7M358.81 292.53h0.7M362.73 288.85h0.7M357.54 289.09h0.7M349.5 291.39h0.7M359.34 287.3h0.7M349.08 292.77h0.7M357.06 292.93h0.7M352.96 288.66h0.7M362.3 292.75h0.7M331.45 293.52h0.7M349.16 292.94h0.7M369.02 290.19h0.7M347.37 291.75h0.7M356.41 292.65h0.7M343.68 291.72h0.7M363.26 293.04h0.7M361 294.49h0.7M348.61 294.56h0.7M357.42 288.11h0.7M353.1 291.79h0.7M358.47 294.93h0.7M357.27 289.52h0.7M348.62 293.7h0.7M352.1 288.71h0.7M346.57 294.45h0.7M346.58 291.3h0.7M351.75 290.45h0.7M348.67 291.45h0.7M360.8 294.07h0.7M352.58 287.61h0.7" stroke="#000" stroke-width="0.7" fill="none" stroke-opacity="0.62"/>
<path d="M326.22 289.83h0.7M322.51 288.44h0.7M324.21 290.82h0.7M325.08 290.72h0.7M327.49 286.13h0.7M325.54 291.88h0.7M324.81 289.84h0.7M325.82 287.39h0.7M331.84 289.37h0.7M327.81 288.8h0.7M329.81 291.69h0.7M329.23 291.33h0.7M327.98 292.11h0.7M327.2 289.86h0.7M328.26 288h0.7M326.55 288.34h0.7M325.45 287.89h0.7M323.95 289.95h0.7M326.47 291.11h0.7M325.91 290.75h0.7M327.93 288.35h0.7M325.49 288.65h0.7M331.91 288.38h0.7M327.39 288.24h0.7M327.95 287.34h0.7M328.63 289.94h0.7M325.1 287.46h0.7M330.5 288.57h0.7M329.91 285.28h0.7M323.02 292.88h0.7M330.8 289.65h0.7M328.75 290.71h0.7M325.21 289.85h0.7M323.16 287.2h0.7M326.47 290.93h0.7M326.57 287.41h0.7M328.36 289.78h0.7M328.11 289.1h0.7M325.46 291.51h0.7M329.73 287.46h0.7M323.26 291.36h0.7M327.09 289.71h0.7M323.59 291.44h0.7M326.64 290.01h0.7M327.16 288.68h0.7M327.19 289.86h0.7M328.03 290.3h0.7M322.81 288.35h0.7M325.45 291.71h0.7M324.45 291.66h0.7" stroke="#000" stroke-width="0.7" fill="none" stroke-opacity="0.5"/>
<path d="M369.23 295.37h0.7M363.9 296.67h0.7M364.51 295.82h0.7M360.74 297.42h0.7M364.12 284.79h0.7M369.26 291.32h0.7M355.45 290.92h0.7M359.67 296.4h0.7M363.99 291.78h0.7M361.55 288.64h0.7M357.15 290.28h0.7M360.06 287.64h0.7M358.84 295.85h0.7M364.83 292.05h0.7M364.08 291.14h0.7M353.32 295.39h0.7M366.47 301.37h0.7M353.15 294.04h0.7M359.25 291h0.7M350.01 291.75h0.7M364.45 286h0.7M360.1 290.2h0.7M354.62 294.45h0.7M373.19 293.63h0.7M368.88 294.93h0.7M361.2 294.25h0.7M370.96 290.45h0.7M360.61 286.84h0.7M348.58 288.97h0.7M367.94 293.44h0.7M363.48 297.02h0.7M349.23 297.27h0.7M362.24 294.99h0.7M371.36 288.98h0.7M355.54 293.58h0.7M361.25 289.86h0.7M360.77 289.32h0.7M362.6 290.6h0.7M373.6 288.12h0.7M365.73 292.34h0.7M372.77 288.4h0.7M358.38 298.59h0.7M357.03 290.62h0.7M358.89 288.36h0.7M370.23 297.77h0.7M360.59 289.22h0.7M352.14 294.55h0.7M357.92 294.12h0.7M344.72 290.46h0.7M366.06 293.63h0.7M341.52 293.17h0.7M362.56 291.98h0.7M359.25 290.39h0.7M362.66 293.98h0.7M339.42 292.01h0.7M368.19 291.22h0.7M370.24 288.53h0.7M358.8 302.42h0.7M371.78 298.02h0.7M353.25 291.63h0.7" stroke="#000" stroke-width="0.7" fill="none" stroke-opacity="0.4"/>
</g></g>
<rect x="322.2" y="272.4" width="52.8" height="46.7" fill="none" stroke="#9a9a9a" stroke-width="0.8"/>
<rect x="347.3" y="272.3" width="25.2" height="30.2" fill="none" stroke="#1a1a1a" stroke-width="1.2"/>
<text x="357.4" y="314.2" font-size="8.6" text-anchor="middle" textLength="9" lengthAdjust="spacingAndGlyphs">20</text>
<g clip-path="url(#c7)">
<g filter="url(#bl)">
<rect x="267.8" y="358.8" width="16.6" height="8.4" fill="#000" fill-opacity="1"/>
<ellipse cx="276" cy="363" rx="10.4" ry="6" fill="#000" fill-opacity="1"/>
<ellipse cx="275" cy="363.5" rx="8.4" ry="5.2" fill="#000" fill-opacity="1"/>
<ellipse cx="289" cy="362.6" rx="5" ry="4.6" fill="#000" fill-opacity="0.75"/>
<ellipse cx="295" cy="362.6" rx="6" ry="3.6" fill="#000" fill-opacity="0.38"/>
<ellipse cx="301" cy="362.6" rx="5" ry="3" fill="#000" fill-opacity="0.18"/>
</g><g filter="url(#b2)">
<path d="M278.57 367.53h0.7M276.12 357.54h0.7M283.21 362.34h0.7M278.37 361.7h0.7M274.96 357.21h0.7M279.78 360.39h0.7M275.44 367.13h0.7M280.72 357.9h0.7M274.56 363.05h0.7M276.2 358.57h0.7M276.12 367.23h0.7M283.32 369.25h0.7M280.34 352.33h0.7M273.97 360.74h0.7M281.29 363.02h0.7M277.88 365.12h0.7M274.31 368.89h0.7M286.94 366.54h0.7M272.21 364.12h0.7M281.7 366.11h0.7M271.41 367.11h0.7M280.14 365.52h0.7M273.07 362.94h0.7M272.91 361.79h0.7M273.91 361.69h0.7M276.19 363.46h0.7M271.87 362.49h0.7M275.09 365.14h0.7M278.38 361.53h0.7M270.55 356.09h0.7M267.92 364.78h0.7M269.97 369.87h0.7M274.67 361.41h0.7M274.68 360.74h0.7M271.76 363.33h0.7M266.7 363.61h0.7M275.08 359.21h0.7M281.99 364.58h0.7M282.36 360.22h0.7M267.98 358.01h0.7M265.93 355.02h0.7M285.33 361.02h0.7M276.85 360.78h0.7M274.76 369.73h0.7M276.48 359.19h0.7M279.93 368.53h0.7M281.17 366.22h0.7M274.65 367.29h0.7M270.7 357.99h0.7M274.04 361.98h0.7M283.22 358.86h0.7M282.73 359.74h0.7M267.84 355.85h0.7M275.44 356.91h0.7M276.96 363.23h0.7M273.18 354.86h0.7M272.45 364.93h0.7M275.76 360.73h0.7M276.91 365.8h0.7M275.52 359.74h0.7M280.5 360.15h0.7M277.88 367.17h0.7M283.73 369.79h0.7M281.98 363.65h0.7M274.4 363.83h0.7M278.91 375.7h0.7M279.72 359.53h0.7M285.06 356.29h0.7M281.85 357.61h0.7M268.92 360.9h0.7M273.9 357.31h0.7M279.48 362.55h0.7M283.95 358.71h0.7M274.26 367.17h0.7M276.21 371.31h0.7M268.04 354.94h0.7M272.84 369.03h0.7M285.43 357.26h0.7M271.89 355.22h0.7M270.45 358.94h0.7M278.29 367.85h0.7M290.38 361.5h0.7M280.71 363.95h0.7M276.43 371.23h0.7M280 369.65h0.7M277.51 366.69h0.7M278.79 362.62h0.7M271.35 361.31h0.7M275.74 361.4h0.7M273.55 360.03h0.7M280.96 361.98h0.7M274.93 362.09h0.7M283.76 360.74h0.7M284.37 359.37h0.7M285.09 365.62h0.7M272.63 364.96h0.7M282.68 358.98h0.7M274.26 364.35h0.7M274.37 361.79h0.7M275.78 364.35h0.7M280.45 369.29h0.7M273.67 375.48h0.7M273.64 370.56h0.7M274.87 356.86h0.7M272.98 361.56h0.7M282.26 354.45h0.7M271.76 362.46h0.7M279.71 364.7h0.7M280.95 362.34h0.7M274.22 368.14h0.7M286.27 364.63h0.7M276.62 359.38h0.7M288.63 364.71h0.7M279.48 356.21h0.7M279.4 373.33h0.7M274.66 362.16h0.7M285.12 362.23h0.7M280.86 371.26h0.7M268.47 359.5h0.7M279.85 363.52h0.7M275.92 362.31h0.7M276.46 364.53h0.7M272.74 361.84h0.7M277.1 358.4h0.7M278.4 353.7h0.7M279.61 362.51h0.7M268.44 368.74h0.7M268.45 371.8h0.7M271.19 368.16h0.7M275.28 369.87h0.7M274.31 367.4h0.7M273.7 355.06h0.7M278.07 365.04h0.7M278.14 370.12h0.7M271.15 356.94h0.7M277.24 360.07h0.7M275.04 363.01h0.7M270.65 367.66h0.7M274.94 370.62h0.7M277.21 367.51h0.7M273.89 360.22h0.7M272.43 359.28h0.7M278.43 363.61h0.7M269.05 356.48h0.7M270.41 355.26h0.7M270.24 356.57h0.7M280.01 358.09h0.7M272.07 362.5h0.7M275.88 364.81h0.7M280.36 365.75h0.7M273.57 368.33h0.7M277.95 360.01h0.7M284.85 357.99h0.7M278.58 368.35h0.7M276.38 364.49h0.7M276.42 365.85h0.7M277.05 363.05h0.7M279.99 354.96h0.7M277.22 361.73h0.7M287.68 364.25h0.7M271.65 365.8h0.7M273.34 357.97h0.7M273.97 365.15h0.7M282.95 367.48h0.7M277.08 362.33h0.7M276.9 368.16h0.7M274.91 367.95h0.7M270.83 362.96h0.7M280.41 366h0.7M276.91 360.83h0.7M270.51 361.3h0.7M285.32 359.74h0.7M280.85 362.93h0.7M268.95 363.48h0.7M280.26 357.97h0.7M268.61 361.4h0.7M280.1 360.46h0.7M278.25 364.96h0.7M275.76 364.92h0.7M283.41 362.2h0.7M277.66 358.49h0.7M271.29 362.59h0.7M280.63 360.16h0.7M267.23 366.94h0.7M290.1 352.08h0.7M269.22 363.53h0.7M278.63 358.99h0.7M277.72 367.68h0.7M274.01 366.11h0.7M276.46 359.06h0.7M271.96 360.42h0.7M283.74 367.92h0.7M277.15 356.38h0.7M272.71 361.31h0.7M277.41 357.39h0.7M273.09 361.07h0.7M286.86 365.82h0.7M280.33 363.38h0.7M267.92 366.92h0.7M271.6 354.86h0.7M280.08 361.54h0.7M275.67 365.19h0.7M274.27 364.75h0.7M283.47 361.64h0.7M273.53 363.08h0.7M279.58 361.31h0.7M276.16 360.12h0.7M275.22 365.31h0.7M270.73 362.24h0.7M266.86 360.04h0.7M276.14 365.25h0.7M269.46 362.58h0.7M270.07 364.35h0.7M277.26 364.89h0.7M274.4 356.97h0.7M272.3 357.34h0.7M271.59 362.76h0.7M282.17 360.28h0.7M271.02 363.87h0.7M266.41 367.31h0.7M281.56 367.09h0.7M275.04 366.11h0.7M273.6 367.07h0.7M271.75 359.55h0.7M277.95 361.09h0.7M279.7 359.37h0.7M277.28 358.85h0.7M275.05 372.09h0.7M269.2 357.8h0.7M266.05 362.05h0.7M285.4 361.1h0.7M281.25 362.23h0.7M271.86 371.5h0.7M282.14 355.23h0.7M269.8 364.75h0.7M279.57 362.06h0.7M277.55 365.28h0.7M273.57 367.22h0.7M270.58 366.2h0.7M281.15 363.86h0.7M273.6 362.93h0.7M267.15 354.49h0.7M280.23 359.14h0.7M277.79 363.2h0.7M274.04 364.99h0.7M276.08 357.67h0.7M272.49 363.45h0.7M268.06 361.14h0.7M272.39 354.03h0.7M285.97 366.71h0.7M272.88 367.01h0.7M269.43 369.47h0.7M273.44 363.6h0.7M272.21 363.39h0.7M277.63 363.14h0.7M270.72 366.2h0.7M278.99 363.01h0.7M281.95 359.89h0.7M283.29 362.33h0.7M284.71 361.13h0.7" stroke="#000" stroke-width="0.7" fill="none" stroke-opacity="0.7"/>
<path d="M291.07 363.29h0.7M299.56 367.75h0.7M289.79 360.02h0.7M297.47 367h0.7M297.09 361.59h0.7M300.68 362.73h0.7M293.72 364.77h0.7M289.09 354.72h0.7M294.04 365.1h0.7M295.42 364.55h0.7M293.68 366.22h0.7M293.39 367.76h0.7M292.98 365.35h0.7M289.2 363.55h0.7M295.34 363.15h0.7M302.38 363.02h0.7M299.73 364h0.7M299.53 359.69h0.7M290.37 365.87h0.7M287.52 363.82h0.7M296.23 363.37h0.7M295.41 364.54h0.7M291.18 363.98h0.7M289.41 360.96h0.7M282.68 361.98h0.7M281.97 362.41h0.7M293.98 358.9h0.7M293.1 363.61h0.7M290.46 359.41h0.7M291.96 363.99h0.7M298.48 369.43h0.7M280.24 363.45h0.7M295.39 360.48h0.7M294.69 369.87h0.7M293.38 367.32h0.7M299.36 361.26h0.7M278.11 366.21h0.7M302.35 356.8h0.7M291.41 360.17h0.7M293.95 362.85h0.7M299.85 360.76h0.7M304.79 357.04h0.7M294.02 371.87h0.7M292.04 364.76h0.7M289.69 373.91h0.7M298.28 361.55h0.7M280.62 363.01h0.7M297.27 355.69h0.7M289.58 364.45h0.7M277.54 361.54h0.7M282.66 357.71h0.7M295.21 366.59h0.7M299.98 360.54h0.7M295.86 356.58h0.7M283.35 364.23h0.7M290.15 359.02h0.7M280.9 361.48h0.7M306.71 356.02h0.7M286.08 366.31h0.7M280.59 360.13h0.7M293.09 366.53h0.7M292.19 368.89h0.7M292.47 362.21h0.7M295.44 363.89h0.7M283.21 359.07h0.7M291.18 363.74h0.7M284.94 359.92h0.7M287.97 363.65h0.7M289.95 364.61h0.7M295.1 359.5h0.7M290.78 358.25h0.7M293.34 365.43h0.7M286.44 356.31h0.7M295.91 361.69h0.7M292.48 364.19h0.7M295.04 365.87h0.7M289.77 354.9h0.7M289.58 361.46h0.7M290.07 363.89h0.7M291.08 367.05h0.7M288.66 362.47h0.7M290.39 369.88h0.7M286.63 358.97h0.7M290.25 365.19h0.7M292.73 362h0.7M283.41 355.16h0.7M291.3 361.74h0.7M303.79 364.19h0.7M295.35 366.03h0.7M286.99 358.18h0.7M290.33 367.68h0.7M298.91 360.74h0.7M284.79 365.61h0.7M299.58 358.98h0.7M302.83 360.19h0.7M297.4 362.01h0.7M290.58 360.42h0.7M297.05 364.87h0.7M297.77 361.76h0.7M287.28 369.91h0.7M303.52 362.22h0.7M285.38 367.61h0.7M293.5 362.82h0.7M298.06 363.97h0.7M293.36 369.53h0.7M280.67 364.52h0.7M286.4 362.69h0.7M291.57 363.49h0.7M277.32 364.6h0.7M307.47 361.56h0.7M298.39 364.93h0.7M294.54 360.9h0.7M296.7 363.66h0.7M301.86 365.74h0.7M288.13 352.33h0.7M302.27 364.56h0.7M293.75 360.52h0.7M308.62 367.69h0.7M293.27 361.34h0.7M296.32 367.43h0.7M295.97 365.98h0.7M294.33 363.88h0.7M284.56 362.81h0.7M292.98 362.36h0.7M291.11 363.63h0.7M288.95 361.82h0.7M284.28 370.43h0.7M286.95 358.25h0.7M289.22 361.06h0.7M285.78 353.92h0.7M303.17 366.44h0.7M290.22 364.48h0.7M285.53 356.76h0.7M294.8 364.67h0.7M288.25 362.47h0.7M272.93 361.62h0.7M299.43 363.38h0.7M293.81 364.65h0.7M279.26 357.75h0.7M284.49 363.22h0.7M288.62 355.92h0.7M298.37 362.1h0.7M299.04 369.76h0.7M282.02 357.87h0.7M299.58 367.7h0.7M295.2 363.93h0.7M297.11 365.01h0.7M284.45 364.98h0.7M299.02 361.36h0.7M286.76 360.74h0.7M288.87 364.34h0.7M297.64 362.82h0.7M290.68 356.38h0.7M289.91 359.06h0.7M289.08 363.71h0.7M293.7 374.83h0.7M287.01 360.59h0.7M285.26 361.51h0.7M290.81 366.05h0.7M280.06 365.43h0.7M296.8 360.89h0.7M288.22 363.16h0.7M296.01 362.14h0.7M291.64 362.64h0.7M285.65 363.36h0.7M296.36 362.88h0.7M285.28 362.4h0.7M291.94 363.68h0.7M289.95 365.41h0.7M299.64 365.66h0.7M294.15 366.87h0.7M292.37 362.02h0.7M283.4 362.42h0.7M300.48 359.51h0.7M297.67 358.34h0.7M294.56 368.97h0.7M292.93 358.57h0.7M294.48 362.15h0.7M297.77 360.94h0.7M281.45 360.66h0.7M296.43 366.25h0.7M294.41 362.74h0.7M297.05 362.05h0.7M289.7 363.31h0.7M299.69 361.07h0.7M295.83 360.49h0.7M287.88 363.07h0.7M284.04 359.44h0.7M284.94 360.33h0.7M286.74 370.46h0.7M296.54 362.96h0.7M283.99 354.21h0.7M295.46 360.52h0.7M299.38 361.44h0.7M284.18 360.19h0.7M282.76 357.49h0.7M297.21 360.91h0.7M297.06 360.81h0.7M291.11 360.68h0.7M289.09 360.25h0.7M302.26 362.68h0.7M280.02 368.07h0.7M300.71 366.66h0.7M291.93 362.06h0.7M289.52 362.95h0.7M295.63 362.68h0.7M287.29 359.16h0.7M303.36 368.66h0.7M284.59 360.21h0.7M292.34 364.6h0.7M291.86 363.4h0.7M294.94 366.56h0.7M284.16 366.12h0.7M295.43 364.52h0.7M282.85 361.56h0.7M290.91 364.74h0.7M297.02 365.07h0.7M284.23 366.67h0.7M293.02 365.79h0.7M292.52 360.22h0.7M309.54 365.3h0.7M297.52 361.17h0.7M291.15 366.36h0.7M295.47 368.63h0.7M300.35 359.16h0.7M282.61 366.28h0.7M296.47 361.84h0.7M290.69 360.67h0.7M304.19 362.37h0.7M283.64 365.45h0.7M292.02 363.8h0.7M290.09 362.41h0.7M280.39 364.1h0.7M288.13 361.2h0.7M294.61 366.99h0.7M278.61 361.78h0.7M296.1 366.14h0.7M286.67 363.54h0.7M295.14 365.83h0.7M288.53 361.88h0.7M289.24 366.37h0.7M299.59 361.31h0.7M291.67 363.33h0.7M286.72 362.08h0.7M298.15 365.38h0.7M288.14 360.31h0.7M291.79 357.66h0.7M294.56 363.08h0.7M283.9 361.6h0.7M288.26 361.6h0.7M286.87 367.06h0.7M286.29 365.02h0.7M293.89 367.51h0.7M292.16 362.62h0.7M292.98 356.31h0.7M308.12 362.33h0.7M290.5 358.8h0.7M291.65 368h0.7M287.64 363.97h0.7M299.23 365.97h0.7M289.92 356.72h0.7M295.18 364.61h0.7M290.42 361.14h0.7M303.9 357.66h0.7M289.21 360.51h0.7M282.41 360.05h0.7M287.36 366.65h0.7M281.22 357.74h0.7M294.23 357.51h0.7M279.54 360.2h0.7M284.71 359.17h0.7M291.5 364.12h0.7M288.34 361.6h0.7M297.16 362.25h0.7M297.29 360.8h0.7M295.7 366.96h0.7M283.57 372.36h0.7M290.43 361.45h0.7M291.48 364.15h0.7M284.69 362.56h0.7" stroke="#000" stroke-width="0.7" fill="none" stroke-opacity="0.65"/>
<path d="M298.04 367.79h0.7M291.2 365.2h0.7M299.65 360.56h0.7M302.36 362.25h0.7M301.78 363.84h0.7M308.74 361.7h0.7M311.54 354.07h0.7M312.46 367.08h0.7M310.89 363.71h0.7M303.23 359.68h0.7M309.54 359.2h0.7M296.78 363.04h0.7M302.94 364.17h0.7M294.58 361.9h0.7M304.47 366.98h0.7M306.12 364.42h0.7M299.98 361.25h0.7M298.47 362.73h0.7M304.7 361.37h0.7M313.85 359.73h0.7M306.42 362.37h0.7M300.7 361.79h0.7M310.72 362.06h0.7M304.84 363.44h0.7M306.02 364.99h0.7M311.42 360.63h0.7M296.62 368.66h0.7M309.16 363.29h0.7M299.82 363.89h0.7M309.33 360.51h0.7M310.22 362.86h0.7M299.38 361.74h0.7M289.01 364.11h0.7M293.67 361.2h0.7M296.18 363.83h0.7M305.85 363.18h0.7M302.67 364.41h0.7M311.14 364.96h0.7M310.93 362.84h0.7M303.65 360.9h0.7M305.09 360.22h0.7M304.35 360.96h0.7M299.43 367.08h0.7M302.42 365.67h0.7M300.1 356.89h0.7M310.35 362.46h0.7M297.66 366.18h0.7M294.75 360.59h0.7M308.39 360.75h0.7M308.29 362.04h0.7" stroke="#000" stroke-width="0.7" fill="none" stroke-opacity="0.4"/>
</g></g>
<rect x="265" y="343.6" width="53.2" height="47" fill="none" stroke="#9a9a9a" stroke-width="0.8"/>
<rect x="286.3" y="343.7" width="30.4" height="29.8" fill="none" stroke="#1a1a1a" stroke-width="1.2"/>
<text x="301.4" y="387" font-size="8.6" text-anchor="middle" textLength="8.6" lengthAdjust="spacingAndGlyphs">10</text>
<g clip-path="url(#c8)">
<g filter="url(#bl)">
<rect x="325" y="358.8" width="16.2" height="8.6" fill="#000" fill-opacity="1"/>
<ellipse cx="333" cy="363.1" rx="10.2" ry="6.1" fill="#000" fill-opacity="1" transform="rotate(-5 333 363.1)"/>
<ellipse cx="332" cy="363.6" rx="8.2" ry="5.3" fill="#000" fill-opacity="1" transform="rotate(-5 332 363.6)"/>
<ellipse cx="345.5" cy="362.6" rx="4.6" ry="4.4" fill="#000" fill-opacity="0.6"/>
<ellipse cx="351" cy="362.4" rx="5.5" ry="3.4" fill="#000" fill-opacity="0.26"/>
<ellipse cx="357" cy="362.2" rx="5" ry="2.8" fill="#000" fill-opacity="0.1"/>
</g><g filter="url(#b2)">
<path d="M331.29 363.44h0.7M329.59 367.44h0.7M339.02 363.43h0.7M336.14 365.32h0.7M342.49 356.83h0.7M338.6 366.81h0.7M330.69 363.22h0.7M330.5 368.1h0.7M325.77 365.59h0.7M340.14 365.45h0.7M329.71 361.33h0.7M339.02 359.39h0.7M322.85 362.18h0.7M323.74 365h0.7M327.38 366.96h0.7M331.85 357.51h0.7M327.98 360.59h0.7M327.55 368.1h0.7M326.61 364.62h0.7M329.09 365.52h0.7M324.09 356.92h0.7M335.57 368.87h0.7M324.36 361.92h0.7M329.54 359.44h0.7M338.28 363.36h0.7M324.36 362.31h0.7M340.44 360.35h0.7M329.5 359.87h0.7M333.51 360.96h0.7M337.82 359.86h0.7M323.92 364.97h0.7M334.21 364.16h0.7M329.13 361.4h0.7M335.64 378.03h0.7M327.79 362.46h0.7M329.85 365.37h0.7M332.61 365.38h0.7M342.22 362.08h0.7M330.84 364.67h0.7M344.97 361.74h0.7M342.55 367.9h0.7M326.74 364.76h0.7M340.42 363.39h0.7M333.52 371.82h0.7M334.66 371.75h0.7M327.26 369.74h0.7M329.56 353.5h0.7M327.65 361.28h0.7M332.3 366.19h0.7M336.64 365.26h0.7M328.13 370.29h0.7M339.65 363.32h0.7M329.17 362.98h0.7M331.24 360.39h0.7M332.49 360.52h0.7M336.36 360.57h0.7M335.46 364.45h0.7M333.55 365.26h0.7M326.48 373.45h0.7M328.46 366.1h0.7M332.69 361.44h0.7M342.87 367.57h0.7M330.94 365.42h0.7M336.62 369.49h0.7M338.58 362.5h0.7M331.07 358.52h0.7M334.13 366.63h0.7M330.26 365.82h0.7M333.35 361.32h0.7M325.34 367.62h0.7M347.6 365.35h0.7M326.18 359.03h0.7M334.07 365.77h0.7M341.58 353.51h0.7M343.55 363.83h0.7M333.38 364.71h0.7M330.47 362.02h0.7M338.83 356.23h0.7M331.9 365.41h0.7M322.81 362.52h0.7M341.66 364.66h0.7M336.78 365.99h0.7M333.89 364.6h0.7M327.76 362.32h0.7M343.55 358.24h0.7M331.59 358.09h0.7M329.42 360.07h0.7M325.31 364.13h0.7M326.99 365.28h0.7M343.31 352.91h0.7M331.61 354.76h0.7M331.86 364.67h0.7M333.84 368.01h0.7M333.54 356.24h0.7M341.53 359.36h0.7M332.05 364.46h0.7M327.37 363.52h0.7M341.47 356.39h0.7M322.71 361.36h0.7M331.61 358.03h0.7M334.92 357.83h0.7M336.01 362.9h0.7M333.56 357.79h0.7M331.31 365.09h0.7M338.36 371.19h0.7M336.54 362.87h0.7M326.18 361.52h0.7M331.12 364.93h0.7M331.1 373.13h0.7M340.47 354.31h0.7M325.67 363.15h0.7M338.45 364.79h0.7M340.63 365.54h0.7M347.83 366.38h0.7M335.37 369.32h0.7M329.97 360.95h0.7M326.6 364.16h0.7M335.23 366.93h0.7M341.23 365.67h0.7M339.95 362.15h0.7M326.89 366.1h0.7M338.65 368.56h0.7M331.64 361.25h0.7M330.46 364.6h0.7M332.34 362.4h0.7M334.14 361.97h0.7M334.63 360.72h0.7M323.44 361.89h0.7M343.87 359.86h0.7M338.07 368.59h0.7M329.4 364.19h0.7M341.78 363.9h0.7M328.21 363.6h0.7M334.34 361.47h0.7M330.79 359.83h0.7M336.05 363.95h0.7M334.69 361.1h0.7M335.57 361.93h0.7M334.4 362.49h0.7M328.69 358.69h0.7M335.38 376.37h0.7M322.87 359.83h0.7M332.58 377.63h0.7M331.42 358.4h0.7M335.13 371.61h0.7M340.01 358.41h0.7M332.02 360.57h0.7M337.18 357.22h0.7M334.49 364.02h0.7M336 364.87h0.7M333.56 355.9h0.7M330.72 359.28h0.7M335.8 362.18h0.7M333.55 367.62h0.7M332 369.99h0.7M337.61 357.08h0.7M329.17 368.09h0.7M329.67 368h0.7M329.3 362.63h0.7M338.76 356.7h0.7M333.1 361.27h0.7M333.65 370.11h0.7M335.56 357.61h0.7M338.36 361.28h0.7M333.63 367.85h0.7M330.8 367.03h0.7M333.71 359.43h0.7M330.81 357.58h0.7M339.68 363.79h0.7M338.4 358.57h0.7M337.68 358.24h0.7M334.32 363.06h0.7M329.14 364.37h0.7M332.85 359.57h0.7M328.23 357.78h0.7M340.8 363.73h0.7M330.49 365.94h0.7M327.53 358.36h0.7M334.76 369.6h0.7M334.43 363.75h0.7M343.02 356.79h0.7M350.83 358.61h0.7M332.21 357.62h0.7M325.43 362.13h0.7M347.17 359.26h0.7M328.98 364.21h0.7M326.6 362.06h0.7M337.51 354.18h0.7M330.86 361.9h0.7M329.61 362.62h0.7M329.55 358.89h0.7M340.15 371.3h0.7M337.4 359.56h0.7M341.09 365.15h0.7M327.8 365.58h0.7M329.21 365.45h0.7M338.12 367.84h0.7M326.39 362.58h0.7M332.67 358.1h0.7M335.12 365.94h0.7M324.44 360.84h0.7M326.08 357.88h0.7M326.31 368.74h0.7M328.71 361.48h0.7M338.52 367.31h0.7M341 354.59h0.7M337.14 355.9h0.7M328.89 361.4h0.7M329.26 371.17h0.7M331.66 367.92h0.7M331.58 362.86h0.7M335.68 364.92h0.7M335.62 355.98h0.7M335.66 364.42h0.7M336.21 362.89h0.7M335.08 357.75h0.7M339.38 358.12h0.7M340.98 367.26h0.7M332.28 361.89h0.7M337.26 361.85h0.7M325.59 364.25h0.7M325.4 361.23h0.7M343.31 366.43h0.7M329.98 362.82h0.7M328.8 363.06h0.7M324.05 365.91h0.7M332.73 360.59h0.7M328.99 373.92h0.7M330.02 361.14h0.7M329.19 361.07h0.7M340.42 365.89h0.7M335.14 364.61h0.7M325.9 353.17h0.7M341.61 366.05h0.7M333.94 364.25h0.7M333.84 363.19h0.7M331.1 353.93h0.7M336.03 363.3h0.7M338.45 364.37h0.7M330.95 365.59h0.7M333.76 361.28h0.7M330.42 361.36h0.7M330.88 361.27h0.7M338.48 375.12h0.7M331.98 367.71h0.7M329.84 362.46h0.7M328.25 357.5h0.7M327.6 360.99h0.7M333.56 361.72h0.7M325.53 361.58h0.7M341.63 359.47h0.7M333.04 367.25h0.7M327.87 360.75h0.7M349.84 368.2h0.7M329.52 363.76h0.7M333.25 363.71h0.7M335.41 361.87h0.7M333.55 357.47h0.7M330.73 369.29h0.7M334.06 360.4h0.7" stroke="#000" stroke-width="0.7" fill="none" stroke-opacity="0.7"/>
<path d="M349.41 365.89h0.7M339.23 357.98h0.7M345.01 360.84h0.7M348.17 360.47h0.7M349.24 362.71h0.7M342.24 360.14h0.7M341.83 363.14h0.7M350.09 364.6h0.7M343.84 360.49h0.7M336.45 362.06h0.7M339.76 363.27h0.7M354.58 364.05h0.7M352.1 363.26h0.7M350.69 365.56h0.7M355.59 369.28h0.7M347.19 365.1h0.7M353.41 363.95h0.7M350.12 358.27h0.7M354.63 359.67h0.7M345.06 359.47h0.7M351.72 359.3h0.7M351.16 364.34h0.7M349.21 361.3h0.7M351.92 366.82h0.7M346.11 358.86h0.7M345.35 359.4h0.7M347.34 361.85h0.7M336.01 366.82h0.7M344.18 360.85h0.7M337.9 355.57h0.7M343.08 362.98h0.7M353.31 356.58h0.7M349.87 367.43h0.7M347.1 365.38h0.7M350.36 359.41h0.7M354.1 360.56h0.7M350.59 361.14h0.7M347.46 362.87h0.7M355.9 357.08h0.7M342.52 362.55h0.7M353.99 361.95h0.7M347.62 364.1h0.7M357.3 359.69h0.7M339.88 361.2h0.7M352.85 358.2h0.7M354.83 365.68h0.7M352.98 359.75h0.7M341.55 364.34h0.7M350.08 364.7h0.7M341.25 352.44h0.7M354.79 365.88h0.7M347.13 362.33h0.7M351.13 364.94h0.7M347.61 360.67h0.7M343.29 365.61h0.7M349.19 351.2h0.7M350.53 360.57h0.7M341.66 360.5h0.7M341.63 360.7h0.7M345.64 363.99h0.7M343.09 356.24h0.7M345.32 357.77h0.7M352.71 361.84h0.7M339.47 359.23h0.7M348.49 362.26h0.7M338.54 361.66h0.7M350.27 365.7h0.7M354.67 362.18h0.7M341.5 360.95h0.7M352.21 359.48h0.7M355.56 359.45h0.7M342.46 364.93h0.7M348.09 363.44h0.7M346.97 362.44h0.7M345.44 368.53h0.7M352.24 362.1h0.7M351.24 365.22h0.7M345.75 362.88h0.7M349.77 360.57h0.7M344.4 361.61h0.7M347 361h0.7M337.98 362.32h0.7M352.24 362.74h0.7M358.05 365.52h0.7M346.69 360.12h0.7M351.39 361.25h0.7M339.77 362.52h0.7M347.02 361.61h0.7M352.01 363.14h0.7M359.75 360.31h0.7M348.11 363.39h0.7M346.23 360.63h0.7M358.24 357.92h0.7M350.55 356.7h0.7M350.5 356.15h0.7M342.25 365.93h0.7M357.09 363.08h0.7M333.74 365.26h0.7M349.98 358.8h0.7M346.7 358h0.7M348.13 362.09h0.7M349.32 365.01h0.7M345.11 355.05h0.7M342.24 358.07h0.7M346.62 360.9h0.7M348.41 366.87h0.7M348.79 358.87h0.7M346.97 359.47h0.7M347.32 364.26h0.7M342.44 364.51h0.7M358.43 367.69h0.7M357.55 362.96h0.7M341.24 368.74h0.7M348.36 363.14h0.7M346.69 359.26h0.7M352.03 357.93h0.7M341.11 363.97h0.7M346.59 359.58h0.7M351.37 367.13h0.7M347.09 361.91h0.7M351.72 365.56h0.7M354.31 364.79h0.7M345.01 364.03h0.7M348.69 356.84h0.7M355.42 364.48h0.7M356.15 362.42h0.7M352.63 362.29h0.7M349.54 365.4h0.7M348.97 364.4h0.7M348.46 366.4h0.7M352.22 357.1h0.7M357.74 364.11h0.7M345.85 360.28h0.7M359.54 363.03h0.7M351.44 364.43h0.7M345.38 368.01h0.7M360.16 360.21h0.7M354.87 357.27h0.7M346.81 362.54h0.7M348.94 364.27h0.7M350.86 363.68h0.7M347.91 363.37h0.7M345.61 368.72h0.7M348.99 366.45h0.7M349.23 361.93h0.7M347.66 358.16h0.7M360.01 364.1h0.7M349.37 360.91h0.7M355.65 361.54h0.7M346.14 360.56h0.7M357.09 363.68h0.7M347.85 360.28h0.7M355.68 363.56h0.7M346.85 365.26h0.7M353.45 359.32h0.7M354.94 366.15h0.7M347.34 358.04h0.7M354.64 361.47h0.7M347.55 361.44h0.7M347.19 365.08h0.7M342.7 363.95h0.7M354.98 366.03h0.7M352.6 363.39h0.7M347.6 361.98h0.7M343.89 367.69h0.7M348.03 359.11h0.7M353.21 367.45h0.7M350.19 361.42h0.7M342.61 364.31h0.7M347.36 360.22h0.7" stroke="#000" stroke-width="0.7" fill="none" stroke-opacity="0.55"/>
<path d="M360.25 358.56h0.7M361.05 355.08h0.7M353.02 358.14h0.7M355.24 364.94h0.7M348.97 366.66h0.7M352.66 361.03h0.7M362.57 360.28h0.7M365.3 361.88h0.7M356.13 359.57h0.7M363.5 362.31h0.7M353.84 359.61h0.7M352.95 362.21h0.7M352.45 364.93h0.7M356.49 360.62h0.7M359.43 366.85h0.7M344.42 363.6h0.7M363.09 362.92h0.7M361.57 357.82h0.7M352.3 365.58h0.7M356.17 362.69h0.7M360.42 363.62h0.7M359.37 361h0.7M354.96 366.49h0.7M353.82 358.13h0.7M354.66 365.22h0.7M367.29 362.96h0.7M353.08 364.35h0.7M358.51 366.1h0.7M359.79 364.8h0.7M359.73 363.78h0.7" stroke="#000" stroke-width="0.7" fill="none" stroke-opacity="0.35"/>
</g></g>
<rect x="322.2" y="343.8" width="52.2" height="47" fill="none" stroke="#9a9a9a" stroke-width="0.8"/>
<rect x="342.5" y="343.9" width="31.7" height="29.9" fill="none" stroke="#1a1a1a" stroke-width="1.2"/>
<text x="359.2" y="387.2" font-size="8.6" text-anchor="middle" textLength="4.6" lengthAdjust="spacingAndGlyphs">6</text>
<text x="452.8" y="250" font-size="10.4" text-anchor="middle" textLength="26" lengthAdjust="spacingAndGlyphs">IFN-γ</text>
<text x="452.8" y="332.8" font-size="10.2" text-anchor="middle" textLength="26.5" lengthAdjust="spacingAndGlyphs">TNF-α</text>
<text transform="translate(394 323.8) rotate(-90)" font-size="10.4" text-anchor="middle" textLength="51.6" lengthAdjust="spacingAndGlyphs">Percent cells</text>
<line x1="415.5" y1="256.2" x2="415.5" y2="310" stroke="#111" stroke-width="1.55"/>
<line x1="412.1" y1="258.5" x2="415.5" y2="258.5" stroke="#111" stroke-width="1.15"/>
<text x="408.6" y="261.67" font-size="8.8" text-anchor="end" textLength="8.51" lengthAdjust="spacingAndGlyphs">40</text>
<line x1="412.1" y1="271.5" x2="415.5" y2="271.5" stroke="#111" stroke-width="1.15"/>
<text x="408.6" y="274.67" font-size="8.8" text-anchor="end" textLength="8.51" lengthAdjust="spacingAndGlyphs">30</text>
<line x1="412.1" y1="284.3" x2="415.5" y2="284.3" stroke="#111" stroke-width="1.15"/>
<text x="408.6" y="287.47" font-size="8.8" text-anchor="end" textLength="8.51" lengthAdjust="spacingAndGlyphs">20</text>
<line x1="412.1" y1="297.3" x2="415.5" y2="297.3" stroke="#111" stroke-width="1.15"/>
<text x="408.6" y="300.47" font-size="8.8" text-anchor="end" textLength="8.51" lengthAdjust="spacingAndGlyphs">10</text>
<line x1="412.1" y1="310" x2="415.5" y2="310" stroke="#111" stroke-width="1.15"/>
<text x="408.6" y="313.17" font-size="8.8" text-anchor="end" textLength="4.26" lengthAdjust="spacingAndGlyphs">0</text>
<line x1="414.73" y1="310" x2="488.7" y2="310" stroke="#111" stroke-width="1.55"/>
<line x1="434.6" y1="310" x2="434.6" y2="313" stroke="#111" stroke-width="1.1"/>
<line x1="470.4" y1="310" x2="470.4" y2="313" stroke="#111" stroke-width="1.1"/>
<rect x="429.1" y="267.5" width="4.2" height="4.2" fill="#fff" stroke="#B8082F" stroke-width="1.1"/>
<rect x="435.5" y="266.4" width="4.2" height="4.2" fill="#fff" stroke="#B8082F" stroke-width="1.1"/>
<rect x="438.5" y="267.9" width="4.2" height="4.2" fill="#fff" stroke="#B8082F" stroke-width="1.1"/>
<rect x="426.1" y="270.3" width="4.2" height="4.2" fill="#fff" stroke="#B8082F" stroke-width="1.1"/>
<rect x="432.1" y="272.6" width="4.2" height="4.2" fill="#fff" stroke="#B8082F" stroke-width="1.1"/>
<rect x="432.5" y="281.4" width="4.2" height="4.2" fill="#fff" stroke="#B8082F" stroke-width="1.1"/>
<line x1="423" y1="272.6" x2="446.2" y2="272.6" stroke="#111" stroke-width="1.2"/>
<line x1="434.6" y1="269.7" x2="434.6" y2="275.5" stroke="#111" stroke-width="0.9"/>
<line x1="428.6" y1="269.7" x2="440.6" y2="269.7" stroke="#111" stroke-width="1"/>
<line x1="428.6" y1="275.5" x2="440.6" y2="275.5" stroke="#111" stroke-width="1"/>
<rect x="467.9" y="274" width="5" height="5" fill="#2F4E86"/>
<rect x="461.7" y="278" width="5" height="5" fill="#2F4E86"/>
<rect x="462.1" y="283.3" width="5" height="5" fill="#2F4E86"/>
<rect x="468.4" y="282.1" width="5" height="5" fill="#2F4E86"/>
<rect x="471.4" y="285.1" width="5" height="5" fill="#2F4E86"/>
<rect x="467.9" y="288.6" width="5" height="5" fill="#2F4E86"/>
<rect x="474.1" y="288.6" width="5" height="5" fill="#2F4E86"/>
<line x1="458.8" y1="284.8" x2="482.4" y2="284.8" stroke="#111" stroke-width="1.2"/>
<line x1="470.6" y1="282.2" x2="470.6" y2="287.4" stroke="#111" stroke-width="0.9"/>
<line x1="464.6" y1="282.2" x2="476.6" y2="282.2" stroke="#111" stroke-width="1"/>
<line x1="464.6" y1="287.4" x2="476.6" y2="287.4" stroke="#111" stroke-width="1"/>
<text x="470.4" y="268.75" font-size="9.5" text-anchor="middle" font-weight="bold">**</text>
<line x1="415.5" y1="339.6" x2="415.5" y2="393.8" stroke="#111" stroke-width="1.55"/>
<line x1="412.1" y1="342.4" x2="415.5" y2="342.4" stroke="#111" stroke-width="1.15"/>
<text x="408.6" y="345.57" font-size="8.8" text-anchor="end" textLength="8.51" lengthAdjust="spacingAndGlyphs">15</text>
<line x1="412.1" y1="359.2" x2="415.5" y2="359.2" stroke="#111" stroke-width="1.15"/>
<text x="408.6" y="362.37" font-size="8.8" text-anchor="end" textLength="8.51" lengthAdjust="spacingAndGlyphs">10</text>
<line x1="412.1" y1="376.5" x2="415.5" y2="376.5" stroke="#111" stroke-width="1.15"/>
<text x="408.6" y="379.67" font-size="8.8" text-anchor="end" textLength="4.26" lengthAdjust="spacingAndGlyphs">5</text>
<line x1="412.1" y1="393.8" x2="415.5" y2="393.8" stroke="#111" stroke-width="1.15"/>
<text x="408.6" y="396.97" font-size="8.8" text-anchor="end" textLength="4.26" lengthAdjust="spacingAndGlyphs">0</text>
<line x1="414.73" y1="393.8" x2="488.7" y2="393.8" stroke="#111" stroke-width="1.55"/>
<line x1="434.2" y1="393.8" x2="434.2" y2="396.8" stroke="#111" stroke-width="1.1"/>
<line x1="470.4" y1="393.8" x2="470.4" y2="396.8" stroke="#111" stroke-width="1.1"/>
<rect x="426.1" y="347.9" width="4.2" height="4.2" fill="#fff" stroke="#B8082F" stroke-width="1.1"/>
<rect x="432.1" y="348.4" width="4.2" height="4.2" fill="#fff" stroke="#B8082F" stroke-width="1.1"/>
<rect x="438.3" y="346.3" width="4.2" height="4.2" fill="#fff" stroke="#B8082F" stroke-width="1.1"/>
<rect x="426.1" y="358.3" width="4.2" height="4.2" fill="#fff" stroke="#B8082F" stroke-width="1.1"/>
<rect x="432.1" y="359" width="4.2" height="4.2" fill="#fff" stroke="#B8082F" stroke-width="1.1"/>
<rect x="438.3" y="358.3" width="4.2" height="4.2" fill="#fff" stroke="#B8082F" stroke-width="1.1"/>
<line x1="422.4" y1="355.1" x2="446.6" y2="355.1" stroke="#111" stroke-width="1.2"/>
<line x1="434.5" y1="352.8" x2="434.5" y2="357.4" stroke="#111" stroke-width="0.9"/>
<line x1="428.5" y1="352.8" x2="440.5" y2="352.8" stroke="#111" stroke-width="1"/>
<line x1="428.5" y1="357.4" x2="440.5" y2="357.4" stroke="#111" stroke-width="1"/>
<rect x="461.7" y="353.3" width="5" height="5" fill="#2F4E86"/>
<rect x="467.9" y="355.6" width="5" height="5" fill="#2F4E86"/>
<rect x="461.7" y="365.3" width="5" height="5" fill="#2F4E86"/>
<rect x="465.1" y="363.7" width="5" height="5" fill="#2F4E86"/>
<rect x="471.4" y="365.3" width="5" height="5" fill="#2F4E86"/>
<rect x="474.1" y="367.1" width="5" height="5" fill="#2F4E86"/>
<rect x="467.9" y="369" width="5" height="5" fill="#2F4E86"/>
<line x1="458.8" y1="365.5" x2="483.1" y2="365.5" stroke="#111" stroke-width="1.2"/>
<line x1="470.95" y1="362.9" x2="470.95" y2="368.1" stroke="#111" stroke-width="0.9"/>
<line x1="464.95" y1="362.9" x2="476.95" y2="362.9" stroke="#111" stroke-width="1"/>
<line x1="464.95" y1="368.1" x2="476.95" y2="368.1" stroke="#111" stroke-width="1"/>
<text x="470.4" y="351.45" font-size="9.5" text-anchor="middle" font-weight="bold">*</text>
<text x="434.2" y="408.3" font-size="8.8" text-anchor="middle" textLength="15.5" lengthAdjust="spacingAndGlyphs">Con</text>
<text x="470.4" y="408.3" font-size="8.8" text-anchor="middle" textLength="32.3" lengthAdjust="spacingAndGlyphs">AUY922</text>
<text x="96.2" y="464.9" font-size="10.2" text-anchor="middle" textLength="21.5" lengthAdjust="spacingAndGlyphs">Liver</text>
<line x1="50.2" y1="470.8" x2="141.1" y2="470.8" stroke="#111" stroke-width="1.4"/>
<text x="62.9" y="481.6" font-size="8.4" text-anchor="middle" textLength="14.8" lengthAdjust="spacingAndGlyphs">Con</text>
<text x="119" y="481.8" font-size="8.2" text-anchor="middle" textLength="30.5" lengthAdjust="spacingAndGlyphs">AUY922</text>
<text transform="translate(30.2 510.8) rotate(-90)" font-size="10.4" text-anchor="middle" textLength="17.5" lengthAdjust="spacingAndGlyphs">CD8</text>
<text transform="translate(30.2 587.1) rotate(-90)" font-size="10.4" text-anchor="middle" textLength="17.5" lengthAdjust="spacingAndGlyphs">CD8</text>
<text x="90.8" y="547" font-size="10.4" text-anchor="middle" textLength="22.5" lengthAdjust="spacingAndGlyphs">IFN-γ</text>
<text x="90.8" y="623.6" font-size="10.4" text-anchor="middle" textLength="25.5" lengthAdjust="spacingAndGlyphs">TNF-α</text>
<g clip-path="url(#c9)">
<g filter="url(#bl)">
<rect x="39" y="500" width="15.6" height="9.2" fill="#000" fill-opacity="1"/>
<ellipse cx="46.7" cy="504.6" rx="9.9" ry="6.4" fill="#000" fill-opacity="1" transform="rotate(-16 46.7 504.6)"/>
<ellipse cx="45.7" cy="505.1" rx="7.9" ry="5.6" fill="#000" fill-opacity="1" transform="rotate(-16 45.7 505.1)"/>
<ellipse cx="59.5" cy="502.8" rx="5.5" ry="4.6" fill="#000" fill-opacity="0.75" transform="rotate(-10 59.5 502.8)"/>
<ellipse cx="66" cy="502" rx="7" ry="3.9" fill="#000" fill-opacity="0.42" transform="rotate(-8 66 502)"/>
<ellipse cx="73" cy="501.2" rx="6" ry="3" fill="#000" fill-opacity="0.2"/>
</g><g filter="url(#b2)">
<path d="M41.43 504.29h0.7M55.5 510.87h0.7M51.94 506.75h0.7M45.92 506.54h0.7M44.7 509.8h0.7M44.8 501.67h0.7M37.54 511.85h0.7M42.34 501.23h0.7M48.81 512.91h0.7M50.28 503.55h0.7M49.72 501.38h0.7M45.16 505.14h0.7M46.64 508.44h0.7M49.58 513.3h0.7M51.22 503.77h0.7M48.01 501.28h0.7M43.17 503.51h0.7M52.24 501.98h0.7M37.89 500.56h0.7M39.9 504.2h0.7M44.9 499.89h0.7M42.18 503.19h0.7M48.78 507.7h0.7M53.96 503.88h0.7M50.11 505.34h0.7M40.53 502.23h0.7M58.77 504.31h0.7M55.78 508.64h0.7M55.85 504.18h0.7M51.8 503.68h0.7M40.47 499.89h0.7M49.07 497.95h0.7M48.67 501.2h0.7M48.61 499h0.7M51.35 504.01h0.7M38.16 498.7h0.7M47 497.84h0.7M48.47 507.14h0.7M43.01 511.14h0.7M54.66 506.39h0.7M49.18 507.08h0.7M45.21 510.76h0.7M43.7 493.99h0.7M46.78 506.94h0.7M51.22 500.17h0.7M54.36 501.42h0.7M50.15 508.21h0.7M47.65 509.98h0.7M43.94 514h0.7M49.39 503.17h0.7M61.08 504.98h0.7M37.71 511.23h0.7M55.22 502.48h0.7M41.2 509.96h0.7M47 500.8h0.7M44.01 505.31h0.7M52.11 511.87h0.7M43.25 511.74h0.7M38.32 508.14h0.7M45.91 506.93h0.7M44.27 501.89h0.7M48.25 509.97h0.7M44.45 500.31h0.7M39.25 507.28h0.7M49.75 507.84h0.7M43.29 503.11h0.7M56.42 503.32h0.7M47.38 509.38h0.7M55.91 506.64h0.7M48.58 513.51h0.7M44.46 497.13h0.7M42.54 503.63h0.7M53.93 506.4h0.7M53.34 505.46h0.7M46.92 502.48h0.7M39.87 507.24h0.7M48.69 507.53h0.7M43.74 503.17h0.7M48.78 507.68h0.7M57.69 501.18h0.7M52.15 508.9h0.7M45.24 505.62h0.7M46.38 511.73h0.7M60.75 506.43h0.7M45.28 509.18h0.7M49.42 504.2h0.7M50.85 508.84h0.7M44.51 508.75h0.7M44.98 505.71h0.7M38.64 511.5h0.7M44.6 505.68h0.7M46.46 508.33h0.7M43.49 508.28h0.7M42.11 498.5h0.7M49.53 505.72h0.7M51.56 496.48h0.7M47.3 502.19h0.7M45.66 503.28h0.7M44.62 502.07h0.7M52.33 497.45h0.7M37.46 506.53h0.7M57.81 501.65h0.7M41.7 499.87h0.7M41.06 510.51h0.7M50.46 508.97h0.7M48.61 506.04h0.7M43.48 500.75h0.7M50.12 515.91h0.7M44.66 510.59h0.7M42.81 505.18h0.7M56.07 504.69h0.7M50.2 502.54h0.7M57.07 499.59h0.7M49.79 503.96h0.7M47.78 506.61h0.7M53.95 508.86h0.7M52.51 506.62h0.7M40.79 510.92h0.7M55.19 507.13h0.7M51.08 503.99h0.7M38.73 509.34h0.7M42.68 513.44h0.7M50.5 504.92h0.7M43.3 505.48h0.7M41.11 503.36h0.7M55.52 503.71h0.7M56.85 504.59h0.7M48.99 500.94h0.7M45.02 503.04h0.7M39.01 513.54h0.7M49.95 504.64h0.7M40.63 505.16h0.7M40.86 500.73h0.7M45.64 514.53h0.7M37.06 507.48h0.7M43.66 492.2h0.7M38.87 504.42h0.7M47.02 501.68h0.7M56.5 507.37h0.7M43.18 497.75h0.7M47.64 502.05h0.7M52.33 500.4h0.7M53.29 502.98h0.7M47.75 503.81h0.7M50.12 510.08h0.7M43.66 501.02h0.7M57.15 509.23h0.7M57.23 509.23h0.7M47.4 512.22h0.7M42.95 503.12h0.7M44.44 508.04h0.7M41.94 504.23h0.7M41.98 503.97h0.7M52.87 509.92h0.7M45.43 516.28h0.7M42.76 507.03h0.7M44.01 495.21h0.7M40.08 510.49h0.7M37.48 517.95h0.7M45.97 506.21h0.7M53.59 505.14h0.7M43.12 502.31h0.7M41.43 507.45h0.7M44.03 507.28h0.7M38.32 503.1h0.7M58.07 506.62h0.7M46.07 510.26h0.7M48.17 511.8h0.7M40.19 508.41h0.7M40.75 508.02h0.7M60.27 511.78h0.7M41.88 506.87h0.7M49.17 501.82h0.7M47.98 500.29h0.7M52 509.06h0.7M45.73 508.06h0.7M59.85 504.3h0.7M44.11 501.55h0.7M51.63 509.45h0.7M49.93 512.25h0.7M43.12 503.16h0.7M48.95 493.01h0.7M45.43 505.27h0.7M41.27 506.02h0.7M52.48 502.21h0.7M49.75 504.33h0.7M45.73 505.53h0.7M54.99 507.32h0.7M50.41 505.68h0.7M46.5 505.44h0.7M43.79 498.17h0.7M54.89 513.14h0.7M55.33 496.85h0.7M49.66 499.78h0.7M45.56 502.72h0.7M43.14 501.59h0.7M43.91 508.45h0.7M55.55 509.13h0.7M46.52 504.37h0.7M45.22 504.92h0.7M43.13 504.22h0.7M51.3 504.01h0.7M42.04 504.47h0.7M47.06 504.66h0.7M45.12 508.14h0.7M46.32 500.53h0.7M49.74 501.84h0.7M50.88 508.64h0.7M49.26 506.38h0.7M39.06 504.13h0.7M47.26 507.84h0.7M40.31 504.32h0.7M37.99 505.8h0.7M47.01 505.55h0.7M55.79 508.27h0.7M45.48 502.44h0.7M44.08 508.48h0.7M51.66 502.77h0.7M45.91 503.08h0.7M50.39 505.85h0.7M42.54 501.08h0.7M53.82 498.79h0.7M36.43 491.35h0.7M57.91 502.62h0.7M51.33 507.5h0.7M51.25 510.05h0.7M43.94 504.93h0.7M52.06 507.48h0.7M42.32 501.65h0.7M38.47 506.16h0.7M43.57 498.11h0.7M43.43 506.45h0.7M47.58 504.02h0.7M47.47 507.9h0.7M39.84 501.39h0.7M52.01 508.27h0.7M38.69 501.8h0.7M54.68 508.35h0.7M45.74 509.54h0.7M54.24 511.28h0.7M38.74 499.26h0.7M43.7 504.79h0.7M44.57 506.09h0.7M54.87 509.89h0.7M52.12 505h0.7M55.83 507.05h0.7M47.92 504.93h0.7M46.42 509h0.7M59.29 504.16h0.7M40.02 509.53h0.7M47.91 500.82h0.7M51.98 505.06h0.7M41.24 493.79h0.7M40.96 506.71h0.7M40.73 509.32h0.7M58.95 506.43h0.7M47.83 504.67h0.7M51.41 505.15h0.7M52.4 511.31h0.7M51.36 500.75h0.7" stroke="#000" stroke-width="0.7" fill="none" stroke-opacity="0.7"/>
<path d="M68.38 500.95h0.7M65.94 505h0.7M59.21 503.66h0.7M73.91 498.45h0.7M62.46 504.76h0.7M62.18 505.7h0.7M56.81 498.87h0.7M66.39 501.61h0.7M65.95 504.97h0.7M71.04 500.32h0.7M61.11 496.95h0.7M57.04 504.08h0.7M65.28 497.73h0.7M69.21 501.5h0.7M71.39 500.26h0.7M70.46 498.13h0.7M50.97 501.78h0.7M68.62 502.94h0.7M50.73 504.68h0.7M68.41 506.77h0.7M69.18 503.16h0.7M52.85 505.06h0.7M50.17 503.43h0.7M61.22 499.85h0.7M56.76 502.96h0.7M67.8 499.89h0.7M65.86 504.22h0.7M63.61 508.14h0.7M61.62 500.51h0.7M50.63 507.46h0.7M68.47 501.17h0.7M65.93 501.7h0.7M69.81 501.51h0.7M65.34 501.94h0.7M57.64 496.63h0.7M67.54 498.14h0.7M66.53 503.91h0.7M76.81 498.32h0.7M64.81 505.08h0.7M59.14 501.29h0.7M66.87 508.12h0.7M71.24 504.19h0.7M57.1 505.31h0.7M71.66 497.5h0.7M63.84 501.81h0.7M68.24 496.56h0.7M68.66 501.7h0.7M61.92 496.34h0.7M49.42 502.8h0.7M68.28 503.02h0.7M68.96 496.59h0.7M65.17 506.21h0.7M53.03 505.85h0.7M58.72 504.74h0.7M64.46 497.44h0.7M56.49 507.22h0.7M63.01 506.19h0.7M66.1 504.72h0.7M61.03 503.43h0.7M61.19 505.46h0.7M59.78 506.26h0.7M74.65 497.23h0.7M62.58 504.17h0.7M76.06 504.08h0.7M64.36 497.15h0.7M69.58 499.82h0.7M65.1 503.4h0.7M53.99 506.95h0.7M70.11 503.21h0.7M67.89 502.87h0.7M54.07 502.25h0.7M69.41 500.61h0.7M63.93 503.48h0.7M64.36 503.08h0.7M67.11 501.92h0.7M56.12 502.67h0.7M70.38 499.44h0.7M67.01 502.84h0.7M57.65 494.86h0.7M63.63 500.1h0.7M59.41 505.79h0.7M58.44 504.18h0.7M64.56 502.87h0.7M77.53 494.58h0.7M70.43 501.02h0.7M61.82 500.68h0.7M64.03 502.49h0.7M57.41 508.16h0.7M58.62 502.71h0.7M54.98 504.08h0.7M66.22 505.27h0.7M70.53 499.95h0.7M74.85 500.51h0.7M74.48 505.96h0.7M60.97 499.59h0.7M67.5 506.13h0.7M66.5 505.25h0.7M67.86 504.45h0.7M72.9 500.22h0.7M53.96 503.42h0.7M58.29 499.63h0.7M62.59 504.67h0.7M51 499.7h0.7M69.26 498.98h0.7M61.05 506.79h0.7M71.5 502.36h0.7M67.47 493.8h0.7M67.59 502.98h0.7M54.14 504.29h0.7M66.9 501.6h0.7M69.21 504.24h0.7M64.1 501.6h0.7M55.59 506.93h0.7M59.79 503.89h0.7M74.33 503.19h0.7M54.97 503.38h0.7M58.82 498.2h0.7M58.21 504.91h0.7M66.08 501.45h0.7M64.95 498.77h0.7M58.44 502.65h0.7M69.23 500.67h0.7M62.6 503.55h0.7M73.88 497.22h0.7M67.42 502.42h0.7M63.25 503.19h0.7M50.05 504.41h0.7M62.1 498.96h0.7M69.56 501.21h0.7M61.37 504.98h0.7M57.38 501.16h0.7M69.43 504.17h0.7M77.67 499.07h0.7M53.71 499.41h0.7M55.48 503.87h0.7M62.09 500.63h0.7M56.77 501.32h0.7M61.21 506.27h0.7M68.04 505.84h0.7M69.38 503.85h0.7M71.85 502.58h0.7M74.35 504.24h0.7M76.26 501.26h0.7M58.39 510.6h0.7M61.79 504.21h0.7M61.12 500.7h0.7M66.73 498.65h0.7M62.63 506.73h0.7M64.58 504.7h0.7M68.14 502.91h0.7M64.45 504.1h0.7M57.04 505.07h0.7M56.31 501.21h0.7M59.67 499.01h0.7M50.14 505.44h0.7M67.19 503.86h0.7M78.96 500.76h0.7M68.87 499.46h0.7M68.6 498.32h0.7M77.32 497.62h0.7M60.88 505.01h0.7M48.54 508.51h0.7M57.15 503.91h0.7M70.47 501.9h0.7M70.15 499.99h0.7M67.8 495.37h0.7M74.15 498.95h0.7M57.74 503.29h0.7M75.43 498.65h0.7M63.55 501.35h0.7M57.26 499.44h0.7M67.77 503.92h0.7M58.51 503.8h0.7M66.79 503.08h0.7M62.55 502.69h0.7M65.6 498.97h0.7M62.7 504.89h0.7M59.82 506.83h0.7M62.04 499.37h0.7M61.66 498.68h0.7M67.9 497.09h0.7M63.8 501.68h0.7M61.59 503.95h0.7M65.67 500.46h0.7M69.34 500.27h0.7M69.88 505.5h0.7M66.28 504.78h0.7M54.45 505.37h0.7M53.38 503.34h0.7M68.49 493.77h0.7M58.3 500.87h0.7M57.18 503.38h0.7M68.08 498.35h0.7M59.38 497.51h0.7M58.81 496.88h0.7M53.29 505.26h0.7M69.73 499.13h0.7M66.09 499.76h0.7M71.04 506.54h0.7M46.68 502.24h0.7M59.25 501.61h0.7M74.46 505.53h0.7M63.58 504.3h0.7M52.69 503.07h0.7M61.69 502.24h0.7M65.72 497.48h0.7M56.47 509.76h0.7M51.7 504.27h0.7M68.69 503.15h0.7M64.06 497.57h0.7M60.43 498.24h0.7M77.21 501.55h0.7M68.69 502.29h0.7M60.97 506.28h0.7M69.75 503.42h0.7M67.69 504.02h0.7M61.73 503.95h0.7M64.22 501.58h0.7M68.13 508.11h0.7M49.66 508.64h0.7M60.66 506.38h0.7M56.62 502.85h0.7M70.73 501.19h0.7M66.07 498.48h0.7M55.75 508.46h0.7M64.74 501.99h0.7M54.11 500.68h0.7M56.54 503.26h0.7M62.86 500.71h0.7M59.03 503.38h0.7M71.74 497.1h0.7M53.86 507.13h0.7M53.81 502.58h0.7M64.47 507.68h0.7M49.57 495.79h0.7M63.1 505.66h0.7M64.64 499.86h0.7M64.97 496.11h0.7M69.34 505.99h0.7M62.24 505.03h0.7M56.38 507.81h0.7M59.2 500.67h0.7M58.39 497.9h0.7M68.3 507.68h0.7M53.79 503.21h0.7M66.75 500.28h0.7M52.87 504.92h0.7M70.59 501.73h0.7M56.27 502.55h0.7M50.32 504.11h0.7M72.07 504.51h0.7M63.06 503.77h0.7M60.07 503.3h0.7M59.54 503.47h0.7M60.08 503.49h0.7M68.45 501.67h0.7M54.71 505.15h0.7M61.96 501.17h0.7M67.54 499.37h0.7M70.09 503.15h0.7M58.88 501h0.7M62.82 499.82h0.7M70.19 494.78h0.7M64.67 501.22h0.7M56.09 505.34h0.7M60.32 504.22h0.7M60.65 501.99h0.7M67.26 504.73h0.7M70.53 501.37h0.7M73.88 499.95h0.7M54.27 498.18h0.7M53.7 501.24h0.7M51.37 505.11h0.7M63.88 502.26h0.7M65.29 501.84h0.7M61.92 501.7h0.7M63.94 499.01h0.7M72.46 505.74h0.7M63.89 509.13h0.7M56.98 506.03h0.7M52.49 505.78h0.7M58.52 506.12h0.7M64.44 505.12h0.7M67.84 503.37h0.7M61.77 507.41h0.7M66.12 503.49h0.7M73.54 500.24h0.7M75.67 503.93h0.7M64.2 498.01h0.7M72.05 500.29h0.7M64.34 502.67h0.7M70.24 503.36h0.7M51.12 502.22h0.7M66.08 502.57h0.7M69.14 503.31h0.7M74.87 498.67h0.7M72.66 502.27h0.7M65.75 504.14h0.7M61.36 504.86h0.7M62.24 504.75h0.7M58.44 506.63h0.7M53.2 501.93h0.7M63.35 503.17h0.7M58.19 501.98h0.7M65.44 505.27h0.7M72.58 499.73h0.7M63.22 501.54h0.7M53.2 502.55h0.7M71.46 497.3h0.7M83.35 502.53h0.7M75.59 501.26h0.7M47.84 505.95h0.7M74.62 499.14h0.7M72.41 503.42h0.7M69.08 503.87h0.7M67.71 503.77h0.7M71.9 502.5h0.7M68.03 503.06h0.7M64.65 499.68h0.7M51.34 501.13h0.7M55.17 499.21h0.7M68.43 500.75h0.7M72.43 510.47h0.7M69.01 500.27h0.7M66.31 501.42h0.7M65.65 508.33h0.7M74.69 504.65h0.7M65.67 507.43h0.7M69.4 504.25h0.7M55.66 501.71h0.7M64.87 501.59h0.7M60.12 496.95h0.7M58.57 502.8h0.7M65.82 498.9h0.7M62.79 507.93h0.7M64.8 496.39h0.7M62.43 502.59h0.7M72.42 501.75h0.7M73.15 502.06h0.7M71.76 505.3h0.7" stroke="#000" stroke-width="0.7" fill="none" stroke-opacity="0.62"/>
<path d="M81.76 501.23h0.7M76.5 512.87h0.7M65.51 502.97h0.7M75.51 499.22h0.7M77.59 500.61h0.7M77.38 501.68h0.7M67.21 505.31h0.7M84.54 503.09h0.7M74.37 496.31h0.7M74.61 501.32h0.7M68.04 496.41h0.7M75.34 504.22h0.7M76.9 507.94h0.7M61.53 503.85h0.7M72.54 505.87h0.7M72.52 498.75h0.7M72.37 502.94h0.7M68.38 499.73h0.7M74.28 504.05h0.7M71.35 503.21h0.7M69.75 500.91h0.7M73.85 504.37h0.7M82.06 500.24h0.7M75.36 507.19h0.7M77.63 500.01h0.7M75.13 497.11h0.7M60.38 500.65h0.7M68.51 498.06h0.7M78.76 499.61h0.7M73.23 501.77h0.7M71.52 498.24h0.7M84.1 494.49h0.7M72.53 503.7h0.7M71.54 501.43h0.7M74.55 502.13h0.7M70.75 505.04h0.7M75.7 505.78h0.7M73.28 495.62h0.7M63.02 501.12h0.7M75.41 496.45h0.7M69.42 505.68h0.7M74.7 499.28h0.7M72.09 502.02h0.7M70.27 500.94h0.7M69.01 502.67h0.7M82.03 504.96h0.7M65.44 509.31h0.7M72.05 497.5h0.7M64.01 502.97h0.7M74.1 499.56h0.7M68.05 501.47h0.7M74.27 503.46h0.7M76.01 494.16h0.7M69.26 502.76h0.7M74.93 503.76h0.7M64.03 507.22h0.7M65.77 501.75h0.7M70.02 500.48h0.7M68.21 504.53h0.7M77.35 502.17h0.7" stroke="#000" stroke-width="0.7" fill="none" stroke-opacity="0.4"/>
</g></g>
<rect x="36.2" y="487.6" width="53.6" height="47" fill="none" stroke="#9a9a9a" stroke-width="0.8"/>
<rect x="55" y="487.6" width="33.6" height="27.1" fill="none" stroke="#1a1a1a" stroke-width="1.2"/>
<text x="60.9" y="527.4" font-size="8.6" text-anchor="middle" textLength="8.6" lengthAdjust="spacingAndGlyphs">15</text>
<g clip-path="url(#c10)">
<g filter="url(#bl)">
<rect x="94.2" y="502.4" width="15.8" height="7.4" fill="#000" fill-opacity="1"/>
<ellipse cx="102" cy="506.1" rx="10" ry="5.5" fill="#000" fill-opacity="1" transform="rotate(-14 102 506.1)"/>
<ellipse cx="101" cy="506.6" rx="8" ry="4.7" fill="#000" fill-opacity="1" transform="rotate(-14 101 506.6)"/>
<ellipse cx="114" cy="504.4" rx="4.6" ry="4.2" fill="#000" fill-opacity="0.55"/>
<ellipse cx="120.5" cy="503.8" rx="6" ry="3.5" fill="#000" fill-opacity="0.24"/>
<ellipse cx="129" cy="503.4" rx="6.5" ry="3.1" fill="#000" fill-opacity="0.1"/>
</g><g filter="url(#b2)">
<path d="M95.74 503.73h0.7M102.24 507.64h0.7M99.58 505.1h0.7M116.57 506.36h0.7M100.95 496.76h0.7M98.53 512.34h0.7M107.06 501.58h0.7M106.75 506.78h0.7M98.3 509.15h0.7M99.29 504.97h0.7M102.65 506.93h0.7M100.21 507.26h0.7M102.56 506.87h0.7M104.62 503.7h0.7M95.25 505.85h0.7M109.12 507.39h0.7M103.75 503.3h0.7M96.46 501.39h0.7M97.66 504.7h0.7M94.33 505.67h0.7M94.17 508.61h0.7M102.41 499.42h0.7M99.63 507.01h0.7M104.57 509.08h0.7M100.67 505.57h0.7M101.3 508.2h0.7M98.86 505.51h0.7M103.32 504.8h0.7M96.79 511.3h0.7M105.2 502.65h0.7M113 503.21h0.7M97.91 504.73h0.7M105.4 511.83h0.7M109.84 508.23h0.7M102.91 508.65h0.7M98.37 503.45h0.7M105.37 506.89h0.7M103.8 502.25h0.7M103.86 500.65h0.7M107.47 506.17h0.7M99.13 504.34h0.7M117.32 518.05h0.7M98.83 511.34h0.7M102.65 507.1h0.7M97.46 501.13h0.7M103.81 504.43h0.7M105.23 510.16h0.7M101.94 508.17h0.7M103.48 507.02h0.7M99.8 507.04h0.7M104.86 506.42h0.7M100.15 500.58h0.7M96.89 512.09h0.7M107.94 507.26h0.7M104.1 505.56h0.7M106.17 509.79h0.7M101.23 507.31h0.7M107.62 500.11h0.7M97.57 503.95h0.7M96.39 504.46h0.7M98.07 504.62h0.7M105.09 501.65h0.7M103.08 511.39h0.7M103.57 501.47h0.7M99.35 510.58h0.7M101.17 503.74h0.7M106.7 503.41h0.7M96.66 508.47h0.7M102.65 503.65h0.7M105.02 510.33h0.7M108.28 506.52h0.7M104.98 508.02h0.7M94.7 512.47h0.7M99.05 504h0.7M98.21 502.46h0.7M108.36 506.15h0.7M99.5 499.16h0.7M103.44 505.94h0.7M97.1 505.76h0.7M96.11 508.03h0.7M103.08 498.04h0.7M96.64 503.64h0.7M106.74 508.41h0.7M105.89 512.51h0.7M101.04 504.2h0.7M105.54 502.93h0.7M97.94 509.76h0.7M109.38 499.3h0.7M105.04 506.1h0.7M107.35 504.84h0.7M101.92 511.51h0.7M99.43 507.73h0.7M105.9 505.7h0.7M107.19 508.11h0.7M106.94 499.65h0.7M97.1 507.26h0.7M108.73 511.6h0.7M102.64 503.3h0.7M96.79 498.72h0.7M99.93 508.35h0.7M102.19 500.51h0.7M102.04 506.33h0.7M98.62 511.69h0.7M104.87 510.33h0.7M103.09 502.43h0.7M108.27 510.35h0.7M99.48 501.07h0.7M106.87 503.98h0.7M96.44 505.82h0.7M105.47 503.28h0.7M102.75 509.93h0.7M106.51 500.2h0.7M106.34 512.91h0.7M107.41 505.81h0.7M104.51 500.13h0.7M99.48 504.16h0.7M113.5 506.15h0.7M97.44 512.59h0.7M109.05 499.85h0.7M101.51 499.7h0.7M108.03 497.46h0.7M112.33 502.11h0.7M97.07 514.21h0.7M105.39 507.49h0.7M107.08 502.36h0.7M107.17 505.07h0.7M105.31 507.02h0.7M109.86 501.23h0.7M95.25 508.63h0.7M115.01 508.22h0.7M101.69 508.71h0.7M96.21 506.49h0.7M93.73 506.59h0.7M106.38 512.63h0.7M99.92 509.69h0.7M109.63 502.14h0.7M101.12 499.06h0.7M97.97 507.82h0.7M106.37 511.63h0.7M99.33 497.34h0.7M97.23 508.41h0.7M102.46 508.83h0.7M100.98 508.66h0.7M97.44 502.41h0.7M101.71 499.45h0.7M109.05 505.19h0.7M97.42 502.84h0.7M97.49 506.62h0.7M100.64 509.45h0.7M96.51 505.87h0.7M94.64 504.36h0.7M109.69 505.68h0.7M107.23 505.9h0.7M96.83 502.77h0.7M96.65 507.45h0.7M103.78 517.39h0.7M111.31 509.39h0.7M97.43 506.58h0.7M97.79 515.15h0.7M98.77 510.62h0.7M95.47 509.07h0.7M96.13 504.36h0.7M103.45 506.67h0.7M102.24 505.89h0.7M98.04 505.72h0.7M102.19 502.56h0.7M105.53 506.81h0.7M98.59 511.13h0.7M99.55 498.84h0.7M109.18 504.69h0.7M110.23 507.8h0.7M97.88 510.43h0.7M104.96 509.69h0.7M102.76 512.12h0.7M107.42 504.85h0.7M94.65 505.97h0.7M102.91 502.35h0.7M101.54 511.9h0.7M100.07 510.46h0.7M97.64 502.4h0.7M107.46 505.48h0.7M103.69 510.09h0.7M111.09 501.38h0.7M105.6 507.01h0.7M103.3 513.03h0.7M101.27 503.85h0.7M105.19 498.34h0.7M104.47 502.7h0.7M104.24 503.28h0.7M105.2 505.18h0.7M98.78 508.22h0.7M106.46 499.96h0.7M95.77 505.12h0.7M100.53 511.24h0.7M110.85 507.97h0.7M108.28 504.88h0.7M95.36 507.3h0.7M103.87 510.61h0.7M99.17 499.92h0.7M101.47 508.01h0.7M101.4 504.17h0.7M102.94 505.4h0.7M109.83 501.09h0.7M103.94 500.22h0.7M102.31 507.83h0.7M104.28 507.3h0.7M98.57 500.56h0.7M107.53 504.78h0.7M95.32 512.11h0.7M106.4 495.31h0.7M116.08 506.69h0.7M94.06 509.82h0.7M104.24 510.92h0.7M102.58 499.71h0.7M101.65 504.48h0.7M104.04 505.42h0.7M105.46 501.42h0.7M99.64 504.14h0.7M104.69 499.54h0.7M102.52 515.32h0.7M103.03 509.95h0.7M102.79 507.13h0.7M104.43 507.9h0.7M96.19 505.61h0.7M112.09 511.6h0.7M98.06 502.47h0.7M101.6 510.21h0.7M107.33 503.86h0.7M93.78 510.74h0.7M110.29 508.71h0.7M105.63 508.3h0.7M112.18 510.32h0.7M110.09 501.69h0.7M99.78 506.11h0.7M102.39 505.87h0.7M115.78 505.34h0.7M101.46 505.65h0.7M100.7 500.65h0.7M108.39 506.21h0.7M104.4 506.26h0.7M98.4 499.96h0.7M100.99 508.18h0.7M101.86 508.95h0.7M98.34 504.99h0.7M103.28 505.73h0.7M103.41 511.66h0.7M100.29 506.64h0.7M99.07 508.22h0.7M103.67 503.27h0.7M97.19 501.49h0.7M101 506.71h0.7M99.89 505.68h0.7M103.2 515.19h0.7M108.69 515.08h0.7M103.2 506.95h0.7M112.74 507.59h0.7M105.93 504.16h0.7M99.63 509.12h0.7M99.33 503.57h0.7M94.63 507.25h0.7" stroke="#000" stroke-width="0.7" fill="none" stroke-opacity="0.7"/>
<path d="M118.04 505.82h0.7M112.69 500.24h0.7M126.32 503.73h0.7M124.14 500h0.7M109.74 496.17h0.7M120.76 507.15h0.7M127.85 509.36h0.7M106.1 501.04h0.7M115.04 501.6h0.7M117.23 501.46h0.7M108.54 504.35h0.7M119.54 501.45h0.7M118.9 499.75h0.7M116.41 503.02h0.7M115.52 503.9h0.7M109.92 500.04h0.7M112.94 506.68h0.7M112.1 501.26h0.7M132.37 502.52h0.7M116.03 501.24h0.7M128.83 505.25h0.7M120.49 509.12h0.7M110.43 498.9h0.7M126.34 505.06h0.7M115.11 506.78h0.7M118.01 510.42h0.7M109.9 505.59h0.7M125.43 506.58h0.7M116.17 502.82h0.7M115.65 506.4h0.7M115.88 503.68h0.7M125.76 503.31h0.7M120.35 503.52h0.7M118.72 496.74h0.7M112.17 505.51h0.7M114.23 502.2h0.7M119.03 511.47h0.7M113.4 501.13h0.7M106.23 506.1h0.7M118.27 501.27h0.7M115.82 507.34h0.7M125.71 504.87h0.7M126.65 506.94h0.7M115.47 506.76h0.7M119.74 506.47h0.7M120.58 510.9h0.7M109.96 505.6h0.7M111.15 511.95h0.7M115.07 502.97h0.7M118.51 503.87h0.7M130.47 503.27h0.7M120.38 507.41h0.7M129.11 500.37h0.7M120.76 499.56h0.7M122.06 508.48h0.7M115.02 503.26h0.7M126.89 505.05h0.7M124.22 502.24h0.7M116.46 502.89h0.7M129.51 498.59h0.7M115.06 509.29h0.7M118.16 500.44h0.7M120.28 503.21h0.7M117.8 505.68h0.7M124.12 498.83h0.7M120.03 508.86h0.7M109.35 504.13h0.7M110.6 506.57h0.7M112.78 503.18h0.7M115.77 505.63h0.7M109.57 499.83h0.7M119.94 508.41h0.7M115.14 505.53h0.7M120.48 504.27h0.7M118.5 502.19h0.7M116.94 508.04h0.7M121.72 508.08h0.7M113.6 504.63h0.7M114.18 499.86h0.7M124.85 502.78h0.7M120.3 499.26h0.7M116.88 503.68h0.7M115.94 507.48h0.7M121.8 504.29h0.7M120.22 502.46h0.7M113.71 503.31h0.7M111.57 503.78h0.7M117.85 507.76h0.7M115.62 512.16h0.7M115.02 504.61h0.7M118.44 501.99h0.7M118.19 498.18h0.7M126.35 501.73h0.7M118.43 498.02h0.7M122.55 499.58h0.7M128.02 500.11h0.7M113.55 506.43h0.7M127.47 497.04h0.7M106.95 509.89h0.7M121.67 498.84h0.7M115.6 506.45h0.7M115.93 509.12h0.7M113.68 504.79h0.7M126.6 508.53h0.7M120.26 505.85h0.7M116.29 503.89h0.7M114.64 505.48h0.7M124.43 500.39h0.7M110.56 504.53h0.7M132.43 504.1h0.7M119.51 503.81h0.7M107.04 502.19h0.7M129.02 496.54h0.7M131.01 499.44h0.7M132.69 512.04h0.7M128.95 503.05h0.7M122.68 501.98h0.7M115.5 504.82h0.7M96.88 506.88h0.7M116.44 500.5h0.7M116.67 506.24h0.7M113.28 505.44h0.7M109.3 504.75h0.7M110.64 506.92h0.7M111.4 506.39h0.7M104.85 505.23h0.7M126.18 500.89h0.7M118.97 501.12h0.7M121.91 506.36h0.7M126.52 508.05h0.7M127.58 501.15h0.7M119.39 505.72h0.7M119.9 499.56h0.7M132.56 511.83h0.7M119.01 495.31h0.7M131.18 502.79h0.7M134.22 499.77h0.7M122.22 506.46h0.7M108.67 503.36h0.7M121.98 506.04h0.7M121.27 495.14h0.7M102.13 505.99h0.7M129.6 498.34h0.7M121.3 506.97h0.7M111.85 499.02h0.7M120.44 502.42h0.7M117.93 503.34h0.7M117.77 505.07h0.7M114.92 504.05h0.7M114.68 501.27h0.7M120.99 501.11h0.7M122.26 503.73h0.7M126.03 505.61h0.7M104.75 504.55h0.7M123.13 504.14h0.7M118.87 507.6h0.7M123.24 499.28h0.7M119.23 507.31h0.7M119.64 499.67h0.7M123.95 505.76h0.7M126.5 504.2h0.7M119.36 506.81h0.7M110.98 510.09h0.7M121.35 504.6h0.7M123.81 506.39h0.7M103.37 507.82h0.7M117.82 501.39h0.7M124.8 506.84h0.7M121.19 501.78h0.7M119.3 500.77h0.7" stroke="#000" stroke-width="0.7" fill="none" stroke-opacity="0.55"/>
<path d="M136.45 508.87h0.7M124.82 501.58h0.7M115.54 502.57h0.7M121.69 503.91h0.7M129.09 503.43h0.7M130.83 501.8h0.7M131.33 503.16h0.7M125.75 502.32h0.7M126.74 499.03h0.7M130.39 497.11h0.7M134.12 503.27h0.7M131.68 507.28h0.7M136.97 501.91h0.7M132.9 507.4h0.7M129.52 504.66h0.7M133.38 499.89h0.7M132.46 502.07h0.7M128.82 504.85h0.7M134.96 500.35h0.7M128.87 502.72h0.7M124.19 504.63h0.7M129.19 501.01h0.7M136.87 503.1h0.7M122.78 503.07h0.7M129.32 504.37h0.7M140.23 502.8h0.7M133.72 505.06h0.7M129.87 504.21h0.7M127.54 505.72h0.7M124.49 509.15h0.7M105.63 498.72h0.7M129.71 504.61h0.7M131.54 497.93h0.7M133.42 500.41h0.7M131.91 501.97h0.7M128.75 498.26h0.7M121.79 501.51h0.7M123.42 504.21h0.7M121.19 504.12h0.7M134.26 500.87h0.7M124.13 502.21h0.7M135.84 508.07h0.7M145.01 503.68h0.7M134.71 504.03h0.7M130.42 499.77h0.7M128.18 507.15h0.7M139.81 501.35h0.7M119.71 509.75h0.7M130.76 504.92h0.7M129.4 497.3h0.7" stroke="#000" stroke-width="0.7" fill="none" stroke-opacity="0.36"/>
</g></g>
<rect x="93.5" y="487.6" width="52.5" height="47" fill="none" stroke="#9a9a9a" stroke-width="0.8"/>
<rect x="111.7" y="487.6" width="34" height="27.4" fill="none" stroke="#1a1a1a" stroke-width="1.2"/>
<text x="111" y="527.3" font-size="8.6" text-anchor="middle" textLength="4.6" lengthAdjust="spacingAndGlyphs">9</text>
<g clip-path="url(#c11)">
<g filter="url(#bl)">
<rect x="37.2" y="580.2" width="19.2" height="9.8" fill="#000" fill-opacity="1"/>
<ellipse cx="46.7" cy="585.1" rx="11.7" ry="6.7" fill="#000" fill-opacity="1" transform="rotate(8 46.7 585.1)"/>
<ellipse cx="45.7" cy="585.6" rx="9.7" ry="5.9" fill="#000" fill-opacity="1" transform="rotate(8 45.7 585.6)"/>
<ellipse cx="52" cy="587" rx="6" ry="5.4" fill="#000" fill-opacity="1"/>
<ellipse cx="61" cy="585.4" rx="4.6" ry="5.2" fill="#000" fill-opacity="0.7"/>
<ellipse cx="67" cy="585.2" rx="6" ry="4.4" fill="#000" fill-opacity="0.36"/>
<ellipse cx="73.5" cy="585" rx="5.5" ry="3.6" fill="#000" fill-opacity="0.14"/>
</g><g filter="url(#b2)">
<path d="M49.5 580.62h0.7M46 582.23h0.7M46.13 596.49h0.7M56.48 575.97h0.7M38.65 582.8h0.7M43.77 588.84h0.7M56.81 581.73h0.7M51 584.19h0.7M57.87 581.3h0.7M51.35 582.75h0.7M47.1 583.01h0.7M46.84 585.39h0.7M44.09 586.48h0.7M40.09 589.02h0.7M42.08 576.41h0.7M52.53 583.56h0.7M44.56 589.49h0.7M47.47 594.36h0.7M50.16 578.43h0.7M44.72 582.02h0.7M45.97 593.12h0.7M63.56 593.26h0.7M50.31 587.76h0.7M48.64 574.75h0.7M55.79 594.56h0.7M44.6 585.05h0.7M43.51 584.21h0.7M42.6 579.85h0.7M54.73 576h0.7M53.69 579.78h0.7M46.17 575.7h0.7M51.48 580.45h0.7M62.25 580.78h0.7M49.12 588.3h0.7M41.97 581.27h0.7M41.42 587.82h0.7M49.4 589.97h0.7M39.25 580.8h0.7M46.98 583.07h0.7M49.5 590.49h0.7M48.44 581.41h0.7M47.42 581.78h0.7M43.84 593.96h0.7M51.63 593.8h0.7M46.43 584.86h0.7M40.27 586.31h0.7M51.92 588.45h0.7M40.87 585.69h0.7M53.06 582.97h0.7M51.79 582.8h0.7M47.65 582.44h0.7M39 581.24h0.7M48.68 583.83h0.7M47.62 582.45h0.7M52.83 584.34h0.7M49.97 582.93h0.7M55.31 584.7h0.7M50.22 595.58h0.7M50.2 577.81h0.7M43.77 586.71h0.7M39.98 578.22h0.7M46.97 577.73h0.7M54.03 587.23h0.7M45.84 590.89h0.7M43.7 579.59h0.7M52.98 585.27h0.7M46.35 590.06h0.7M46.88 588.23h0.7M48.96 590.65h0.7M50.9 582.96h0.7M56.49 583.5h0.7M57.84 579.19h0.7M48 574.63h0.7M50.73 591.5h0.7M45.39 587.41h0.7M46.38 591.97h0.7M49.66 586.86h0.7M54.12 578h0.7M51.75 585.82h0.7M55.28 585.32h0.7M51.24 584.93h0.7M41.93 582.81h0.7M46.64 578.91h0.7M47.43 582.96h0.7M58.35 584.04h0.7M48.43 585.63h0.7M51.77 577.59h0.7M42.82 580.99h0.7M54.55 586.6h0.7M43.01 588.7h0.7M41.09 592.85h0.7M45.87 586.77h0.7M47.66 594.25h0.7M42.11 584.73h0.7M60.24 575.57h0.7M44.85 586.5h0.7M46.46 587.29h0.7M54.49 579.85h0.7M43.91 591.4h0.7M59.11 572.59h0.7M50.87 589.88h0.7M43.77 581.09h0.7M41.12 584.25h0.7M41.03 588.54h0.7M43.7 587.64h0.7M38.56 589.37h0.7M51.64 589.64h0.7M49.31 596.03h0.7M53.39 585.43h0.7M57.12 583.51h0.7M48.64 592.92h0.7M45.04 585.18h0.7M49.2 586.07h0.7M46.37 589.97h0.7M60.34 583.38h0.7M39.15 583.01h0.7M39.64 579.21h0.7M41.69 590.2h0.7M48.64 588.54h0.7M47.1 590.01h0.7M45.37 591.35h0.7M52.9 586.23h0.7M39.16 580.02h0.7M49.26 580.29h0.7M46.76 584.44h0.7M55.79 581.98h0.7M48.51 583.02h0.7M43.34 587.26h0.7M53.41 578.48h0.7M56.51 595.71h0.7M48.65 587.65h0.7M41.67 583.3h0.7M49.55 584.78h0.7M55.81 581.06h0.7M46.31 587.69h0.7M47.33 584.05h0.7M47.08 587.1h0.7M52.12 580.24h0.7M42.47 579.88h0.7M50.3 576.46h0.7M62.08 582.62h0.7M39.55 594.9h0.7M47.73 587.53h0.7M46.65 584h0.7M59.78 575.94h0.7M49.26 581.72h0.7M45.75 584.91h0.7M48.94 587.83h0.7M44.27 588.7h0.7M45.05 588.84h0.7M55.64 588.14h0.7M39.37 585.55h0.7M41.73 594.35h0.7M48.93 579.22h0.7M38.87 591.43h0.7M41.91 587.14h0.7M45.85 584.53h0.7M45.21 585.25h0.7M57.18 581.1h0.7M50.78 587.47h0.7M43.86 580.08h0.7M42.57 587.92h0.7M48.71 590.03h0.7M49.9 585.76h0.7M47.88 586.3h0.7M48.04 588.36h0.7M42.74 590.24h0.7M57.27 584.79h0.7M51.08 579.69h0.7M48.37 578.5h0.7M53.57 585.44h0.7M54.08 590.5h0.7M43.48 589.03h0.7M56.81 595.6h0.7M47.17 587.77h0.7M44.06 588.2h0.7M51.28 592.01h0.7M46.91 585.51h0.7M50.7 584.43h0.7M59.86 574.85h0.7M51.84 585.31h0.7M50.24 578.13h0.7M51.26 587.76h0.7M57.35 589.07h0.7M44.18 581.77h0.7M41.17 582.95h0.7M47.2 591.08h0.7M57.46 585.57h0.7M51.28 584.45h0.7M40.22 587.71h0.7M43.53 577.7h0.7M42.89 592.18h0.7M41.02 591.58h0.7M39.79 584.91h0.7M50.75 583.37h0.7M42.12 585.24h0.7M57.58 588.31h0.7M48.96 587.9h0.7M54.73 591.42h0.7M46.22 581.13h0.7M42.03 585.52h0.7M46.04 585.26h0.7M44.18 596.85h0.7M43.71 591.88h0.7M42.76 581.56h0.7M40.92 580.15h0.7M38.21 581.38h0.7M46.38 588.46h0.7M47.11 585.21h0.7M51.71 590.58h0.7M46.09 591h0.7M48.2 580.97h0.7M50.86 589.78h0.7M49.16 585.08h0.7M46.33 588.35h0.7M40.22 582.81h0.7M48.98 590.99h0.7M47.71 580.93h0.7M63.78 586.73h0.7M43.47 582.42h0.7M53.98 595.15h0.7M48.38 578.99h0.7M52.89 585.66h0.7M45.38 586.18h0.7M40.98 586.13h0.7M49.88 590.77h0.7M59.59 582.31h0.7M50.01 581.56h0.7M48.5 590.59h0.7M51.6 583.86h0.7M58.38 589.38h0.7M55.03 585.61h0.7M55.67 584.55h0.7M52.93 585.43h0.7M47.76 578.03h0.7M53.58 587.92h0.7M44.12 585.54h0.7M51.35 588.2h0.7M41.73 594.09h0.7M54.54 585.89h0.7M49.01 586.56h0.7M45.38 592.29h0.7M43.81 582.76h0.7M46.41 577.85h0.7M53.93 579.74h0.7M56.76 589.64h0.7M59.76 582.47h0.7M46 583.14h0.7M52.5 581.07h0.7M45.88 574.45h0.7M48.06 586.21h0.7M59.6 581.33h0.7M53.55 587.9h0.7M53.03 580.09h0.7M53.54 586.03h0.7M56.4 595.33h0.7M43.65 583.33h0.7M56.91 577.45h0.7M49.77 592.32h0.7M52.16 585.06h0.7" stroke="#000" stroke-width="0.7" fill="none" stroke-opacity="0.7"/>
<path d="M61.09 578.09h0.7M68.03 582.99h0.7M62.27 586.4h0.7M51.72 584.52h0.7M60.75 592.77h0.7M63.95 589.55h0.7M58.41 578.96h0.7M70.35 584.06h0.7M56.15 589.1h0.7M67.94 578.71h0.7M63.23 592.88h0.7M65.42 580.02h0.7M59.36 590.43h0.7M74.32 588.18h0.7M55.07 588.15h0.7M59.44 583.12h0.7M61.52 589.31h0.7M67.97 587.57h0.7M61.88 583.16h0.7M71.61 583.08h0.7M62.91 587.34h0.7M63.57 589.03h0.7M68.31 587.84h0.7M79.55 583.57h0.7M78.16 580.65h0.7M59.67 575.39h0.7M60.4 581.99h0.7M69.26 590.28h0.7M79.62 583.62h0.7M71.58 584.71h0.7M52.84 568.64h0.7M62.42 577.59h0.7M70.31 581.75h0.7M68.91 582.74h0.7M67.82 581.6h0.7M67.29 592.41h0.7M67.12 579.94h0.7M59.66 585.61h0.7M69.92 580.54h0.7M58.84 578.7h0.7M76.06 586.7h0.7M66.81 583.57h0.7M77.09 587.86h0.7M64.07 589.99h0.7M68.5 584.23h0.7M62.37 585.18h0.7M73.64 579.92h0.7M54.01 587.56h0.7M71.53 591.14h0.7M68.43 579.43h0.7M70 586.04h0.7M58.21 578.73h0.7M54.75 585.19h0.7M56.39 586.37h0.7M63.71 587.72h0.7M70.33 581.78h0.7M62.3 588.07h0.7M60.57 589.1h0.7M68.55 588.88h0.7M60.86 588.2h0.7M63.34 586.04h0.7M68.79 583.13h0.7M64.42 575.81h0.7M60.25 587.53h0.7M57.72 576.65h0.7M55.48 583.76h0.7M69.03 587.45h0.7M55.58 586.53h0.7M56.82 589.28h0.7M67.23 582.78h0.7M61.69 584.81h0.7M60.99 589.71h0.7M66.66 583.01h0.7M67.62 579.85h0.7M65.71 583.94h0.7M61.04 584.86h0.7M66.16 579.45h0.7M67.05 596.99h0.7M69.79 583.01h0.7M66.99 591.84h0.7M57.8 591.56h0.7M62.44 592.65h0.7M59.42 589.18h0.7M61.06 590.07h0.7M70.4 586.71h0.7M59.39 589.19h0.7M67.09 580.97h0.7M68.25 584.64h0.7M63.95 581.28h0.7M66.03 588.66h0.7M59.36 588.24h0.7M53.15 585.29h0.7M66.38 581.46h0.7M65.69 580.02h0.7M76.56 587.13h0.7M71.59 581.71h0.7M50.43 584.43h0.7M73.17 584.82h0.7M72.02 587.01h0.7M66.78 589.44h0.7M60.97 583.45h0.7M71.62 587.22h0.7M61.29 580.8h0.7M74.05 572.64h0.7M70.45 584.78h0.7M56.55 586.57h0.7M67.69 594.35h0.7M66.54 575.26h0.7M58.86 588.05h0.7M61.65 584.87h0.7M64.18 590.87h0.7M66.75 584.63h0.7M60.69 589.08h0.7M60.36 586.71h0.7M67.3 588.24h0.7M69.59 586.46h0.7M76.98 588.68h0.7M60 581.45h0.7M60.36 590.35h0.7M57.87 591.22h0.7M67.34 582.94h0.7M58.51 584.62h0.7M69.39 585.04h0.7M69.14 586h0.7M73.1 583.52h0.7M63.88 580.68h0.7M62.73 581.18h0.7M55.34 584.03h0.7M68.89 576.41h0.7M56.82 579.41h0.7M66.96 587.5h0.7M66.68 584.51h0.7M59.96 585.8h0.7M59.35 584.12h0.7M67.15 584.26h0.7M72.07 576.77h0.7M54.91 588.86h0.7M61.21 583.23h0.7M61.29 584.85h0.7M63.73 586.6h0.7M70.37 592.72h0.7M51.66 584.36h0.7M59.25 585.88h0.7M58.51 585.28h0.7M66.38 585.09h0.7M66.12 587.84h0.7M58.21 584.81h0.7M71.11 589.08h0.7M70.68 582.08h0.7M60.62 588.97h0.7M64.7 586.36h0.7M62.53 588.74h0.7M65.75 581.29h0.7M66.94 583.88h0.7M63.08 587.39h0.7M65.58 582.95h0.7M57.53 583.21h0.7M63.86 580.44h0.7M60.89 594.3h0.7M60.78 585.32h0.7M57.14 583.69h0.7M66.19 585.88h0.7M54.33 585.03h0.7M58.7 589.33h0.7M64.06 591.44h0.7M66.88 580.64h0.7M70.47 583.44h0.7M64 585.55h0.7M56.75 589.59h0.7M65.6 581.14h0.7M56.3 586.76h0.7M72.09 587.01h0.7M66.58 583.59h0.7M71.37 587.55h0.7M59.78 582.62h0.7M51.49 589.36h0.7M82.95 585.28h0.7M67.34 588.3h0.7M63.35 593.62h0.7M58.49 581.69h0.7M74.54 589.11h0.7M69.28 584.92h0.7M64.4 585.77h0.7M67.28 582.9h0.7M71.02 592.28h0.7M61.45 581.35h0.7M65.43 594.95h0.7M58.8 590.35h0.7M60.55 582.1h0.7M71.3 584.73h0.7M64.41 587.98h0.7M71.59 586.35h0.7M74.18 582.83h0.7M61.49 587.82h0.7M68.65 578.49h0.7M62.77 587.88h0.7M63.71 592.27h0.7M55.01 585.73h0.7M59.51 578.78h0.7M63.24 584.93h0.7M62.12 582.66h0.7M69.91 581.27h0.7M60.87 579.6h0.7M71.78 579.65h0.7M75.2 581.92h0.7M64.38 591.63h0.7M58.16 590.23h0.7M56.7 583.17h0.7M68.08 586.67h0.7M66.7 586.54h0.7M74.27 579.18h0.7M60.44 588.55h0.7M55.69 582.25h0.7M79.62 590.98h0.7M67.79 585.66h0.7M63.66 581.74h0.7M59.31 581.22h0.7M56.86 585.54h0.7M67.26 581.63h0.7M65.49 580.06h0.7M66.95 584.05h0.7M64.24 586h0.7M72.65 586.32h0.7M60.68 585.76h0.7M67.09 587.43h0.7M71.1 582.23h0.7M57.35 587.5h0.7M57.74 586.83h0.7M81.36 590.67h0.7M55.67 581.75h0.7M67.06 584.22h0.7M68.95 586.35h0.7M66.7 587.51h0.7M55.07 589.48h0.7M55.96 581.53h0.7M49.85 584.83h0.7M67.14 583.86h0.7M57.32 576.47h0.7M68.1 580.83h0.7M62.41 586.15h0.7M64.26 586.87h0.7M74.86 588.38h0.7M58.44 584.92h0.7M63.26 581.85h0.7M68.7 583.87h0.7M66.11 587.85h0.7M77.58 583.27h0.7M69.12 593.88h0.7M74.48 586.76h0.7M60.14 585.78h0.7M60.83 583.51h0.7M54.05 583.83h0.7M52.32 588.81h0.7M67.9 583.78h0.7M64.89 585.77h0.7M63.11 586.38h0.7M63.58 587.04h0.7M59.67 585.41h0.7M75.04 582.41h0.7M59.7 588.86h0.7" stroke="#000" stroke-width="0.7" fill="none" stroke-opacity="0.6"/>
<path d="M75.49 585.25h0.7M74.73 583.2h0.7M70.67 586.55h0.7M74.69 587.04h0.7M76.24 592.84h0.7M74.18 589.81h0.7M74.56 592.91h0.7M79.29 581.95h0.7M82.73 582.64h0.7M79.46 581.95h0.7M75.75 585.28h0.7M81.84 576.88h0.7M62.71 588.29h0.7M77.99 582.86h0.7M74.25 578.36h0.7M71.52 582.32h0.7M78.75 585.64h0.7M72.79 588.95h0.7M69.98 587.5h0.7M72.37 586.4h0.7M72.01 589.84h0.7M71.2 592.08h0.7M78.25 581.71h0.7M71.16 589.62h0.7M82.11 580.33h0.7M74.65 587.02h0.7M87.32 587.19h0.7M72.56 588.14h0.7M74.16 581.63h0.7M73.46 583.95h0.7M72.48 585.07h0.7M75.75 581.93h0.7M77.58 579.03h0.7M77.53 586.55h0.7M76.13 579.34h0.7M70.85 585.52h0.7M76.38 587.5h0.7M64.93 584.86h0.7M79.91 580.55h0.7M66.74 583.09h0.7M72.16 583.84h0.7M80.89 585.82h0.7M62.76 587.66h0.7M74.26 587.91h0.7M73.55 589.84h0.7M74.54 583.04h0.7M66.83 588.18h0.7M72.92 578.45h0.7M78.55 589.54h0.7M61.72 586.88h0.7" stroke="#000" stroke-width="0.7" fill="none" stroke-opacity="0.38"/>
</g></g>
<rect x="37.8" y="564.3" width="52.5" height="46.7" fill="none" stroke="#9a9a9a" stroke-width="0.8"/>
<rect x="57.6" y="564.3" width="31.9" height="30" fill="none" stroke="#1a1a1a" stroke-width="1.2"/>
<text x="62.8" y="605.2" font-size="8.6" text-anchor="middle" textLength="7.6" lengthAdjust="spacingAndGlyphs">11</text>
<g clip-path="url(#c12)">
<g filter="url(#bl)">
<polygon points="95,583.2 100,579.2 107,577.4 113.6,577 114.6,592.6 106,592.4 100,590.2 96,586.5" fill="#000" fill-opacity="1"/>
<ellipse cx="106.5" cy="585.4" rx="6.5" ry="6" fill="#000" fill-opacity="1"/>
<ellipse cx="116.5" cy="584.6" rx="4.2" ry="5.4" fill="#000" fill-opacity="0.55"/>
<ellipse cx="122.5" cy="584.4" rx="6" ry="4.4" fill="#000" fill-opacity="0.24"/>
<ellipse cx="129.5" cy="584" rx="6" ry="3.4" fill="#000" fill-opacity="0.1"/>
</g><g filter="url(#b2)">
<path d="M107.96 593.09h0.7M110.79 581.62h0.7M106.97 588.52h0.7M97.37 591.79h0.7M107.17 589h0.7M100.29 588.95h0.7M104.47 583.67h0.7M104.88 586.69h0.7M97.15 585.11h0.7M106.52 577.59h0.7M113.16 597.04h0.7M108.05 585.1h0.7M99.54 579.96h0.7M98.58 589.22h0.7M100.35 585.99h0.7M102.51 589.29h0.7M111.04 589.38h0.7M108 590.08h0.7M113.2 581.09h0.7M106.02 582.12h0.7M104.93 584.11h0.7M105.28 588.45h0.7M98.22 573.07h0.7M106.06 590.06h0.7M102.73 591.98h0.7M115.94 585.46h0.7M103.64 587.54h0.7M108.51 578.2h0.7M107.19 575.62h0.7M99.37 586.2h0.7M106.25 579.62h0.7M104.93 591.14h0.7M96.5 587.77h0.7M111.03 578.91h0.7M110.64 587.24h0.7M103.14 585.26h0.7M104.5 585.33h0.7M103.67 581.73h0.7M109.22 593.08h0.7M103.73 591.76h0.7M100.84 579.22h0.7M107.86 586.29h0.7M106.95 580.71h0.7M102.72 589.9h0.7M112.65 586.37h0.7M106.6 572.93h0.7M101.45 591.25h0.7M114.19 581.33h0.7M98.19 583.22h0.7M101.68 583.45h0.7M99.87 588.23h0.7M106.18 579.05h0.7M96.8 594.88h0.7M107.51 586.16h0.7M96.23 595.24h0.7M99.5 585.76h0.7M106.32 581.81h0.7M105.29 583.06h0.7M94.41 578.74h0.7M101.56 582.72h0.7M106.82 592.9h0.7M103.46 595.36h0.7M102.49 585.71h0.7M103.53 577.33h0.7M104.29 584.22h0.7M100.5 588.68h0.7M106.64 583.75h0.7M100.26 586.6h0.7M100.63 581.22h0.7M102.15 589.61h0.7M103.21 584.44h0.7M102.96 587.98h0.7M103.82 589.06h0.7M103.85 589.14h0.7M103.13 581.73h0.7M106.66 584.26h0.7M102.34 591.92h0.7M102.13 581.57h0.7M102.92 591.92h0.7M97.95 590.64h0.7M107.14 583.36h0.7M102.9 581.83h0.7M94.52 580.89h0.7M97.62 577.75h0.7M102.38 587.98h0.7M99.91 583.67h0.7M100.72 584.27h0.7M106.51 590.88h0.7M107.51 586.96h0.7M111.36 588.58h0.7M106.93 587.88h0.7M108.58 580.43h0.7M100.11 585.65h0.7M95.69 583.97h0.7M102.84 586.73h0.7M107.92 591.34h0.7M106.16 591.95h0.7M101.39 587.19h0.7M103.72 580.84h0.7M105.67 589.74h0.7M102.7 585.67h0.7M109.87 584.36h0.7M102.88 586.62h0.7M106.64 587.14h0.7M110.56 587.31h0.7M98.51 577.67h0.7M103.97 593.09h0.7M104.62 583.21h0.7M105.78 587.72h0.7M110.58 579.27h0.7M108.22 586.12h0.7M108.49 590.3h0.7M106.88 581.58h0.7M103.79 590.17h0.7M96.97 589.37h0.7M108.35 593.44h0.7M100.24 582.36h0.7M109.36 583.93h0.7M106.42 573.07h0.7M116.24 576.56h0.7M96.25 587.59h0.7M106.86 581.46h0.7M105.53 580.95h0.7M105.04 582.54h0.7M99.33 588.53h0.7M104.39 585.43h0.7M98.24 581.94h0.7M103 582.44h0.7M106.07 585.4h0.7M103.27 584.45h0.7M106.39 589.98h0.7M99.03 589.71h0.7M108.82 588.94h0.7M101.62 586.22h0.7M114.8 579.02h0.7M108.51 584.03h0.7M112.59 585.89h0.7M108.57 582.32h0.7M101.9 592.77h0.7M98.07 582.79h0.7M103.11 579.39h0.7M107.47 579.49h0.7M104.59 584.12h0.7M96.7 585.37h0.7M108.41 586.53h0.7M109.92 592.85h0.7M108 584.33h0.7M103.77 588.17h0.7M98.2 580.35h0.7M104.31 593.41h0.7M98.83 586.41h0.7M100.85 588.61h0.7M106.09 585.07h0.7M108.85 584.04h0.7M96.11 595.1h0.7M103.81 586.69h0.7M108.24 581.41h0.7M102.04 581.69h0.7M107.21 587.11h0.7M105.33 579.1h0.7M100.28 578.44h0.7M97.59 581.75h0.7M105.8 587.55h0.7M95.44 588.19h0.7M106.13 592.68h0.7M108.59 578.16h0.7M106.77 586.32h0.7M105.97 581.78h0.7M111.46 585.67h0.7M101.47 576.71h0.7M103.09 578.76h0.7M97.05 592.89h0.7M104.02 589.82h0.7M109.86 588.68h0.7M102.23 579.69h0.7M103.54 585.79h0.7M103.63 583.78h0.7M105.05 578.43h0.7M109.6 579.65h0.7M104.95 581.07h0.7M111.08 582.57h0.7M99.76 583.45h0.7M108.72 579.38h0.7M97.89 582.7h0.7M108.12 571.33h0.7M108.95 595.88h0.7M103.48 589.6h0.7M103.72 576.42h0.7M102.22 588.11h0.7M98.81 583.8h0.7M101.06 587.04h0.7M116.68 585.58h0.7M97.9 593.07h0.7M102.9 583.21h0.7M106.84 588.81h0.7M105.45 586.84h0.7M105.25 579.47h0.7M108.26 589.33h0.7M100.45 576.87h0.7M101.35 586.06h0.7" stroke="#000" stroke-width="0.7" fill="none" stroke-opacity="0.7"/>
<path d="M129.09 585.99h0.7M99.97 581.4h0.7M120.68 585.79h0.7M110.81 582.88h0.7M121.15 587.77h0.7M125.38 592.05h0.7M116.01 582.73h0.7M117.49 586.78h0.7M132.78 585.93h0.7M121.3 580.79h0.7M112.29 592.18h0.7M119.76 590.87h0.7M125.44 582.76h0.7M121.85 580.86h0.7M124.25 584.21h0.7M125.22 590.31h0.7M116.62 588.1h0.7M123.03 582.54h0.7M122.03 590.18h0.7M121.33 589h0.7M122.48 590.3h0.7M119.49 583.27h0.7M124.28 574.93h0.7M117.09 591.29h0.7M115.66 592.63h0.7M130.43 582.9h0.7M115.59 586.3h0.7M126.02 592.52h0.7M129.93 581.97h0.7M125.75 582.7h0.7M127.1 586.98h0.7M129.39 584.65h0.7M125.54 579.37h0.7M114.26 586.75h0.7M121 588.58h0.7M134.83 582.49h0.7M112.91 579.88h0.7M116.46 589.66h0.7M122.76 583.5h0.7M124.61 584.13h0.7M121.99 584.7h0.7M111.85 587.99h0.7M121.5 594.46h0.7M121.01 582.13h0.7M121.51 581.58h0.7M120.16 583.08h0.7M122.5 580.76h0.7M119.72 582.89h0.7M114.23 584.2h0.7M124.78 588.03h0.7M122.38 584.26h0.7M126.41 583.67h0.7M124.66 577.29h0.7M112.83 581.26h0.7M127.57 583.77h0.7M123.32 579.99h0.7M110.89 596.62h0.7M130.86 592.71h0.7M120.49 581.79h0.7M122.06 583.68h0.7M117.48 573.76h0.7M121.85 575.08h0.7M117.21 577.88h0.7M133.09 579.48h0.7M117.94 586.23h0.7M118.44 585.68h0.7M126.34 582.08h0.7M123.74 584.21h0.7M112.13 585.65h0.7M113.65 588.98h0.7M120.51 585.42h0.7M126.8 581.23h0.7M115.42 590.78h0.7M125.06 586.7h0.7M107.84 584.34h0.7M114.45 581.8h0.7M110.08 577.12h0.7M117.7 586.22h0.7M117.26 583.75h0.7M120.98 590.56h0.7M116.79 585.09h0.7M138.06 585.08h0.7M125.73 579.58h0.7M113.74 582.45h0.7M140.13 582.52h0.7M129.53 582.72h0.7M112.49 576.13h0.7M121.54 589.29h0.7M115.41 582.68h0.7M113.39 581.19h0.7M127.07 582.45h0.7M113.79 587.09h0.7M122.23 584.47h0.7M133.78 586.36h0.7M128 579.41h0.7M120.09 590.16h0.7M125.39 588.78h0.7M111 583.07h0.7M131.4 591.38h0.7M100.59 575.66h0.7M129.4 588.39h0.7M129.17 572.59h0.7M121.15 588.13h0.7M128.52 580.6h0.7M127.44 588.31h0.7M117.19 591.47h0.7M128.86 588.79h0.7M117.55 585.74h0.7M120.4 591.91h0.7M136.59 581.35h0.7M133.69 586.96h0.7M116.14 581.27h0.7M130.67 586.33h0.7M116.23 583.6h0.7M118.06 583.94h0.7M132.46 581.97h0.7M118.51 571.19h0.7M123.91 588.85h0.7M134.14 582.3h0.7M118.65 582.76h0.7M112.41 584.31h0.7M115.45 583.42h0.7M121.62 587.93h0.7M121 595.16h0.7M122.81 586.96h0.7M124.04 584.27h0.7M127 585.47h0.7M111.73 581.97h0.7M130.42 577.82h0.7M132.29 585.46h0.7M122.35 590.1h0.7M122.14 582.54h0.7M106.14 581.39h0.7M112.84 587.39h0.7M121.3 580.45h0.7M128.42 588.71h0.7M135.4 586.22h0.7M112.45 584.75h0.7M125.69 588.62h0.7M111.86 586.37h0.7M125.11 586.44h0.7M109.83 582.19h0.7M119.85 583.54h0.7M126.72 583.06h0.7M108.41 574.83h0.7M123.83 581.11h0.7M120.37 589.38h0.7M117.16 584.28h0.7M111.03 578.94h0.7M124.56 589.76h0.7M116.29 583.57h0.7M122.85 582.68h0.7M121.13 582.81h0.7M124.65 582.4h0.7M117.48 578.45h0.7M115.51 577.84h0.7M119.72 588.85h0.7M112.07 580.5h0.7M115.54 586.36h0.7M118.63 583.03h0.7" stroke="#000" stroke-width="0.7" fill="none" stroke-opacity="0.55"/>
<path d="M124.77 583.04h0.7M128.49 580.9h0.7M139.35 586.03h0.7M129.67 585.32h0.7M144.78 586.52h0.7M127.36 583.96h0.7M137.71 585.9h0.7M128.96 584.47h0.7M123.76 582.8h0.7M128.13 583.12h0.7M139.03 584.2h0.7M137.81 584.06h0.7M121.4 588.87h0.7M127.32 583.61h0.7M137.45 589.57h0.7M131.64 589.07h0.7M127.61 586.61h0.7M125.06 587.92h0.7M127.18 586.64h0.7M123.27 589.73h0.7M140.69 583.04h0.7M131.06 580.29h0.7M129.45 578.37h0.7M135.09 583.78h0.7M137.84 584.06h0.7M129.25 580.8h0.7M134.58 583.57h0.7M123.31 578.21h0.7M136.55 583.65h0.7M130.24 581.9h0.7M127.41 584h0.7M131.87 579.36h0.7M118.89 584.32h0.7M137.59 581.5h0.7M122.26 586.16h0.7M126.85 584.03h0.7M140.85 584.05h0.7M138.87 580.98h0.7M119.43 582.53h0.7M128.27 586.69h0.7" stroke="#000" stroke-width="0.7" fill="none" stroke-opacity="0.35"/>
</g></g>
<rect x="93.6" y="564.3" width="52.8" height="46.7" fill="none" stroke="#9a9a9a" stroke-width="0.8"/>
<rect x="113.7" y="564.3" width="31.9" height="29.9" fill="none" stroke="#1a1a1a" stroke-width="1.2"/>
<text x="113.1" y="605.2" font-size="8.6" text-anchor="middle" textLength="4.6" lengthAdjust="spacingAndGlyphs">6</text>
<text x="224.7" y="462.5" font-size="10.4" text-anchor="middle" textLength="24.6" lengthAdjust="spacingAndGlyphs">IFN-γ</text>
<text x="224.9" y="553.2" font-size="10.4" text-anchor="middle" textLength="30" lengthAdjust="spacingAndGlyphs">TNF-α</text>
<text transform="translate(165.4 542.9) rotate(-90)" font-size="10.4" text-anchor="middle" textLength="52" lengthAdjust="spacingAndGlyphs">Percent cells</text>
<line x1="188.1" y1="469.5" x2="188.1" y2="523.8" stroke="#111" stroke-width="1.55"/>
<line x1="184.7" y1="472.3" x2="188.1" y2="472.3" stroke="#111" stroke-width="1.15"/>
<text x="181.2" y="475.47" font-size="8.8" text-anchor="end" textLength="8.51" lengthAdjust="spacingAndGlyphs">20</text>
<line x1="184.7" y1="485" x2="188.1" y2="485" stroke="#111" stroke-width="1.15"/>
<text x="181.2" y="488.17" font-size="8.8" text-anchor="end" textLength="8.51" lengthAdjust="spacingAndGlyphs">15</text>
<line x1="184.7" y1="498.2" x2="188.1" y2="498.2" stroke="#111" stroke-width="1.15"/>
<text x="181.2" y="501.37" font-size="8.8" text-anchor="end" textLength="8.51" lengthAdjust="spacingAndGlyphs">10</text>
<line x1="184.7" y1="511.1" x2="188.1" y2="511.1" stroke="#111" stroke-width="1.15"/>
<text x="181.2" y="514.27" font-size="8.8" text-anchor="end" textLength="4.26" lengthAdjust="spacingAndGlyphs">5</text>
<line x1="184.7" y1="523.8" x2="188.1" y2="523.8" stroke="#111" stroke-width="1.15"/>
<text x="181.2" y="526.97" font-size="8.8" text-anchor="end" textLength="4.26" lengthAdjust="spacingAndGlyphs">0</text>
<line x1="187.32" y1="523.8" x2="260.8" y2="523.8" stroke="#111" stroke-width="1.55"/>
<line x1="206.1" y1="523.8" x2="206.1" y2="526.8" stroke="#111" stroke-width="1.1"/>
<line x1="242.3" y1="523.8" x2="242.3" y2="526.8" stroke="#111" stroke-width="1.1"/>
<rect x="198.2" y="483.6" width="4.2" height="4.2" fill="#fff" stroke="#B8082F" stroke-width="1.1"/>
<rect x="204" y="486.4" width="4.2" height="4.2" fill="#fff" stroke="#B8082F" stroke-width="1.1"/>
<rect x="207.4" y="482.9" width="4.2" height="4.2" fill="#fff" stroke="#B8082F" stroke-width="1.1"/>
<rect x="210.2" y="485.2" width="4.2" height="4.2" fill="#fff" stroke="#B8082F" stroke-width="1.1"/>
<line x1="194.5" y1="486.8" x2="218.5" y2="486.8" stroke="#111" stroke-width="1.2"/>
<line x1="206.5" y1="485.9" x2="206.5" y2="487.7" stroke="#111" stroke-width="0.9"/>
<line x1="200.5" y1="485.9" x2="212.5" y2="485.9" stroke="#111" stroke-width="1"/>
<line x1="200.5" y1="487.7" x2="212.5" y2="487.7" stroke="#111" stroke-width="1"/>
<rect x="239.8" y="486.7" width="5" height="5" fill="#2F4E86"/>
<rect x="239.8" y="494.7" width="5" height="5" fill="#2F4E86"/>
<rect x="239.8" y="501" width="5" height="5" fill="#2F4E86"/>
<rect x="246" y="499.3" width="5" height="5" fill="#2F4E86"/>
<rect x="238" y="498.7" width="5" height="5" fill="#2F4E86"/>
<line x1="230.8" y1="498.2" x2="255" y2="498.2" stroke="#111" stroke-width="1.2"/>
<line x1="242.9" y1="494.9" x2="242.9" y2="501.5" stroke="#111" stroke-width="0.9"/>
<line x1="236.9" y1="494.9" x2="248.9" y2="494.9" stroke="#111" stroke-width="1"/>
<line x1="236.9" y1="501.5" x2="248.9" y2="501.5" stroke="#111" stroke-width="1"/>
<text x="242.3" y="485.35" font-size="9.5" text-anchor="middle" font-weight="bold">*</text>
<line x1="188.1" y1="560.4" x2="188.1" y2="614.6" stroke="#111" stroke-width="1.55"/>
<line x1="184.7" y1="563.4" x2="188.1" y2="563.4" stroke="#111" stroke-width="1.15"/>
<text x="181.2" y="566.57" font-size="8.8" text-anchor="end" textLength="8.51" lengthAdjust="spacingAndGlyphs">15</text>
<line x1="184.7" y1="580" x2="188.1" y2="580" stroke="#111" stroke-width="1.15"/>
<text x="181.2" y="583.17" font-size="8.8" text-anchor="end" textLength="8.51" lengthAdjust="spacingAndGlyphs">10</text>
<line x1="184.7" y1="597.3" x2="188.1" y2="597.3" stroke="#111" stroke-width="1.15"/>
<text x="181.2" y="600.47" font-size="8.8" text-anchor="end" textLength="4.26" lengthAdjust="spacingAndGlyphs">5</text>
<line x1="184.7" y1="614.6" x2="188.1" y2="614.6" stroke="#111" stroke-width="1.15"/>
<text x="181.2" y="617.77" font-size="8.8" text-anchor="end" textLength="4.26" lengthAdjust="spacingAndGlyphs">0</text>
<line x1="187.32" y1="614.6" x2="260.8" y2="614.6" stroke="#111" stroke-width="1.55"/>
<line x1="206.1" y1="614.6" x2="206.1" y2="617.6" stroke="#111" stroke-width="1.1"/>
<line x1="242.3" y1="614.6" x2="242.3" y2="617.6" stroke="#111" stroke-width="1.1"/>
<rect x="198.2" y="574.9" width="4.2" height="4.2" fill="#fff" stroke="#B8082F" stroke-width="1.1"/>
<rect x="204" y="580.9" width="4.2" height="4.2" fill="#fff" stroke="#B8082F" stroke-width="1.1"/>
<rect x="204.4" y="577.9" width="4.2" height="4.2" fill="#fff" stroke="#B8082F" stroke-width="1.1"/>
<rect x="210.2" y="578.4" width="4.2" height="4.2" fill="#fff" stroke="#B8082F" stroke-width="1.1"/>
<line x1="194.5" y1="579.5" x2="218.5" y2="579.5" stroke="#111" stroke-width="1.2"/>
<line x1="206.5" y1="578.5" x2="206.5" y2="580.5" stroke="#111" stroke-width="0.9"/>
<line x1="200.5" y1="578.5" x2="212.5" y2="578.5" stroke="#111" stroke-width="1"/>
<line x1="200.5" y1="580.5" x2="212.5" y2="580.5" stroke="#111" stroke-width="1"/>
<rect x="234" y="579.8" width="5" height="5" fill="#2F4E86"/>
<rect x="239.8" y="583.7" width="5" height="5" fill="#2F4E86"/>
<rect x="234" y="589.7" width="5" height="5" fill="#2F4E86"/>
<rect x="245.6" y="586.7" width="5" height="5" fill="#2F4E86"/>
<rect x="239.8" y="590.2" width="5" height="5" fill="#2F4E86"/>
<rect x="245.6" y="590.2" width="5" height="5" fill="#2F4E86"/>
<rect x="239.8" y="593" width="5" height="5" fill="#2F4E86"/>
<line x1="230.8" y1="590.4" x2="255" y2="590.4" stroke="#111" stroke-width="1.2"/>
<line x1="242.9" y1="588.6" x2="242.9" y2="592.2" stroke="#111" stroke-width="0.9"/>
<line x1="236.9" y1="588.6" x2="248.9" y2="588.6" stroke="#111" stroke-width="1"/>
<line x1="236.9" y1="592.2" x2="248.9" y2="592.2" stroke="#111" stroke-width="1"/>
<text x="242.3" y="581.95" font-size="9.5" text-anchor="middle" font-weight="bold">*</text>
<text x="206.4" y="629.4" font-size="8.8" text-anchor="middle" textLength="15.6" lengthAdjust="spacingAndGlyphs">Con</text>
<text x="242.8" y="629.4" font-size="8.8" text-anchor="middle" textLength="32.8" lengthAdjust="spacingAndGlyphs">AUY922</text>
<text x="362.3" y="457.1" font-size="10.4" text-anchor="middle" textLength="24.9" lengthAdjust="spacingAndGlyphs">IFN-γ</text>
<text x="358.7" y="548.3" font-size="10.4" text-anchor="middle" textLength="29.7" lengthAdjust="spacingAndGlyphs">TNF-α</text>
<text transform="translate(297.6 538.5) rotate(-90)" font-size="10.4" text-anchor="middle" textLength="53" lengthAdjust="spacingAndGlyphs">pg/ml serum</text>
<line x1="325.1" y1="464.2" x2="325.1" y2="523.8" stroke="#111" stroke-width="1.55"/>
<line x1="321.7" y1="467.2" x2="325.1" y2="467.2" stroke="#111" stroke-width="1.15"/>
<text x="318.2" y="470.37" font-size="8.8" text-anchor="end" textLength="12.77" lengthAdjust="spacingAndGlyphs">300</text>
<line x1="321.7" y1="486.2" x2="325.1" y2="486.2" stroke="#111" stroke-width="1.15"/>
<text x="318.2" y="489.37" font-size="8.8" text-anchor="end" textLength="12.77" lengthAdjust="spacingAndGlyphs">200</text>
<line x1="321.7" y1="505.1" x2="325.1" y2="505.1" stroke="#111" stroke-width="1.15"/>
<text x="318.2" y="508.27" font-size="8.8" text-anchor="end" textLength="12.77" lengthAdjust="spacingAndGlyphs">100</text>
<line x1="321.7" y1="523.8" x2="325.1" y2="523.8" stroke="#111" stroke-width="1.15"/>
<text x="318.2" y="526.97" font-size="8.8" text-anchor="end" textLength="4.26" lengthAdjust="spacingAndGlyphs">0</text>
<line x1="324.33" y1="523.8" x2="397.3" y2="523.8" stroke="#111" stroke-width="1.55"/>
<line x1="343.5" y1="523.8" x2="343.5" y2="526.8" stroke="#111" stroke-width="1.1"/>
<line x1="380" y1="523.8" x2="380" y2="526.8" stroke="#111" stroke-width="1.1"/>
<rect x="341.4" y="473.7" width="4.2" height="4.2" fill="#fff" stroke="#B8082F" stroke-width="1.1"/>
<rect x="335.7" y="480.1" width="4.2" height="4.2" fill="#fff" stroke="#B8082F" stroke-width="1.1"/>
<rect x="341.4" y="486.8" width="4.2" height="4.2" fill="#fff" stroke="#B8082F" stroke-width="1.1"/>
<rect x="335.7" y="499.1" width="4.2" height="4.2" fill="#fff" stroke="#B8082F" stroke-width="1.1"/>
<rect x="341.4" y="499.1" width="4.2" height="4.2" fill="#fff" stroke="#B8082F" stroke-width="1.1"/>
<rect x="347.2" y="499.1" width="4.2" height="4.2" fill="#fff" stroke="#B8082F" stroke-width="1.1"/>
<rect x="338.4" y="501.9" width="4.2" height="4.2" fill="#fff" stroke="#B8082F" stroke-width="1.1"/>
<rect x="335.7" y="505.1" width="4.2" height="4.2" fill="#fff" stroke="#B8082F" stroke-width="1.1"/>
<rect x="347.3" y="505.1" width="4.2" height="4.2" fill="#fff" stroke="#B8082F" stroke-width="1.1"/>
<rect x="335.2" y="508.9" width="4.2" height="4.2" fill="#fff" stroke="#B8082F" stroke-width="1.1"/>
<rect x="341.4" y="509.1" width="4.2" height="4.2" fill="#fff" stroke="#B8082F" stroke-width="1.1"/>
<rect x="347.5" y="508.5" width="4.2" height="4.2" fill="#fff" stroke="#B8082F" stroke-width="1.1"/>
<rect x="347.4" y="512.1" width="4.2" height="4.2" fill="#fff" stroke="#B8082F" stroke-width="1.1"/>
<rect x="341.4" y="516.4" width="4.2" height="4.2" fill="#fff" stroke="#B8082F" stroke-width="1.1"/>
<line x1="331.5" y1="502.3" x2="355.8" y2="502.3" stroke="#111" stroke-width="1.2"/>
<line x1="343.65" y1="499.6" x2="343.65" y2="505" stroke="#111" stroke-width="0.9"/>
<line x1="337.65" y1="499.6" x2="349.65" y2="499.6" stroke="#111" stroke-width="1"/>
<line x1="337.65" y1="505" x2="349.65" y2="505" stroke="#111" stroke-width="1"/>
<rect x="377.5" y="510.2" width="5" height="5" fill="#2F4E86"/>
<rect x="377.5" y="513.5" width="5" height="5" fill="#2F4E86"/>
<rect x="374.5" y="515" width="5" height="5" fill="#2F4E86"/>
<rect x="380.5" y="515" width="5" height="5" fill="#2F4E86"/>
<rect x="369" y="517.5" width="5" height="5" fill="#2F4E86"/>
<rect x="372.5" y="517" width="5" height="5" fill="#2F4E86"/>
<rect x="376.5" y="518" width="5" height="5" fill="#2F4E86"/>
<rect x="380.5" y="517.3" width="5" height="5" fill="#2F4E86"/>
<rect x="384.5" y="517.8" width="5" height="5" fill="#2F4E86"/>
<rect x="387.5" y="517.5" width="5" height="5" fill="#2F4E86"/>
<line x1="367.8" y1="519.2" x2="391.5" y2="519.2" stroke="#111" stroke-width="1.2"/>
<line x1="379.65" y1="517.9" x2="379.65" y2="520.5" stroke="#111" stroke-width="0.9"/>
<line x1="373.65" y1="517.9" x2="385.65" y2="517.9" stroke="#111" stroke-width="1"/>
<line x1="373.65" y1="520.5" x2="385.65" y2="520.5" stroke="#111" stroke-width="1"/>
<text x="380" y="500.75" font-size="9.5" text-anchor="middle" font-weight="bold">***</text>
<line x1="325.1" y1="555.3" x2="325.1" y2="614.6" stroke="#111" stroke-width="1.55"/>
<line x1="321.7" y1="558.1" x2="325.1" y2="558.1" stroke="#111" stroke-width="1.15"/>
<text x="318.2" y="561.27" font-size="8.8" text-anchor="end" textLength="8.51" lengthAdjust="spacingAndGlyphs">80</text>
<line x1="321.7" y1="571.9" x2="325.1" y2="571.9" stroke="#111" stroke-width="1.15"/>
<text x="318.2" y="575.07" font-size="8.8" text-anchor="end" textLength="8.51" lengthAdjust="spacingAndGlyphs">60</text>
<line x1="321.7" y1="586.2" x2="325.1" y2="586.2" stroke="#111" stroke-width="1.15"/>
<text x="318.2" y="589.37" font-size="8.8" text-anchor="end" textLength="8.51" lengthAdjust="spacingAndGlyphs">40</text>
<line x1="321.7" y1="600.3" x2="325.1" y2="600.3" stroke="#111" stroke-width="1.15"/>
<text x="318.2" y="603.47" font-size="8.8" text-anchor="end" textLength="8.51" lengthAdjust="spacingAndGlyphs">20</text>
<line x1="321.7" y1="614.6" x2="325.1" y2="614.6" stroke="#111" stroke-width="1.15"/>
<text x="318.2" y="617.77" font-size="8.8" text-anchor="end" textLength="4.26" lengthAdjust="spacingAndGlyphs">0</text>
<line x1="324.33" y1="614.6" x2="397.3" y2="614.6" stroke="#111" stroke-width="1.55"/>
<line x1="343.5" y1="614.6" x2="343.5" y2="617.6" stroke="#111" stroke-width="1.1"/>
<line x1="380" y1="614.6" x2="380" y2="617.6" stroke="#111" stroke-width="1.1"/>
<rect x="341.4" y="568.7" width="4.2" height="4.2" fill="#fff" stroke="#B8082F" stroke-width="1.1"/>
<rect x="341.4" y="587.8" width="4.2" height="4.2" fill="#fff" stroke="#B8082F" stroke-width="1.1"/>
<rect x="331.7" y="595.2" width="4.2" height="4.2" fill="#fff" stroke="#B8082F" stroke-width="1.1"/>
<rect x="336.4" y="595.7" width="4.2" height="4.2" fill="#fff" stroke="#B8082F" stroke-width="1.1"/>
<rect x="341.4" y="594.9" width="4.2" height="4.2" fill="#fff" stroke="#B8082F" stroke-width="1.1"/>
<rect x="346.4" y="595.7" width="4.2" height="4.2" fill="#fff" stroke="#B8082F" stroke-width="1.1"/>
<rect x="351.2" y="595.2" width="4.2" height="4.2" fill="#fff" stroke="#B8082F" stroke-width="1.1"/>
<rect x="333.9" y="599.9" width="4.2" height="4.2" fill="#fff" stroke="#B8082F" stroke-width="1.1"/>
<rect x="338.9" y="600.5" width="4.2" height="4.2" fill="#fff" stroke="#B8082F" stroke-width="1.1"/>
<rect x="343.9" y="599.9" width="4.2" height="4.2" fill="#fff" stroke="#B8082F" stroke-width="1.1"/>
<rect x="348.9" y="600.3" width="4.2" height="4.2" fill="#fff" stroke="#B8082F" stroke-width="1.1"/>
<rect x="341.4" y="603.4" width="4.2" height="4.2" fill="#fff" stroke="#B8082F" stroke-width="1.1"/>
<rect x="335.4" y="602.7" width="4.2" height="4.2" fill="#fff" stroke="#B8082F" stroke-width="1.1"/>
<rect x="346.9" y="602.9" width="4.2" height="4.2" fill="#fff" stroke="#B8082F" stroke-width="1.1"/>
<line x1="331.5" y1="598.6" x2="355.8" y2="598.6" stroke="#111" stroke-width="1.2"/>
<line x1="343.65" y1="596.1" x2="343.65" y2="601.1" stroke="#111" stroke-width="0.9"/>
<line x1="337.65" y1="596.1" x2="349.65" y2="596.1" stroke="#111" stroke-width="1"/>
<line x1="337.65" y1="601.1" x2="349.65" y2="601.1" stroke="#111" stroke-width="1"/>
<rect x="370.2" y="601.3" width="4.6" height="4.6" fill="#2F4E86"/>
<rect x="374" y="600.9" width="4.6" height="4.6" fill="#2F4E86"/>
<rect x="377.7" y="601.3" width="4.6" height="4.6" fill="#2F4E86"/>
<rect x="381.5" y="600.9" width="4.6" height="4.6" fill="#2F4E86"/>
<rect x="385.2" y="601.3" width="4.6" height="4.6" fill="#2F4E86"/>
<rect x="368.5" y="604.3" width="4.6" height="4.6" fill="#2F4E86"/>
<rect x="372.2" y="604.7" width="4.6" height="4.6" fill="#2F4E86"/>
<rect x="376" y="604.3" width="4.6" height="4.6" fill="#2F4E86"/>
<rect x="379.7" y="604.7" width="4.6" height="4.6" fill="#2F4E86"/>
<rect x="383.5" y="604.3" width="4.6" height="4.6" fill="#2F4E86"/>
<rect x="387.1" y="604.3" width="4.6" height="4.6" fill="#2F4E86"/>
<rect x="372.7" y="605.7" width="4.6" height="4.6" fill="#2F4E86"/>
<rect x="378.7" y="605.7" width="4.6" height="4.6" fill="#2F4E86"/>
<rect x="384.7" y="605.7" width="4.6" height="4.6" fill="#2F4E86"/>
<line x1="367.8" y1="605.4" x2="391.5" y2="605.4" stroke="#111" stroke-width="1.2"/>
<line x1="379.65" y1="604.2" x2="379.65" y2="606.6" stroke="#111" stroke-width="0.9"/>
<line x1="373.65" y1="604.2" x2="385.65" y2="604.2" stroke="#111" stroke-width="1"/>
<line x1="373.65" y1="606.6" x2="385.65" y2="606.6" stroke="#111" stroke-width="1"/>
<text x="380" y="584.15" font-size="9.5" text-anchor="middle" font-weight="bold">***</text>
<text x="344" y="629.5" font-size="8.8" text-anchor="middle" textLength="15.8" lengthAdjust="spacingAndGlyphs">Con</text>
<text x="380.2" y="629.5" font-size="8.8" text-anchor="middle" textLength="32.8" lengthAdjust="spacingAndGlyphs">AUY922</text>
<path d="M0 0H520V639H0Z M1.5 1.4V637H518.5V1.4Z" fill="#000" fill-rule="evenodd"/>
</svg>
</body></html>
